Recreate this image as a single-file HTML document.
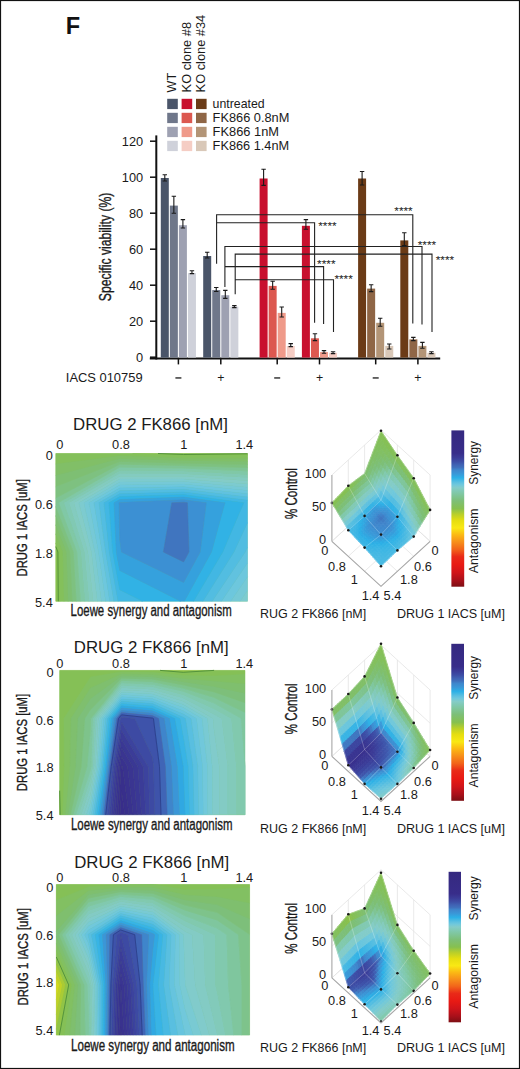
<!DOCTYPE html><html><head><meta charset="utf-8"><style>html,body{margin:0;padding:0;background:#fff;}svg{display:block;}text{font-family:"Liberation Sans",sans-serif;}.c{stroke:#1a1a1a;stroke-width:0.35px;}</style></head><body>
<svg width="520" height="1069" viewBox="0 0 520 1069">
<rect x="0" y="0" width="520" height="1069" fill="#fff"/>
<text x="65.8" y="33.6" font-size="23.5" font-weight="bold" fill="#111">F</text>
<rect x="167.2" y="98.8" width="10.6" height="10.3" fill="#4a5569"/>
<rect x="167.2" y="112.8" width="10.6" height="10.3" fill="#6f778a"/>
<rect x="167.2" y="126.8" width="10.6" height="10.3" fill="#9ea1b2"/>
<rect x="167.2" y="140.8" width="10.6" height="10.3" fill="#cfd1da"/>
<rect x="181.6" y="98.8" width="10.6" height="10.3" fill="#c8102e"/>
<rect x="181.6" y="112.8" width="10.6" height="10.3" fill="#dc5850"/>
<rect x="181.6" y="126.8" width="10.6" height="10.3" fill="#ef9a8a"/>
<rect x="181.6" y="140.8" width="10.6" height="10.3" fill="#f5cdc4"/>
<rect x="196" y="98.8" width="10.6" height="10.3" fill="#6b3b17"/>
<rect x="196" y="112.8" width="10.6" height="10.3" fill="#8f6646"/>
<rect x="196" y="126.8" width="10.6" height="10.3" fill="#b39577"/>
<rect x="196" y="140.8" width="10.6" height="10.3" fill="#d9c8b8"/>
<text transform="translate(176.4,92.4) rotate(-90)" font-size="12.6" fill="#1a1a1a" textLength="19.6" lengthAdjust="spacingAndGlyphs">WT</text>
<text transform="translate(191,92.4) rotate(-90)" font-size="12.6" fill="#1a1a1a" textLength="70.4" lengthAdjust="spacingAndGlyphs">KO clone #8</text>
<text transform="translate(205.3,92.4) rotate(-90)" font-size="12.6" fill="#1a1a1a" textLength="77.6" lengthAdjust="spacingAndGlyphs">KO clone #34</text>
<text x="212.6" y="107.7" font-size="12.4" fill="#1a1a1a" textLength="52" lengthAdjust="spacingAndGlyphs">untreated</text>
<text x="212.6" y="121.7" font-size="12.4" fill="#1a1a1a" textLength="76.8" lengthAdjust="spacingAndGlyphs">FK866 0.8nM</text>
<text x="212.6" y="135.7" font-size="12.4" fill="#1a1a1a" textLength="66.4" lengthAdjust="spacingAndGlyphs">FK866 1nM</text>
<text x="212.6" y="149.7" font-size="12.4" fill="#1a1a1a" textLength="76.6" lengthAdjust="spacingAndGlyphs">FK866 1.4nM</text>
<rect x="155.3" y="135.4" width="2" height="224.1" fill="#111"/>
<rect x="149.8" y="357.5" width="290.4" height="2" fill="#111"/>
<rect x="150" y="140.45" width="6" height="1.5" fill="#111"/>
<text x="143.2" y="145.7" font-size="12.8" text-anchor="end" fill="#1a1a1a">120</text>
<rect x="150" y="176.45" width="6" height="1.5" fill="#111"/>
<text x="143.2" y="181.7" font-size="12.8" text-anchor="end" fill="#1a1a1a">100</text>
<rect x="150" y="212.45" width="6" height="1.5" fill="#111"/>
<text x="143.2" y="217.7" font-size="12.8" text-anchor="end" fill="#1a1a1a">80</text>
<rect x="150" y="248.45" width="6" height="1.5" fill="#111"/>
<text x="143.2" y="253.7" font-size="12.8" text-anchor="end" fill="#1a1a1a">60</text>
<rect x="150" y="284.45" width="6" height="1.5" fill="#111"/>
<text x="143.2" y="289.7" font-size="12.8" text-anchor="end" fill="#1a1a1a">40</text>
<rect x="150" y="320.45" width="6" height="1.5" fill="#111"/>
<text x="143.2" y="325.7" font-size="12.8" text-anchor="end" fill="#1a1a1a">20</text>
<rect x="150" y="356.45" width="6" height="1.5" fill="#111"/>
<text x="143.2" y="361.7" font-size="12.8" text-anchor="end" fill="#1a1a1a">0</text>
<text transform="translate(110.9,301.2) rotate(-90)" font-size="17" class="c" fill="#1a1a1a" textLength="108.6" lengthAdjust="spacingAndGlyphs">Specific viability (%)</text>
<rect x="160.8" y="178" width="8" height="179.6" fill="#4a5569"/>
<rect x="169.85" y="205.6" width="8" height="152" fill="#6f778a"/>
<rect x="178.9" y="225.2" width="8" height="132.4" fill="#9ea1b2"/>
<rect x="187.95" y="273.1" width="8" height="84.5" fill="#cfd1da"/>
<path d="M164.8 174.8V181M162.6 174.8H167M162.6 181H167" stroke="#1a1a1a" stroke-width="1.1" fill="none"/>
<path d="M173.85 196.3V213.3M171.65 196.3H176.05M171.65 213.3H176.05" stroke="#1a1a1a" stroke-width="1.1" fill="none"/>
<path d="M182.9 219.6V228M180.7 219.6H185.1M180.7 228H185.1" stroke="#1a1a1a" stroke-width="1.1" fill="none"/>
<path d="M191.95 270.8V273.6M189.75 270.8H194.15M189.75 273.6H194.15" stroke="#1a1a1a" stroke-width="1.1" fill="none"/>
<rect x="203.2" y="256" width="8" height="101.6" fill="#4a5569"/>
<rect x="212.25" y="290.1" width="8" height="67.5" fill="#6f778a"/>
<rect x="221.3" y="295.2" width="8" height="62.4" fill="#9ea1b2"/>
<rect x="230.35" y="306.7" width="8" height="50.9" fill="#cfd1da"/>
<path d="M207.2 252.3V258M205 252.3H209.4M205 258H209.4" stroke="#1a1a1a" stroke-width="1.1" fill="none"/>
<path d="M216.25 287.5V291.5M214.05 287.5H218.45M214.05 291.5H218.45" stroke="#1a1a1a" stroke-width="1.1" fill="none"/>
<path d="M225.3 290.4V298.4M223.1 290.4H227.5M223.1 298.4H227.5" stroke="#1a1a1a" stroke-width="1.1" fill="none"/>
<path d="M234.35 305.6V307.6M232.15 305.6H236.55M232.15 307.6H236.55" stroke="#1a1a1a" stroke-width="1.1" fill="none"/>
<rect x="259.6" y="178.5" width="8" height="179.1" fill="#c8102e"/>
<rect x="268.65" y="285.9" width="8" height="71.7" fill="#dc5850"/>
<rect x="277.7" y="312.9" width="8" height="44.7" fill="#ef9a8a"/>
<rect x="286.75" y="346" width="8" height="11.6" fill="#f5cdc4"/>
<path d="M263.6 169.2V185.4M261.4 169.2H265.8M261.4 185.4H265.8" stroke="#1a1a1a" stroke-width="1.1" fill="none"/>
<path d="M272.65 281.2V289.3M270.45 281.2H274.85M270.45 289.3H274.85" stroke="#1a1a1a" stroke-width="1.1" fill="none"/>
<path d="M281.7 307V317M279.5 307H283.9M279.5 317H283.9" stroke="#1a1a1a" stroke-width="1.1" fill="none"/>
<path d="M290.75 343.6V346.6M288.55 343.6H292.95M288.55 346.6H292.95" stroke="#1a1a1a" stroke-width="1.1" fill="none"/>
<rect x="301.9" y="225.8" width="8" height="131.8" fill="#c8102e"/>
<rect x="310.95" y="338.3" width="8" height="19.3" fill="#dc5850"/>
<rect x="320" y="352.1" width="8" height="5.5" fill="#ef9a8a"/>
<rect x="329.05" y="352.8" width="8" height="4.8" fill="#f5cdc4"/>
<path d="M305.9 219.6V229.3M303.7 219.6H308.1M303.7 229.3H308.1" stroke="#1a1a1a" stroke-width="1.1" fill="none"/>
<path d="M314.95 333.7V340.6M312.75 333.7H317.15M312.75 340.6H317.15" stroke="#1a1a1a" stroke-width="1.1" fill="none"/>
<path d="M324 350.6V353.2M321.8 350.6H326.2M321.8 353.2H326.2" stroke="#1a1a1a" stroke-width="1.1" fill="none"/>
<path d="M333.05 351.8V353.6M330.85 351.8H335.25M330.85 353.6H335.25" stroke="#1a1a1a" stroke-width="1.1" fill="none"/>
<rect x="358.1" y="178.5" width="8" height="179.1" fill="#6b3b17"/>
<rect x="367.15" y="288.6" width="8" height="69" fill="#8f6646"/>
<rect x="376.2" y="322.8" width="8" height="34.8" fill="#b39577"/>
<rect x="385.25" y="345.9" width="8" height="11.7" fill="#d9c8b8"/>
<path d="M362.1 171.5V185M359.9 171.5H364.3M359.9 185H364.3" stroke="#1a1a1a" stroke-width="1.1" fill="none"/>
<path d="M371.15 284.7V291.6M368.95 284.7H373.35M368.95 291.6H373.35" stroke="#1a1a1a" stroke-width="1.1" fill="none"/>
<path d="M380.2 318.2V326.3M378 318.2H382.4M378 326.3H382.4" stroke="#1a1a1a" stroke-width="1.1" fill="none"/>
<path d="M389.25 344V349M387.05 344H391.45M387.05 349H391.45" stroke="#1a1a1a" stroke-width="1.1" fill="none"/>
<rect x="400.3" y="240.4" width="8" height="117.2" fill="#6b3b17"/>
<rect x="409.35" y="339.4" width="8" height="18.2" fill="#8f6646"/>
<rect x="418.4" y="345.9" width="8" height="11.7" fill="#b39577"/>
<rect x="427.45" y="352.8" width="8" height="4.8" fill="#d9c8b8"/>
<path d="M404.3 232.7V245.5M402.1 232.7H406.5M402.1 245.5H406.5" stroke="#1a1a1a" stroke-width="1.1" fill="none"/>
<path d="M413.35 337.4V340.6M411.15 337.4H415.55M411.15 340.6H415.55" stroke="#1a1a1a" stroke-width="1.1" fill="none"/>
<path d="M422.4 342.4V348.2M420.2 342.4H424.6M420.2 348.2H424.6" stroke="#1a1a1a" stroke-width="1.1" fill="none"/>
<path d="M431.45 351.8V353.6M429.25 351.8H433.65M429.25 353.6H433.65" stroke="#1a1a1a" stroke-width="1.1" fill="none"/>
<rect x="177.65" y="359" width="1.5" height="5.4" fill="#111"/>
<rect x="175.4" y="377.3" width="6" height="1.3" fill="#1a1a1a"/>
<rect x="220.05" y="359" width="1.5" height="5.4" fill="#111"/>
<text x="220.8" y="382.2" font-size="12.4" text-anchor="middle" fill="#1a1a1a">+</text>
<rect x="276.45" y="359" width="1.5" height="5.4" fill="#111"/>
<rect x="274.2" y="377.3" width="6" height="1.3" fill="#1a1a1a"/>
<rect x="318.75" y="359" width="1.5" height="5.4" fill="#111"/>
<text x="319.5" y="382.2" font-size="12.4" text-anchor="middle" fill="#1a1a1a">+</text>
<rect x="374.95" y="359" width="1.5" height="5.4" fill="#111"/>
<rect x="372.7" y="377.3" width="6" height="1.3" fill="#1a1a1a"/>
<rect x="417.15" y="359" width="1.5" height="5.4" fill="#111"/>
<text x="417.9" y="382.2" font-size="12.4" text-anchor="middle" fill="#1a1a1a">+</text>
<text x="65.8" y="382.2" font-size="12.6" fill="#1a1a1a" textLength="76.8" lengthAdjust="spacingAndGlyphs">IACS 010759</text>
<path d="M216.6 263.8V214.8H412.8V323.5M216.6 222.8H314.6V322.8" stroke="#222" stroke-width="1.1" fill="none"/>
<path d="M224.9 287V246.5H422V324.4M224.9 266.6H323.6V324" stroke="#222" stroke-width="1.1" fill="none"/>
<path d="M235.2 294.3V254.1H432V332M235.2 279.7H333.5V332" stroke="#222" stroke-width="1.1" fill="none"/>
<text x="318.2" y="230" font-size="11.5" fill="#1a1a1a" textLength="18.4" lengthAdjust="spacingAndGlyphs">****</text>
<text x="317.1" y="268.1" font-size="11.5" fill="#1a1a1a" textLength="18.4" lengthAdjust="spacingAndGlyphs">****</text>
<text x="334.4" y="282.8" font-size="11.5" fill="#1a1a1a" textLength="18.4" lengthAdjust="spacingAndGlyphs">****</text>
<text x="394.3" y="214.8" font-size="11.5" fill="#1a1a1a" textLength="18.4" lengthAdjust="spacingAndGlyphs">****</text>
<text x="417.7" y="248.9" font-size="11.5" fill="#1a1a1a" textLength="18.4" lengthAdjust="spacingAndGlyphs">****</text>
<text x="435.7" y="264" font-size="11.5" fill="#1a1a1a" textLength="18.4" lengthAdjust="spacingAndGlyphs">****</text>
<rect x="55.8" y="453.5" width="191.7" height="147.8" fill="#86c050"/>
<path d="M183.6 453.5L247.5 453.5L247.5 455.0L183.6 455.6L132.5 453.5ZM59.4 552.0L59.9 601.3L55.8 601.3L55.8 552.0L55.8 542.9Z" fill="#88c14e" stroke="#88c14e" stroke-width="0.5"/>
<path d="M119.7 453.5L132.5 453.5L183.6 455.6L247.5 455.0L247.5 458.3L183.6 458.2L119.7 455.8L55.8 464.0L55.8 453.5ZM62.9 552.0L64.1 601.3L59.9 601.3L59.4 552.0L55.8 542.9L55.8 533.8Z" fill="#84c05b" stroke="#84c05b" stroke-width="0.5"/>
<path d="M119.7 455.8L183.6 458.2L247.5 458.3L247.5 461.5L183.6 460.8L119.7 458.7L55.8 475.4L55.8 464.0ZM66.5 552.0L68.2 601.3L64.1 601.3L62.9 552.0L55.8 533.8L55.8 524.7Z" fill="#81bf67" stroke="#81bf67" stroke-width="0.5"/>
<path d="M119.7 458.7L183.6 460.8L247.5 461.5L247.5 464.7L183.6 463.4L119.7 461.7L55.8 486.8L55.8 475.4ZM70.0 552.0L72.4 601.3L68.2 601.3L66.5 552.0L55.8 524.7L55.8 515.5Z" fill="#7ebf73" stroke="#7ebf73" stroke-width="0.5"/>
<path d="M119.7 461.7L183.6 463.4L247.5 464.7L247.5 467.9L183.6 465.9L119.7 464.6L55.8 498.2L55.8 486.8ZM73.6 552.0L76.5 601.3L72.4 601.3L70.0 552.0L55.8 515.5L55.8 506.4Z" fill="#7ec180" stroke="#7ec180" stroke-width="0.5"/>
<path d="M119.7 464.6L183.6 465.9L247.5 467.9L247.5 471.2L183.6 468.5L119.7 467.5L58.8 502.8L77.1 552.0L80.7 601.3L76.5 601.3L73.6 552.0L55.8 506.4L55.8 502.8L55.8 498.2Z" fill="#7fc493" stroke="#7fc493" stroke-width="0.5"/>
<path d="M119.7 467.5L183.6 468.5L247.5 471.2L247.5 474.4L183.6 471.1L119.7 470.4L63.8 502.8L80.7 552.0L84.8 601.3L80.7 601.3L77.1 552.0L58.8 502.8Z" fill="#80c8a6" stroke="#80c8a6" stroke-width="0.5"/>
<path d="M119.7 470.4L183.6 471.1L247.5 474.4L247.5 477.6L183.6 473.7L119.7 473.3L68.9 502.8L84.3 552.0L89.0 601.3L84.8 601.3L80.7 552.0L63.8 502.8Z" fill="#81c9b3" stroke="#81c9b3" stroke-width="0.5"/>
<path d="M119.7 473.3L183.6 473.7L247.5 477.6L247.5 480.8L183.6 476.3L119.7 476.2L73.9 502.8L87.8 552.0L93.1 601.3L89.0 601.3L84.3 552.0L68.9 502.8Z" fill="#83cbbf" stroke="#83cbbf" stroke-width="0.5"/>
<path d="M119.7 476.2L183.6 476.3L247.5 480.8L247.5 484.1L183.6 478.9L119.7 479.1L78.9 502.8L91.4 552.0L97.3 601.3L93.1 601.3L87.8 552.0L73.9 502.8Z" fill="#84ccc7" stroke="#84ccc7" stroke-width="0.5"/>
<path d="M119.7 479.1L183.6 478.9L247.5 484.1L247.5 487.3L183.6 481.5L119.7 482.0L83.9 502.8L94.9 552.0L101.4 601.3L97.3 601.3L91.4 552.0L78.9 502.8ZM247.5 590.4L247.5 601.3L240.1 601.3Z" fill="#7dcbcf" stroke="#7dcbcf" stroke-width="0.5"/>
<path d="M119.7 482.0L183.6 481.5L247.5 487.3L247.5 490.5L183.6 484.1L119.7 484.9L89.0 502.8L98.5 552.0L105.6 601.3L101.4 601.3L94.9 552.0L83.9 502.8ZM247.5 576.7L247.5 590.4L240.1 601.3L230.8 601.3Z" fill="#76c9d6" stroke="#76c9d6" stroke-width="0.5"/>
<path d="M119.7 484.9L183.6 484.1L247.5 490.5L247.5 493.7L183.6 486.7L119.7 487.9L94.0 502.8L102.1 552.0L109.7 601.3L105.6 601.3L98.5 552.0L89.0 502.8ZM247.5 563.0L247.5 576.7L230.8 601.3L221.5 601.3Z" fill="#6dc7dd" stroke="#6dc7dd" stroke-width="0.5"/>
<path d="M119.7 487.9L183.6 486.7L247.5 493.7L247.5 497.0L183.6 489.3L119.7 490.8L99.0 502.8L105.6 552.0L113.9 601.3L109.7 601.3L102.1 552.0L94.0 502.8ZM247.5 547.1L247.5 552.0L247.5 563.0L221.5 601.3L212.2 601.3L245.2 552.0Z" fill="#61c2df" stroke="#61c2df" stroke-width="0.5"/>
<path d="M119.7 490.8L183.6 489.3L247.5 497.0L247.5 500.2L183.6 491.9L119.7 493.7L104.0 502.8L109.2 552.0L118.0 601.3L113.9 601.3L105.6 552.0L99.0 502.8ZM247.5 522.5L247.5 547.1L245.2 552.0L212.2 601.3L202.9 601.3L234.0 552.0Z" fill="#52bde1" stroke="#52bde1" stroke-width="0.5"/>
<path d="M119.7 493.7L183.6 491.9L247.5 500.2L247.5 502.8L247.5 522.5L234.0 552.0L202.9 601.3L193.6 601.3L222.8 552.0L243.7 502.8L183.6 494.5L119.7 496.6L109.0 502.8L112.7 552.0L119.7 589.8L142.5 601.3L119.7 601.3L118.0 601.3L109.2 552.0L104.0 502.8Z" fill="#42b7e3" stroke="#42b7e3" stroke-width="0.5"/>
<path d="M119.7 496.6L183.6 494.5L243.7 502.8L222.8 552.0L193.6 601.3L184.3 601.3L211.5 552.0L224.9 502.8L183.6 497.1L119.7 499.5L114.1 502.8L116.3 552.0L119.7 570.5L180.6 601.3L142.5 601.3L119.7 589.8L112.7 552.0L109.0 502.8Z" fill="#31b2e5" stroke="#31b2e5" stroke-width="0.5"/>
<path d="M119.7 499.5L183.6 497.1L224.9 502.8L211.5 552.0L184.3 601.3L183.6 601.3L180.6 601.3L119.7 570.5L116.3 552.0L114.1 502.8ZM119.1 502.8L119.7 539.7L121.4 552.0L183.6 582.4L200.2 552.0L206.2 502.8L183.6 499.7L119.7 502.4Z" fill="#35a1dd" stroke="#35a1dd" stroke-width="0.5"/>
<path d="M119.7 502.4L183.6 499.7L206.2 502.8L200.2 552.0L183.6 582.4L121.4 552.0L119.7 539.7L119.1 502.8ZM171.8 502.8L163.4 552.0L183.6 561.9L189.0 552.0L187.4 502.8L183.6 502.2Z" fill="#3c90d3" stroke="#3c90d3" stroke-width="0.5"/>
<path d="M183.6 502.2L187.4 502.8L189.0 552.0L183.6 561.9L163.4 552.0L171.8 502.8Z" fill="#4075bf" stroke="#4075bf" stroke-width="0.5"/>
<path d="M158.0 453.5L183.6 454.5L247.5 453.8M58.3 601.3L57.9 552.0L55.8 546.6" stroke="#4f8f3a" stroke-width="0.9" fill="none"/>
<text x="73" y="430" font-size="15.6" fill="#1a1a1a" textLength="155" lengthAdjust="spacingAndGlyphs">DRUG 2 FK866 [nM]</text>
<text x="59.7" y="448.6" font-size="12.8" text-anchor="middle" fill="#1a1a1a">0</text>
<text x="121" y="448.6" font-size="12.8" text-anchor="middle" fill="#1a1a1a">0.8</text>
<text x="183.7" y="448.6" font-size="12.8" text-anchor="middle" fill="#1a1a1a">1</text>
<text x="244.3" y="448.6" font-size="12.8" text-anchor="middle" fill="#1a1a1a">1.4</text>
<text x="52.8" y="459.7" font-size="12.8" text-anchor="end" fill="#1a1a1a">0</text>
<text x="52.8" y="509.3" font-size="12.8" text-anchor="end" fill="#1a1a1a">0.6</text>
<text x="52.8" y="558.3" font-size="12.8" text-anchor="end" fill="#1a1a1a">1.8</text>
<text x="52.8" y="606.8" font-size="12.8" text-anchor="end" fill="#1a1a1a">5.4</text>
<text transform="translate(27.3,527.8) rotate(-90)" font-size="15" class="c" text-anchor="middle" fill="#1a1a1a" textLength="97.3" lengthAdjust="spacingAndGlyphs">DRUG 1 IACS [uM]</text>
<text x="70.6" y="615.7" font-size="16" class="c" fill="#1a1a1a" textLength="161.1" lengthAdjust="spacingAndGlyphs">Loewe synergy and antagonism</text>
<rect x="59.7" y="670.4" width="185.3" height="144.4" fill="#86c050"/>
<path d="M183.2 670.4L214.1 670.4L214.1 670.4L214.1 670.4L183.2 672.3L160.1 670.4ZM60.2 814.8L59.7 814.8L59.7 790.7Z" fill="#92c447" stroke="#92c447" stroke-width="0.5"/>
<path d="M90.6 670.4L121.5 670.4L152.4 670.4L160.1 670.4L183.2 672.3L214.1 670.4L214.1 670.4L245.0 670.4L245.0 674.3L214.1 675.9L183.2 675.5L152.4 672.3L121.5 671.8L90.6 677.0L63.9 718.5L64.3 766.7L62.8 814.8L60.2 814.8L59.7 790.7L59.7 766.7L59.7 718.5L59.7 670.4Z" fill="#85c056" stroke="#85c056" stroke-width="0.5"/>
<path d="M90.6 677.0L121.5 671.8L152.4 672.3L183.2 675.5L214.1 675.9L245.0 674.3L245.0 683.9L214.1 681.3L183.2 678.7L152.4 674.7L121.5 674.0L90.6 687.9L70.9 718.5L70.0 766.7L65.5 814.8L62.8 814.8L64.3 766.7L63.9 718.5Z" fill="#82c062" stroke="#82c062" stroke-width="0.5"/>
<path d="M90.6 687.9L121.5 674.0L152.4 674.7L183.2 678.7L214.1 681.3L245.0 683.9L245.0 693.5L214.1 686.8L183.2 682.0L152.4 677.1L121.5 676.3L90.6 698.8L77.9 718.5L75.7 766.7L68.1 814.8L65.5 814.8L70.0 766.7L70.9 718.5Z" fill="#7fbf6e" stroke="#7fbf6e" stroke-width="0.5"/>
<path d="M90.6 698.8L121.5 676.3L152.4 677.1L183.2 682.0L214.1 686.8L245.0 693.5L245.0 703.1L214.1 692.3L183.2 685.2L152.4 679.5L121.5 678.6L90.6 709.8L85.0 718.5L81.4 766.7L70.7 814.8L68.1 814.8L75.7 766.7L77.9 718.5Z" fill="#7dbf7a" stroke="#7dbf7a" stroke-width="0.5"/>
<path d="M90.6 709.8L121.5 678.6L152.4 679.5L183.2 685.2L214.1 692.3L245.0 703.1L245.0 712.8L214.1 697.7L183.2 688.4L152.4 682.0L121.5 680.8L91.0 718.5L90.6 730.6L87.2 766.7L73.3 814.8L70.7 814.8L81.4 766.7L85.0 718.5Z" fill="#7ec38b" stroke="#7ec38b" stroke-width="0.5"/>
<path d="M121.5 680.8L152.4 682.0L183.2 688.4L214.1 697.7L245.0 712.8L245.0 718.5L245.0 766.7L245.0 814.8L245.0 814.8L245.0 766.7L241.1 718.5L214.1 703.2L183.2 691.6L152.4 684.4L121.5 683.1L92.8 718.5L91.2 766.7L90.6 769.9L75.9 814.8L73.3 814.8L87.2 766.7L90.6 730.6L91.0 718.5Z" fill="#7fc69e" stroke="#7fc69e" stroke-width="0.5"/>
<path d="M121.5 683.1L152.4 684.4L183.2 691.6L214.1 703.2L241.1 718.5L245.0 766.7L245.0 814.8L236.4 814.8L236.4 766.7L231.5 718.5L214.1 708.7L183.2 694.8L152.4 686.8L121.5 685.4L94.6 718.5L92.6 766.7L90.6 777.9L78.5 814.8L75.9 814.8L90.6 769.9L91.2 766.7L92.8 718.5Z" fill="#81c9ae" stroke="#81c9ae" stroke-width="0.5"/>
<path d="M121.5 685.4L152.4 686.8L183.2 694.8L214.1 708.7L231.5 718.5L236.4 766.7L236.4 814.8L227.8 814.8L227.8 766.7L221.8 718.5L214.1 714.2L183.2 698.0L152.4 689.2L121.5 687.7L96.5 718.5L94.0 766.7L90.6 785.9L81.2 814.8L78.5 814.8L90.6 777.9L92.6 766.7L94.6 718.5Z" fill="#82caba" stroke="#82caba" stroke-width="0.5"/>
<path d="M121.5 687.7L152.4 689.2L183.2 698.0L214.1 714.2L221.8 718.5L227.8 766.7L227.8 814.8L219.3 814.8L219.3 766.7L214.1 730.6L213.0 718.5L183.2 701.2L152.4 691.6L121.5 689.9L98.3 718.5L95.4 766.7L90.6 793.9L83.8 814.8L81.2 814.8L90.6 785.9L94.0 766.7L96.5 718.5Z" fill="#83cbc4" stroke="#83cbc4" stroke-width="0.5"/>
<path d="M121.5 689.9L152.4 691.6L183.2 701.2L213.0 718.5L214.1 730.6L219.3 766.7L219.3 814.8L214.1 814.8L212.3 814.8L212.2 766.7L207.5 718.5L183.2 704.4L152.4 694.0L121.5 692.2L100.1 718.5L96.9 766.7L90.6 802.0L86.4 814.8L83.8 814.8L90.6 793.9L95.4 766.7L98.3 718.5Z" fill="#81cbcb" stroke="#81cbcb" stroke-width="0.5"/>
<path d="M121.5 692.2L152.4 694.0L183.2 704.4L207.5 718.5L212.2 766.7L212.3 814.8L207.8 814.8L207.4 766.7L202.0 718.5L183.2 707.6L152.4 696.4L121.5 694.5L102.0 718.5L98.3 766.7L90.6 810.0L89.0 814.8L86.4 814.8L90.6 802.0L96.9 766.7L100.1 718.5Z" fill="#79cad3" stroke="#79cad3" stroke-width="0.5"/>
<path d="M121.5 694.5L152.4 696.4L183.2 707.6L202.0 718.5L207.4 766.7L207.8 814.8L203.2 814.8L202.5 766.7L196.5 718.5L183.2 710.8L152.4 698.8L121.5 696.7L103.8 718.5L99.7 766.7L91.3 814.8L90.6 814.8L89.0 814.8L90.6 810.0L98.3 766.7L102.0 718.5Z" fill="#71c8db" stroke="#71c8db" stroke-width="0.5"/>
<path d="M121.5 696.7L152.4 698.8L183.2 710.8L196.5 718.5L202.5 766.7L203.2 814.8L198.7 814.8L197.7 766.7L191.0 718.5L183.2 714.0L152.4 701.2L121.5 699.0L105.7 718.5L101.2 766.7L93.1 814.8L91.3 814.8L99.7 766.7L103.8 718.5Z" fill="#66c4de" stroke="#66c4de" stroke-width="0.5"/>
<path d="M121.5 699.0L152.4 701.2L183.2 714.0L191.0 718.5L197.7 766.7L198.7 814.8L194.1 814.8L192.9 766.7L185.4 718.5L183.2 717.2L152.4 703.6L121.5 701.3L107.5 718.5L102.6 766.7L94.9 814.8L93.1 814.8L101.2 766.7L105.7 718.5Z" fill="#59bfe0" stroke="#59bfe0" stroke-width="0.5"/>
<path d="M121.5 701.3L152.4 703.6L183.2 717.2L185.4 718.5L192.9 766.7L194.1 814.8L189.6 814.8L188.1 766.7L183.2 736.6L180.0 718.5L152.4 706.0L121.5 703.5L109.3 718.5L104.0 766.7L96.7 814.8L94.9 814.8L102.6 766.7L107.5 718.5Z" fill="#48b9e2" stroke="#48b9e2" stroke-width="0.5"/>
<path d="M121.5 703.5L152.4 706.0L180.0 718.5L183.2 736.6L188.1 766.7L189.6 814.8L185.1 814.8L183.2 766.7L183.2 766.7L174.7 718.5L152.4 708.4L121.5 705.8L111.2 718.5L105.5 766.7L98.5 814.8L96.7 814.8L104.0 766.7L109.3 718.5Z" fill="#38b4e5" stroke="#38b4e5" stroke-width="0.5"/>
<path d="M121.5 705.8L152.4 708.4L174.7 718.5L183.2 766.7L183.2 766.7L185.1 814.8L183.2 814.8L179.5 814.8L177.3 766.7L169.4 718.5L152.4 710.8L121.5 708.1L113.0 718.5L106.9 766.7L100.3 814.8L98.5 814.8L105.5 766.7L111.2 718.5Z" fill="#30a8e2" stroke="#30a8e2" stroke-width="0.5"/>
<path d="M121.5 708.1L152.4 710.8L169.4 718.5L177.3 766.7L179.5 814.8L173.4 814.8L171.4 766.7L164.1 718.5L152.4 713.2L121.5 710.4L114.8 718.5L108.3 766.7L102.1 814.8L100.3 814.8L106.9 766.7L113.0 718.5Z" fill="#3b96d7" stroke="#3b96d7" stroke-width="0.5"/>
<path d="M121.5 710.4L152.4 713.2L164.1 718.5L171.4 766.7L173.4 814.8L167.2 814.8L165.4 766.7L158.7 718.5L152.4 715.6L121.5 712.6L116.7 718.5L109.7 766.7L103.9 814.8L102.1 814.8L108.3 766.7L114.8 718.5Z" fill="#3f85cb" stroke="#3f85cb" stroke-width="0.5"/>
<path d="M121.5 712.6L152.3 715.6L158.7 718.5L165.4 766.7L167.2 814.8L161.0 814.8L159.5 766.7L153.4 718.5L152.4 718.1L121.5 714.9L118.5 718.5L111.2 766.7L105.7 814.8L103.9 814.8L109.7 766.7L116.7 718.5Z" fill="#4065b6" stroke="#4065b6" stroke-width="0.5"/>
<path d="M121.5 714.9L152.4 718.1L153.4 718.5L159.5 766.7L161.0 814.8L154.8 814.8L153.5 766.7L152.4 757.0L134.7 718.5L121.5 717.2L120.4 718.5L112.6 766.7L107.5 814.8L105.7 814.8L111.2 766.7L118.5 718.5Z" fill="#3e53aa" stroke="#3e53aa" stroke-width="0.5"/>
<path d="M121.5 717.2L134.7 718.5L152.4 757.0L153.5 766.7L154.8 814.8L152.4 814.8L149.8 814.8L148.2 766.7L121.5 722.0L114.0 766.7L109.3 814.8L107.5 814.8L112.6 766.7L120.4 718.5Z" fill="#3d4aa3" stroke="#3d4aa3" stroke-width="0.5"/>
<path d="M121.5 722.0L148.2 766.7L149.8 814.8L145.7 814.8L143.1 766.7L121.5 730.6L115.5 766.7L111.1 814.8L109.3 814.8L114.0 766.7Z" fill="#3c439e" stroke="#3c439e" stroke-width="0.5"/>
<path d="M121.5 730.6L143.1 766.7L145.7 814.8L141.5 814.8L137.9 766.7L121.5 739.2L116.9 766.7L112.8 814.8L111.1 814.8L115.5 766.7Z" fill="#3b3c98" stroke="#3b3c98" stroke-width="0.5"/>
<path d="M121.5 739.2L137.9 766.7L141.5 814.8L137.3 814.8L132.8 766.7L121.5 747.8L118.3 766.7L114.6 814.8L112.8 814.8L116.9 766.7Z" fill="#3a3894" stroke="#3a3894" stroke-width="0.5"/>
<path d="M121.5 747.8L132.8 766.7L137.3 814.8L133.2 814.8L127.6 766.7L121.5 756.4L119.8 766.7L116.4 814.8L114.6 814.8L118.3 766.7Z" fill="#3a3591" stroke="#3a3591" stroke-width="0.5"/>
<path d="M121.5 756.4L127.6 766.7L133.2 814.8L129.0 814.8L122.5 766.7L121.5 764.9L121.2 766.7L118.2 814.8L116.4 814.8L119.8 766.7Z" fill="#39328e" stroke="#39328e" stroke-width="0.5"/>
<path d="M121.5 764.9L122.5 766.7L129.0 814.8L124.8 814.8L121.5 790.7L120.0 814.8L118.2 814.8L121.2 766.7Z" fill="#382f8b" stroke="#382f8b" stroke-width="0.5"/>
<path d="M121.5 790.7L124.8 814.8L121.5 814.8L120.0 814.8Z" fill="#382d8a" stroke="#382d8a" stroke-width="0.5"/>
<path d="M160.1 670.4L183.2 672.3L214.1 670.4L214.1 670.4M60.2 814.8L59.7 790.7" stroke="#4f8f3a" stroke-width="0.9" fill="none"/>
<path d="M105.7 814.8L111.2 766.7L118.5 718.5L121.5 714.9L152.4 718.1L153.4 718.5L159.5 766.7L161.0 814.8" stroke="#2b3f8f" stroke-width="0.9" fill="none"/>
<text x="73.75" y="653" font-size="15.6" fill="#1a1a1a" textLength="155" lengthAdjust="spacingAndGlyphs">DRUG 2 FK866 [nM]</text>
<text x="59.7" y="667.7" font-size="12.8" text-anchor="middle" fill="#1a1a1a">0</text>
<text x="121" y="667.7" font-size="12.8" text-anchor="middle" fill="#1a1a1a">0.8</text>
<text x="183.7" y="667.7" font-size="12.8" text-anchor="middle" fill="#1a1a1a">1</text>
<text x="244.3" y="667.7" font-size="12.8" text-anchor="middle" fill="#1a1a1a">1.4</text>
<text x="53.5" y="676.9" font-size="12.8" text-anchor="end" fill="#1a1a1a">0</text>
<text x="53.5" y="724.9" font-size="12.8" text-anchor="end" fill="#1a1a1a">0.6</text>
<text x="53.5" y="772" font-size="12.8" text-anchor="end" fill="#1a1a1a">1.8</text>
<text x="53.5" y="820" font-size="12.8" text-anchor="end" fill="#1a1a1a">5.4</text>
<text transform="translate(27.3,742.5) rotate(-90)" font-size="15" class="c" text-anchor="middle" fill="#1a1a1a" textLength="97.3" lengthAdjust="spacingAndGlyphs">DRUG 1 IACS [uM]</text>
<text x="71" y="830.1" font-size="16" class="c" fill="#1a1a1a" textLength="161.5" lengthAdjust="spacingAndGlyphs">Loewe synergy and antagonism</text>
<rect x="56.3" y="884.5" width="193.3" height="150.6" fill="#86c050"/>
<path d="M59.4 984.9L56.3 999.7L56.3 984.9L56.3 977.9Z" fill="#d4d81b" stroke="#d4d81b" stroke-width="0.5"/>
<path d="M62.5 984.9L56.3 1014.4L56.3 999.7L59.4 984.9L56.3 977.9L56.3 971.0Z" fill="#c0d126" stroke="#c0d126" stroke-width="0.5"/>
<path d="M65.6 984.9L56.3 1029.2L56.3 1014.4L62.5 984.9L56.3 971.0L56.3 964.0Z" fill="#aacb35" stroke="#aacb35" stroke-width="0.5"/>
<path d="M56.3 884.5L56.3 884.5L56.3 884.5ZM185.2 884.5L185.2 884.5L185.2 884.5L185.2 884.5ZM68.7 984.9L59.4 1035.1L56.3 1035.1L56.3 1029.2L65.6 984.9L56.3 964.0L56.3 957.0Z" fill="#92c447" stroke="#92c447" stroke-width="0.5"/>
<path d="M88.5 884.5L120.7 884.5L152.9 884.5L185.2 884.5L185.2 884.5L185.2 884.5L217.4 884.5L249.6 884.5L249.6 887.6L217.4 889.2L185.2 889.7L152.9 884.5L120.7 885.0L88.5 886.9L56.3 900.2L56.3 884.5L56.3 884.5ZM71.8 984.9L64.6 1035.1L59.4 1035.1L68.7 984.9L56.3 957.0L56.3 950.0Z" fill="#85c056" stroke="#85c056" stroke-width="0.5"/>
<path d="M88.5 886.9L120.7 885.0L152.9 884.5L185.2 889.7L217.4 889.2L249.6 887.6L249.6 903.3L217.4 897.0L185.2 895.0L152.9 887.6L120.7 887.3L88.5 890.8L56.3 915.9L56.3 900.2ZM74.9 984.9L69.8 1035.1L64.6 1035.1L71.8 984.9L56.3 950.0L56.3 943.1Z" fill="#82c062" stroke="#82c062" stroke-width="0.5"/>
<path d="M88.5 890.8L120.7 887.3L152.9 887.6L185.2 895.0L217.4 897.0L249.6 903.3L249.6 919.0L217.4 904.9L185.2 900.2L152.9 890.6L120.7 889.7L88.5 894.7L56.3 931.6L56.3 915.9ZM78.0 984.9L75.0 1035.1L69.8 1035.1L74.9 984.9L56.3 943.1L56.3 936.1Z" fill="#7fbf6e" stroke="#7fbf6e" stroke-width="0.5"/>
<path d="M88.5 894.7L120.7 889.7L152.9 890.6L185.2 900.2L217.4 904.9L249.6 919.0L249.6 934.7L249.6 934.7L249.6 934.7L217.4 912.7L185.2 905.4L152.9 893.7L120.7 892.1L88.5 898.6L58.9 934.7L81.1 984.9L80.2 1035.1L75.0 1035.1L78.0 984.9L56.3 936.1L56.3 934.7L56.3 931.6ZM249.6 1035.1L249.6 1035.1L249.6 1035.1Z" fill="#7dbf7a" stroke="#7dbf7a" stroke-width="0.5"/>
<path d="M88.5 898.6L120.7 892.1L152.9 893.7L185.2 905.4L217.4 912.7L249.6 934.7L249.6 934.7L249.6 984.9L249.6 1035.1L249.6 1035.1L241.5 1035.1L241.5 984.9L238.1 934.7L217.4 920.6L185.2 910.6L152.9 896.7L120.7 894.4L88.5 902.5L62.1 934.7L84.2 984.9L85.4 1035.1L80.2 1035.1L81.1 984.9L58.9 934.7Z" fill="#7ec38b" stroke="#7ec38b" stroke-width="0.5"/>
<path d="M88.5 902.5L120.7 894.4L152.9 896.7L185.2 910.6L217.4 920.6L238.1 934.7L241.5 984.9L241.5 1035.1L233.5 1035.1L228.1 984.9L226.6 934.7L217.4 928.4L185.2 915.9L152.9 899.8L120.7 896.8L88.5 906.5L65.3 934.7L87.3 984.9L88.5 1010.0L89.1 1035.1L88.5 1035.1L85.4 1035.1L84.2 984.9L62.1 934.7Z" fill="#7fc69e" stroke="#7fc69e" stroke-width="0.5"/>
<path d="M88.5 906.5L120.7 896.8L152.9 899.8L185.2 915.9L217.4 928.4L226.6 934.7L228.1 984.9L233.5 1035.1L225.4 1035.1L217.4 993.3L215.4 984.9L215.1 934.7L185.2 921.1L152.9 902.9L120.7 899.2L88.5 910.4L68.5 934.7L88.5 980.5L89.5 984.9L90.6 1035.1L89.1 1035.1L88.5 1010.0L87.3 984.9L65.3 934.7Z" fill="#81c9ae" stroke="#81c9ae" stroke-width="0.5"/>
<path d="M88.5 910.4L120.7 899.2L152.9 902.9L185.2 921.1L215.1 934.7L215.4 984.9L217.4 993.3L225.4 1035.1L217.4 1035.1L217.4 1035.1L205.3 984.9L203.6 934.7L185.2 926.3L152.9 905.9L120.7 901.5L88.5 914.3L71.8 934.7L88.5 973.1L91.1 984.9L92.1 1035.1L90.6 1035.1L89.5 984.9L88.5 980.5L68.5 934.7Z" fill="#82caba" stroke="#82caba" stroke-width="0.5"/>
<path d="M88.5 914.3L120.7 901.5L152.9 905.9L185.2 926.3L203.6 934.7L205.3 984.9L217.4 1035.1L209.3 1035.1L195.2 984.9L192.1 934.7L185.2 931.6L152.9 909.0L120.7 903.9L88.5 918.2L75.0 934.7L88.5 965.7L92.8 984.9L93.6 1035.1L92.1 1035.1L91.1 984.9L88.5 973.1L71.8 934.7Z" fill="#83cbc4" stroke="#83cbc4" stroke-width="0.5"/>
<path d="M88.5 918.2L120.7 903.9L152.9 909.0L185.2 931.6L192.1 934.7L195.2 984.9L209.3 1035.1L201.3 1035.1L185.2 984.9L185.2 984.9L183.5 934.7L152.9 912.0L120.7 906.3L88.5 922.1L78.2 934.7L88.5 958.3L94.4 984.9L95.1 1035.1L93.6 1035.1L92.8 984.9L88.5 965.7L75.0 934.7Z" fill="#81cbcb" stroke="#81cbcb" stroke-width="0.5"/>
<path d="M88.5 922.1L120.7 906.3L152.9 912.0L183.5 934.7L185.2 984.9L185.2 984.9L201.3 1035.1L193.2 1035.1L185.2 1010.0L179.8 984.9L179.4 934.7L152.9 915.1L120.7 908.7L88.5 926.1L81.4 934.7L88.5 950.9L96.1 984.9L96.6 1035.1L95.1 1035.1L94.4 984.9L88.5 958.3L78.2 934.7Z" fill="#79cad3" stroke="#79cad3" stroke-width="0.5"/>
<path d="M88.5 926.1L120.7 908.7L152.9 915.1L179.4 934.7L179.8 984.9L185.2 1010.0L193.2 1035.1L185.2 1035.1L185.2 1035.1L174.4 984.9L175.3 934.7L152.9 918.2L120.7 911.0L88.5 930.0L84.7 934.7L88.5 943.6L97.7 984.9L98.1 1035.1L96.6 1035.1L96.1 984.9L88.5 950.9L81.4 934.7Z" fill="#71c8db" stroke="#71c8db" stroke-width="0.5"/>
<path d="M88.5 930.0L120.7 911.0L152.9 918.2L175.3 934.7L174.4 984.9L185.2 1035.1L177.8 1035.1L169.1 984.9L171.1 934.7L152.9 921.2L120.7 913.4L88.5 933.9L87.9 934.7L88.5 936.2L99.4 984.9L99.6 1035.1L98.1 1035.1L97.7 984.9L88.5 943.6L84.7 934.7Z" fill="#66c4de" stroke="#66c4de" stroke-width="0.5"/>
<path d="M88.5 933.9L120.7 913.4L152.9 921.2L171.1 934.7L169.1 984.9L177.8 1035.1L170.5 1035.1L163.7 984.9L167.0 934.7L152.9 924.3L120.7 915.8L91.4 934.7L101.0 984.9L101.0 1035.1L99.6 1035.1L99.4 984.9L88.5 936.2L87.9 934.7Z" fill="#59bfe0" stroke="#59bfe0" stroke-width="0.5"/>
<path d="M120.7 915.8L152.9 924.3L167.0 934.7L163.7 984.9L170.5 1035.1L163.2 1035.1L158.3 984.9L162.9 934.7L152.9 927.4L120.7 918.1L95.1 934.7L102.7 984.9L102.5 1035.1L101.0 1035.1L101.0 984.9L91.4 934.7Z" fill="#48b9e2" stroke="#48b9e2" stroke-width="0.5"/>
<path d="M120.7 918.1L152.9 927.4L162.9 934.7L158.3 984.9L163.2 1035.1L155.9 1035.1L152.9 984.9L152.9 984.9L152.9 984.9L158.7 934.7L152.9 930.4L120.7 920.5L98.8 934.7L104.3 984.9L104.0 1035.1L102.5 1035.1L102.7 984.9L95.1 934.7Z" fill="#38b4e5" stroke="#38b4e5" stroke-width="0.5"/>
<path d="M120.7 920.5L152.9 930.4L158.7 934.7L152.9 984.9L152.9 984.9L152.9 984.9L155.9 1035.1L152.9 1035.1L151.2 1035.1L149.7 984.9L152.9 949.0L154.6 934.7L152.9 933.5L120.7 922.9L102.4 934.7L105.9 984.9L105.5 1035.1L104.0 1035.1L104.3 984.9L98.8 934.7Z" fill="#30a8e2" stroke="#30a8e2" stroke-width="0.5"/>
<path d="M120.7 922.9L152.9 933.5L154.6 934.7L152.9 949.0L149.7 984.9L151.2 1035.1L148.2 1035.1L146.5 984.9L148.7 934.7L120.7 925.2L106.1 934.7L107.6 984.9L107.0 1035.1L105.5 1035.1L105.9 984.9L102.4 934.7Z" fill="#3b96d7" stroke="#3b96d7" stroke-width="0.5"/>
<path d="M120.7 925.2L148.7 934.7L146.5 984.9L148.2 1035.1L145.2 1035.1L143.3 984.9L141.7 934.7L120.7 927.6L109.8 934.7L109.2 984.9L108.5 1035.1L107.0 1035.1L107.6 984.9L106.1 934.7Z" fill="#3f85cb" stroke="#3f85cb" stroke-width="0.5"/>
<path d="M120.7 927.6L141.7 934.7L143.3 984.9L145.2 1035.1L142.2 1035.1L140.1 984.9L134.7 934.7L120.7 930.0L113.4 934.7L110.9 984.9L110.0 1035.1L108.5 1035.1L109.2 984.9L109.8 934.7Z" fill="#4065b6" stroke="#4065b6" stroke-width="0.5"/>
<path d="M120.7 930.0L134.7 934.7L140.1 984.9L142.2 1035.1L139.2 1035.1L136.8 984.9L127.7 934.7L120.7 932.3L117.1 934.7L112.5 984.9L111.5 1035.1L110.0 1035.1L110.9 984.9L113.4 934.7Z" fill="#3e53aa" stroke="#3e53aa" stroke-width="0.5"/>
<path d="M120.7 932.3L127.7 934.7L136.8 984.9L139.2 1035.1L136.2 1035.1L133.6 984.9L120.7 934.7L114.2 984.9L113.0 1035.1L111.5 1035.1L112.5 984.9L117.1 934.7Z" fill="#3d4aa3" stroke="#3d4aa3" stroke-width="0.5"/>
<path d="M120.7 934.7L133.6 984.9L136.2 1035.1L133.3 1035.1L130.4 984.9L120.7 947.2L115.8 984.9L114.5 1035.1L113.0 1035.1L114.2 984.9Z" fill="#3c439e" stroke="#3c439e" stroke-width="0.5"/>
<path d="M120.7 947.2L130.4 984.9L133.3 1035.1L130.3 1035.1L127.2 984.9L120.7 959.8L117.4 984.9L116.0 1035.1L114.5 1035.1L115.8 984.9Z" fill="#3b3c98" stroke="#3b3c98" stroke-width="0.5"/>
<path d="M120.7 959.8L127.2 984.9L130.3 1035.1L127.3 1035.1L124.0 984.9L120.7 972.3L119.1 984.9L117.5 1035.1L116.0 1035.1L117.4 984.9Z" fill="#3a3894" stroke="#3a3894" stroke-width="0.5"/>
<path d="M120.7 972.3L124.0 984.9L127.3 1035.1L124.3 1035.1L120.7 984.9L118.9 1035.1L117.5 1035.1L119.1 984.9Z" fill="#3a3591" stroke="#3a3591" stroke-width="0.5"/>
<path d="M120.7 984.9L124.3 1035.1L121.3 1035.1L120.7 1026.7L120.4 1035.1L118.9 1035.1Z" fill="#39328e" stroke="#39328e" stroke-width="0.5"/>
<path d="M120.7 1026.7L121.3 1035.1L120.7 1035.1L120.4 1035.1Z" fill="#382f8b" stroke="#382f8b" stroke-width="0.5"/>
<path d="M59.4 1035.1L68.7 984.9L56.3 957.0" stroke="#4f8f3a" stroke-width="0.9" fill="none"/>
<path d="M110.0 1035.1L110.9 984.9L113.4 934.7L120.7 930.0L134.7 934.7L140.1 984.9L142.2 1035.1" stroke="#2b3f8f" stroke-width="0.9" fill="none"/>
<text x="74.2" y="867.7" font-size="15.6" fill="#1a1a1a" textLength="155" lengthAdjust="spacingAndGlyphs">DRUG 2 FK866 [nM]</text>
<text x="59.7" y="881.6" font-size="12.8" text-anchor="middle" fill="#1a1a1a">0</text>
<text x="121" y="881.6" font-size="12.8" text-anchor="middle" fill="#1a1a1a">0.8</text>
<text x="183.7" y="881.6" font-size="12.8" text-anchor="middle" fill="#1a1a1a">1</text>
<text x="244.3" y="881.6" font-size="12.8" text-anchor="middle" fill="#1a1a1a">1.4</text>
<text x="53.3" y="891.8" font-size="12.8" text-anchor="end" fill="#1a1a1a">0</text>
<text x="53.3" y="939.8" font-size="12.8" text-anchor="end" fill="#1a1a1a">0.6</text>
<text x="53.3" y="986.9" font-size="12.8" text-anchor="end" fill="#1a1a1a">1.8</text>
<text x="53.3" y="1034.5" font-size="12.8" text-anchor="end" fill="#1a1a1a">5.4</text>
<text transform="translate(27.6,956.8) rotate(-90)" font-size="15" class="c" text-anchor="middle" fill="#1a1a1a" textLength="97.3" lengthAdjust="spacingAndGlyphs">DRUG 1 IACS [uM]</text>
<text x="71" y="1051.2" font-size="16" class="c" fill="#1a1a1a" textLength="163.6" lengthAdjust="spacingAndGlyphs">Loewe synergy and antagonism</text>
<defs><linearGradient id="cbg" x1="0" y1="0" x2="0" y2="1"><stop offset="0.000" stop-color="#35297f"/><stop offset="0.145" stop-color="#382d8a"/><stop offset="0.175" stop-color="#3b3c98"/><stop offset="0.200" stop-color="#3d4ea6"/><stop offset="0.220" stop-color="#4062b4"/><stop offset="0.237" stop-color="#4070bc"/><stop offset="0.252" stop-color="#3f86cc"/><stop offset="0.278" stop-color="#3a98d8"/><stop offset="0.303" stop-color="#2cb0e6"/><stop offset="0.332" stop-color="#5cc0e0"/><stop offset="0.348" stop-color="#70c8dc"/><stop offset="0.367" stop-color="#84ccc8"/><stop offset="0.400" stop-color="#80c8a8"/><stop offset="0.450" stop-color="#7dbf78"/><stop offset="0.500" stop-color="#86c050"/><stop offset="0.537" stop-color="#b9cf2a"/><stop offset="0.578" stop-color="#e6de10"/><stop offset="0.624" stop-color="#f9e814"/><stop offset="0.670" stop-color="#fbb714"/><stop offset="0.711" stop-color="#f7921a"/><stop offset="0.762" stop-color="#f2641a"/><stop offset="0.808" stop-color="#e92a18"/><stop offset="0.858" stop-color="#e81a14"/><stop offset="0.910" stop-color="#d0141a"/><stop offset="0.960" stop-color="#a8101a"/><stop offset="1.000" stop-color="#7d0f14"/></linearGradient></defs>
<path d="M381.0 496.3L381.0 430.0M364.6 511.3L364.6 445.0M348.3 526.3L348.3 460.0M331.9 541.3L331.9 475.0M381.0 496.3L381.0 430.0M397.4 511.3L397.4 445.0M413.7 526.3L413.7 460.0M430.1 541.3L430.1 475.0M381.0 496.3L331.9 541.3M381.0 496.3L430.1 541.3M381.0 463.1L331.9 508.1M381.0 463.1L430.1 508.1M381.0 430.0L331.9 475.0M381.0 430.0L430.1 475.0M381.0 496.3L331.9 541.3M381.0 496.3L430.1 541.3M397.4 511.3L348.3 556.3M364.6 511.3L413.7 556.3M413.7 526.3L364.6 571.3M348.3 526.3L397.4 571.3M430.1 541.3L381.0 586.3M331.9 541.3L381.0 586.3" stroke="#e3e3e3" stroke-width="0.8" fill="none"/>
<path d="M381.0 430.8L383.0 433.9L381.0 439.2L379.0 436.1Z" fill="#85c056" stroke="#85c056" stroke-width="0.9"/>
<path d="M379.0 436.1L381.0 439.2L379.0 444.6L376.9 441.5Z" fill="#84c059" stroke="#84c059" stroke-width="0.9"/>
<path d="M383.0 433.9L385.1 436.9L383.0 442.3L381.0 439.2Z" fill="#85c056" stroke="#85c056" stroke-width="0.9"/>
<path d="M376.9 441.5L379.0 444.6L376.9 450.0L374.9 446.8Z" fill="#83c05c" stroke="#83c05c" stroke-width="0.9"/>
<path d="M381.0 439.2L383.0 442.3L381.0 447.7L379.0 444.6Z" fill="#84c05b" stroke="#84c05b" stroke-width="0.9"/>
<path d="M385.1 436.9L387.1 440.0L385.1 445.4L383.0 442.3Z" fill="#85c055" stroke="#85c055" stroke-width="0.9"/>
<path d="M374.9 446.8L376.9 450.0L374.9 455.3L372.8 452.1Z" fill="#82c060" stroke="#82c060" stroke-width="0.9"/>
<path d="M379.0 444.6L381.0 447.7L379.0 453.1L376.9 450.0Z" fill="#82c060" stroke="#82c060" stroke-width="0.9"/>
<path d="M383.0 442.3L385.1 445.4L383.0 450.9L381.0 447.7Z" fill="#83c05c" stroke="#83c05c" stroke-width="0.9"/>
<path d="M387.1 440.0L389.2 443.1L387.1 448.5L385.1 445.4Z" fill="#85c055" stroke="#85c055" stroke-width="0.9"/>
<path d="M372.8 452.1L374.9 455.3L372.8 460.7L370.8 457.5Z" fill="#82c063" stroke="#82c063" stroke-width="0.9"/>
<path d="M376.9 450.0L379.0 453.1L376.9 458.5L374.9 455.3Z" fill="#81bf65" stroke="#81bf65" stroke-width="0.9"/>
<path d="M381.0 447.7L383.0 450.9L381.0 456.3L379.0 453.1Z" fill="#82c063" stroke="#82c063" stroke-width="0.9"/>
<path d="M385.1 445.4L387.1 448.5L385.1 454.0L383.0 450.9Z" fill="#83c05e" stroke="#83c05e" stroke-width="0.9"/>
<path d="M389.2 443.1L391.2 446.1L389.2 451.6L387.1 448.5Z" fill="#85c056" stroke="#85c056" stroke-width="0.9"/>
<path d="M370.8 457.5L372.8 460.7L370.8 466.1L368.7 462.8Z" fill="#81bf67" stroke="#81bf67" stroke-width="0.9"/>
<path d="M374.9 455.3L376.9 458.5L374.9 464.0L372.8 460.7Z" fill="#80bf6a" stroke="#80bf6a" stroke-width="0.9"/>
<path d="M379.0 453.1L381.0 456.3L379.0 461.8L376.9 458.5Z" fill="#80bf6a" stroke="#80bf6a" stroke-width="0.9"/>
<path d="M383.0 450.9L385.1 454.0L383.0 459.5L381.0 456.3Z" fill="#81bf66" stroke="#81bf66" stroke-width="0.9"/>
<path d="M387.1 448.5L389.2 451.6L387.1 457.1L385.1 454.0Z" fill="#82c061" stroke="#82c061" stroke-width="0.9"/>
<path d="M391.2 446.1L393.3 449.2L391.2 454.7L389.2 451.6Z" fill="#84c057" stroke="#84c057" stroke-width="0.9"/>
<path d="M368.7 462.8L370.8 466.1L368.7 471.5L366.7 468.2Z" fill="#80bf6a" stroke="#80bf6a" stroke-width="0.9"/>
<path d="M372.8 460.7L374.9 464.0L372.8 469.4L370.8 466.1Z" fill="#7fbf70" stroke="#7fbf70" stroke-width="0.9"/>
<path d="M376.9 458.5L379.0 461.8L376.9 467.2L374.9 464.0Z" fill="#7ebf72" stroke="#7ebf72" stroke-width="0.9"/>
<path d="M381.0 456.3L383.0 459.5L381.0 464.9L379.0 461.8Z" fill="#7fbf6f" stroke="#7fbf6f" stroke-width="0.9"/>
<path d="M385.1 454.0L387.1 457.1L385.1 462.6L383.0 459.5Z" fill="#80bf6c" stroke="#80bf6c" stroke-width="0.9"/>
<path d="M389.2 451.6L391.2 454.7L389.2 460.3L387.1 457.1Z" fill="#81bf65" stroke="#81bf65" stroke-width="0.9"/>
<path d="M393.3 449.2L395.3 452.2L393.3 457.8L391.2 454.7Z" fill="#84c059" stroke="#84c059" stroke-width="0.9"/>
<path d="M366.7 468.2L368.7 471.5L366.7 476.8L364.6 473.5Z" fill="#7fbf6e" stroke="#7fbf6e" stroke-width="0.9"/>
<path d="M370.8 466.1L372.8 469.4L370.8 474.8L368.7 471.5Z" fill="#7dbf76" stroke="#7dbf76" stroke-width="0.9"/>
<path d="M374.9 464.0L376.9 467.2L374.9 472.6L372.8 469.4Z" fill="#7dbf7a" stroke="#7dbf7a" stroke-width="0.9"/>
<path d="M379.0 461.8L381.0 464.9L379.0 470.4L376.9 467.2Z" fill="#7dbf79" stroke="#7dbf79" stroke-width="0.9"/>
<path d="M383.0 459.5L385.1 462.6L383.0 468.1L381.0 464.9Z" fill="#7dbf77" stroke="#7dbf77" stroke-width="0.9"/>
<path d="M387.1 457.1L389.2 460.3L387.1 465.8L385.1 462.6Z" fill="#7ebf73" stroke="#7ebf73" stroke-width="0.9"/>
<path d="M391.2 454.7L393.3 457.8L391.2 463.4L389.2 460.3Z" fill="#80bf6a" stroke="#80bf6a" stroke-width="0.9"/>
<path d="M395.3 452.2L397.4 455.3L395.3 460.9L393.3 457.8Z" fill="#84c05a" stroke="#84c05a" stroke-width="0.9"/>
<path d="M368.7 471.5L370.8 474.8L368.7 480.2L366.7 476.8Z" fill="#7dc07d" stroke="#7dc07d" stroke-width="0.9"/>
<path d="M372.8 469.4L374.9 472.6L372.8 478.1L370.8 474.8Z" fill="#7ec285" stroke="#7ec285" stroke-width="0.9"/>
<path d="M376.9 467.2L379.0 470.4L376.9 475.9L374.9 472.6Z" fill="#7ec287" stroke="#7ec287" stroke-width="0.9"/>
<path d="M381.0 464.9L383.0 468.1L381.0 473.7L379.0 470.4Z" fill="#7ec287" stroke="#7ec287" stroke-width="0.9"/>
<path d="M385.1 462.6L387.1 465.8L385.1 471.3L383.0 468.1Z" fill="#7ec184" stroke="#7ec184" stroke-width="0.9"/>
<path d="M389.2 460.3L391.2 463.4L389.2 469.0L387.1 465.8Z" fill="#7dc07b" stroke="#7dc07b" stroke-width="0.9"/>
<path d="M393.3 457.8L395.3 460.9L393.3 466.5L391.2 463.4Z" fill="#7fbf6e" stroke="#7fbf6e" stroke-width="0.9"/>
<path d="M364.6 473.5L366.7 476.8L364.6 478.4L362.6 475.0Z" fill="#7fbf6e" stroke="#7fbf6e" stroke-width="0.9"/>
<path d="M397.4 455.3L399.4 458.2L397.4 463.7L395.3 460.9Z" fill="#84c05b" stroke="#84c05b" stroke-width="0.9"/>
<path d="M370.8 474.8L372.8 478.1L370.8 483.5L368.7 480.2Z" fill="#7fc493" stroke="#7fc493" stroke-width="0.9"/>
<path d="M374.9 472.6L376.9 475.9L374.9 481.4L372.8 478.1Z" fill="#7fc599" stroke="#7fc599" stroke-width="0.9"/>
<path d="M379.0 470.4L381.0 473.7L379.0 479.2L376.9 475.9Z" fill="#7fc69c" stroke="#7fc69c" stroke-width="0.9"/>
<path d="M383.0 468.1L385.1 471.3L383.0 476.9L381.0 473.7Z" fill="#7fc69c" stroke="#7fc69c" stroke-width="0.9"/>
<path d="M387.1 465.8L389.2 469.0L387.1 474.6L385.1 471.3Z" fill="#7fc495" stroke="#7fc495" stroke-width="0.9"/>
<path d="M391.2 463.4L393.3 466.5L391.2 472.1L389.2 469.0Z" fill="#7ec185" stroke="#7ec185" stroke-width="0.9"/>
<path d="M362.6 475.0L364.6 478.4L362.6 480.0L360.5 476.6Z" fill="#80bf6b" stroke="#80bf6b" stroke-width="0.9"/>
<path d="M366.7 476.8L368.7 480.2L366.7 481.8L364.6 478.4Z" fill="#7dc080" stroke="#7dc080" stroke-width="0.9"/>
<path d="M395.3 460.9L397.4 463.7L395.3 469.2L393.3 466.5Z" fill="#7fbf71" stroke="#7fbf71" stroke-width="0.9"/>
<path d="M399.4 458.2L401.5 461.0L399.4 466.4L397.4 463.7Z" fill="#83c05c" stroke="#83c05c" stroke-width="0.9"/>
<path d="M372.8 478.1L374.9 481.4L372.8 486.9L370.8 483.5Z" fill="#80c8a9" stroke="#80c8a9" stroke-width="0.9"/>
<path d="M376.9 475.9L379.0 479.2L376.9 484.7L374.9 481.4Z" fill="#81c9ae" stroke="#81c9ae" stroke-width="0.9"/>
<path d="M381.0 473.7L383.0 476.9L381.0 482.4L379.0 479.2Z" fill="#81c9b1" stroke="#81c9b1" stroke-width="0.9"/>
<path d="M385.1 471.3L387.1 474.6L385.1 480.1L383.0 476.9Z" fill="#81c9ae" stroke="#81c9ae" stroke-width="0.9"/>
<path d="M389.2 469.0L391.2 472.1L389.2 477.8L387.1 474.6Z" fill="#80c8a5" stroke="#80c8a5" stroke-width="0.9"/>
<path d="M360.5 476.6L362.6 480.0L360.5 481.6L358.5 478.1Z" fill="#81bf68" stroke="#81bf68" stroke-width="0.9"/>
<path d="M364.6 478.4L366.7 481.8L364.6 483.5L362.6 480.0Z" fill="#7dc07d" stroke="#7dc07d" stroke-width="0.9"/>
<path d="M368.7 480.2L370.8 483.5L368.7 485.2L366.7 481.8Z" fill="#7fc599" stroke="#7fc599" stroke-width="0.9"/>
<path d="M393.3 466.5L395.3 469.2L393.3 474.7L391.2 472.1Z" fill="#7ec38e" stroke="#7ec38e" stroke-width="0.9"/>
<path d="M397.4 463.7L399.4 466.4L397.4 471.9L395.3 469.2Z" fill="#7ebf73" stroke="#7ebf73" stroke-width="0.9"/>
<path d="M401.5 461.0L403.5 463.9L401.5 469.2L399.4 466.4Z" fill="#83c05c" stroke="#83c05c" stroke-width="0.9"/>
<path d="M374.9 481.4L376.9 484.7L374.9 490.2L372.8 486.9Z" fill="#82cabc" stroke="#82cabc" stroke-width="0.9"/>
<path d="M379.0 479.2L381.0 482.4L379.0 488.0L376.9 484.7Z" fill="#83cbc1" stroke="#83cbc1" stroke-width="0.9"/>
<path d="M383.0 476.9L385.1 480.1L383.0 485.7L381.0 482.4Z" fill="#83cbc1" stroke="#83cbc1" stroke-width="0.9"/>
<path d="M387.1 474.6L389.2 477.8L387.1 483.4L385.1 480.1Z" fill="#82cabc" stroke="#82cabc" stroke-width="0.9"/>
<path d="M358.5 478.1L360.5 481.6L358.5 483.2L356.4 479.6Z" fill="#81bf65" stroke="#81bf65" stroke-width="0.9"/>
<path d="M362.6 480.0L364.6 483.5L362.6 485.1L360.5 481.6Z" fill="#7dbf7a" stroke="#7dbf7a" stroke-width="0.9"/>
<path d="M366.7 481.8L368.7 485.2L366.7 486.9L364.6 483.5Z" fill="#7fc596" stroke="#7fc596" stroke-width="0.9"/>
<path d="M370.8 483.5L372.8 486.9L370.8 488.6L368.7 485.2Z" fill="#81c9ae" stroke="#81c9ae" stroke-width="0.9"/>
<path d="M391.2 472.1L393.3 474.7L391.2 480.2L389.2 477.8Z" fill="#81c9ae" stroke="#81c9ae" stroke-width="0.9"/>
<path d="M395.3 469.2L397.4 471.9L395.3 477.3L393.3 474.7Z" fill="#7fc492" stroke="#7fc492" stroke-width="0.9"/>
<path d="M399.4 466.4L401.5 469.2L399.4 474.5L397.4 471.9Z" fill="#7ebf75" stroke="#7ebf75" stroke-width="0.9"/>
<path d="M403.5 463.9L405.6 466.8L403.5 472.0L401.5 469.2Z" fill="#83c05d" stroke="#83c05d" stroke-width="0.9"/>
<path d="M376.9 484.7L379.0 488.0L376.9 493.5L374.9 490.2Z" fill="#80cbcc" stroke="#80cbcc" stroke-width="0.9"/>
<path d="M381.0 482.4L383.0 485.7L381.0 491.3L379.0 488.0Z" fill="#7fcbcd" stroke="#7fcbcd" stroke-width="0.9"/>
<path d="M385.1 480.1L387.1 483.4L385.1 489.0L383.0 485.7Z" fill="#80cbcc" stroke="#80cbcc" stroke-width="0.9"/>
<path d="M356.4 479.6L358.5 483.2L356.4 484.8L354.4 481.2Z" fill="#82c061" stroke="#82c061" stroke-width="0.9"/>
<path d="M360.5 481.6L362.6 485.1L360.5 486.8L358.5 483.2Z" fill="#7dbf78" stroke="#7dbf78" stroke-width="0.9"/>
<path d="M364.6 483.5L366.7 486.9L364.6 488.6L362.6 485.1Z" fill="#7fc494" stroke="#7fc494" stroke-width="0.9"/>
<path d="M368.7 485.2L370.8 488.6L368.7 490.4L366.7 486.9Z" fill="#81c9ae" stroke="#81c9ae" stroke-width="0.9"/>
<path d="M372.8 486.9L374.9 490.2L372.8 492.0L370.8 488.6Z" fill="#83cbc2" stroke="#83cbc2" stroke-width="0.9"/>
<path d="M389.2 477.8L391.2 480.2L389.2 485.7L387.1 483.4Z" fill="#83cbc3" stroke="#83cbc3" stroke-width="0.9"/>
<path d="M393.3 474.7L395.3 477.3L393.3 482.7L391.2 480.2Z" fill="#81c9b2" stroke="#81c9b2" stroke-width="0.9"/>
<path d="M397.4 471.9L399.4 474.5L397.4 479.8L395.3 477.3Z" fill="#7fc597" stroke="#7fc597" stroke-width="0.9"/>
<path d="M401.5 469.2L403.5 472.0L401.5 477.2L399.4 474.5Z" fill="#7dbf77" stroke="#7dbf77" stroke-width="0.9"/>
<path d="M405.6 466.8L407.6 469.6L405.6 474.7L403.5 472.0Z" fill="#83c05d" stroke="#83c05d" stroke-width="0.9"/>
<path d="M379.0 488.0L381.0 491.3L379.0 496.9L376.9 493.5Z" fill="#72c8da" stroke="#72c8da" stroke-width="0.9"/>
<path d="M383.0 485.7L385.1 489.0L383.0 494.6L381.0 491.3Z" fill="#72c8da" stroke="#72c8da" stroke-width="0.9"/>
<path d="M354.4 481.2L356.4 484.8L354.4 486.4L352.4 482.7Z" fill="#83c05e" stroke="#83c05e" stroke-width="0.9"/>
<path d="M358.5 483.2L360.5 486.8L358.5 488.4L356.4 484.8Z" fill="#7ebf75" stroke="#7ebf75" stroke-width="0.9"/>
<path d="M362.6 485.1L364.6 488.6L362.6 490.3L360.5 486.8Z" fill="#7fc492" stroke="#7fc492" stroke-width="0.9"/>
<path d="M366.7 486.9L368.7 490.4L366.7 492.1L364.6 488.6Z" fill="#81c9ae" stroke="#81c9ae" stroke-width="0.9"/>
<path d="M370.8 488.6L372.8 492.0L370.8 493.8L368.7 490.4Z" fill="#83cbc2" stroke="#83cbc2" stroke-width="0.9"/>
<path d="M374.9 490.2L376.9 493.5L374.9 495.4L372.8 492.0Z" fill="#7acad2" stroke="#7acad2" stroke-width="0.9"/>
<path d="M387.1 483.4L389.2 485.7L387.1 491.2L385.1 489.0Z" fill="#79cad3" stroke="#79cad3" stroke-width="0.9"/>
<path d="M391.2 480.2L393.3 482.7L391.2 488.1L389.2 485.7Z" fill="#84ccc6" stroke="#84ccc6" stroke-width="0.9"/>
<path d="M395.3 477.3L397.4 479.8L395.3 485.1L393.3 482.7Z" fill="#82cab6" stroke="#82cab6" stroke-width="0.9"/>
<path d="M399.4 474.5L401.5 477.2L399.4 482.4L397.4 479.8Z" fill="#7fc69c" stroke="#7fc69c" stroke-width="0.9"/>
<path d="M403.5 472.0L405.6 474.7L403.5 479.8L401.5 477.2Z" fill="#7dbf77" stroke="#7dbf77" stroke-width="0.9"/>
<path d="M407.6 469.6L409.6 472.5L407.6 477.5L405.6 474.7Z" fill="#83c05d" stroke="#83c05d" stroke-width="0.9"/>
<path d="M381.0 491.3L383.0 494.6L381.0 500.2L379.0 496.9Z" fill="#5cc0e0" stroke="#5cc0e0" stroke-width="0.9"/>
<path d="M352.4 482.7L354.4 486.4L352.4 488.0L350.3 484.3Z" fill="#84c05a" stroke="#84c05a" stroke-width="0.9"/>
<path d="M356.4 484.8L358.5 488.4L356.4 490.0L354.4 486.4Z" fill="#7fbf71" stroke="#7fbf71" stroke-width="0.9"/>
<path d="M360.5 486.8L362.6 490.3L360.5 492.0L358.5 488.4Z" fill="#7ec38e" stroke="#7ec38e" stroke-width="0.9"/>
<path d="M364.6 488.6L366.7 492.1L364.6 493.9L362.6 490.3Z" fill="#81c9ad" stroke="#81c9ad" stroke-width="0.9"/>
<path d="M368.7 490.4L370.8 493.8L368.7 495.6L366.7 492.1Z" fill="#83cbc3" stroke="#83cbc3" stroke-width="0.9"/>
<path d="M372.8 492.0L374.9 495.4L372.8 497.2L370.8 493.8Z" fill="#79cad3" stroke="#79cad3" stroke-width="0.9"/>
<path d="M376.9 493.5L379.0 496.9L376.9 498.8L374.9 495.4Z" fill="#68c5de" stroke="#68c5de" stroke-width="0.9"/>
<path d="M385.1 489.0L387.1 491.2L385.1 496.8L383.0 494.6Z" fill="#67c4de" stroke="#67c4de" stroke-width="0.9"/>
<path d="M389.2 485.7L391.2 488.1L389.2 493.5L387.1 491.2Z" fill="#76c9d6" stroke="#76c9d6" stroke-width="0.9"/>
<path d="M393.3 482.7L395.3 485.1L393.3 490.4L391.2 488.1Z" fill="#83ccc9" stroke="#83ccc9" stroke-width="0.9"/>
<path d="M397.4 479.8L399.4 482.4L397.4 487.6L395.3 485.1Z" fill="#82caba" stroke="#82caba" stroke-width="0.9"/>
<path d="M401.5 477.2L403.5 479.8L401.5 484.9L399.4 482.4Z" fill="#7fc69d" stroke="#7fc69d" stroke-width="0.9"/>
<path d="M405.6 474.7L407.6 477.5L405.6 482.5L403.5 479.8Z" fill="#7dbf76" stroke="#7dbf76" stroke-width="0.9"/>
<path d="M409.6 472.5L411.7 475.3L409.6 480.2L407.6 477.5Z" fill="#83c05c" stroke="#83c05c" stroke-width="0.9"/>
<path d="M350.3 484.3L352.4 488.0L350.3 489.6L348.3 485.8Z" fill="#85c057" stroke="#85c057" stroke-width="0.9"/>
<path d="M354.4 486.4L356.4 490.0L354.4 491.7L352.4 488.0Z" fill="#7fbf6d" stroke="#7fbf6d" stroke-width="0.9"/>
<path d="M358.5 488.4L360.5 492.0L358.5 493.7L356.4 490.0Z" fill="#7ec288" stroke="#7ec288" stroke-width="0.9"/>
<path d="M362.6 490.3L364.6 493.9L362.6 495.6L360.5 492.0Z" fill="#80c8ab" stroke="#80c8ab" stroke-width="0.9"/>
<path d="M366.7 492.1L368.7 495.6L366.7 497.4L364.6 493.9Z" fill="#83cbc3" stroke="#83cbc3" stroke-width="0.9"/>
<path d="M370.8 493.8L372.8 497.2L370.8 499.1L368.7 495.6Z" fill="#78cad4" stroke="#78cad4" stroke-width="0.9"/>
<path d="M374.9 495.4L376.9 498.8L374.9 500.7L372.8 497.2Z" fill="#64c3de" stroke="#64c3de" stroke-width="0.9"/>
<path d="M379.0 496.9L381.0 500.2L379.0 502.2L376.9 498.8Z" fill="#4abae2" stroke="#4abae2" stroke-width="0.9"/>
<path d="M383.0 494.6L385.1 496.8L383.0 502.3L381.0 500.2Z" fill="#49bae2" stroke="#49bae2" stroke-width="0.9"/>
<path d="M387.1 491.2L389.2 493.5L387.1 498.9L385.1 496.8Z" fill="#62c2df" stroke="#62c2df" stroke-width="0.9"/>
<path d="M391.2 488.1L393.3 490.4L391.2 495.8L389.2 493.5Z" fill="#73c9d9" stroke="#73c9d9" stroke-width="0.9"/>
<path d="M395.3 485.1L397.4 487.6L395.3 492.8L393.3 490.4Z" fill="#80cbcc" stroke="#80cbcc" stroke-width="0.9"/>
<path d="M399.4 482.4L401.5 484.9L399.4 490.1L397.4 487.6Z" fill="#82cabc" stroke="#82cabc" stroke-width="0.9"/>
<path d="M403.5 479.8L405.6 482.5L403.5 487.5L401.5 484.9Z" fill="#7fc69b" stroke="#7fc69b" stroke-width="0.9"/>
<path d="M407.6 477.5L409.6 480.2L407.6 485.2L405.6 482.5Z" fill="#7ebf75" stroke="#7ebf75" stroke-width="0.9"/>
<path d="M411.7 475.3L413.7 478.2L411.7 483.0L409.6 480.2Z" fill="#83c05c" stroke="#83c05c" stroke-width="0.9"/>
<path d="M352.4 488.0L354.4 491.7L352.4 493.3L350.3 489.6Z" fill="#80bf6a" stroke="#80bf6a" stroke-width="0.9"/>
<path d="M356.4 490.0L358.5 493.7L356.4 495.4L354.4 491.7Z" fill="#7ec183" stroke="#7ec183" stroke-width="0.9"/>
<path d="M360.5 492.0L362.6 495.6L360.5 497.4L358.5 493.7Z" fill="#80c8a7" stroke="#80c8a7" stroke-width="0.9"/>
<path d="M364.6 493.9L366.7 497.4L364.6 499.2L362.6 495.6Z" fill="#83cbc2" stroke="#83cbc2" stroke-width="0.9"/>
<path d="M368.7 495.6L370.8 499.1L368.7 500.9L366.7 497.4Z" fill="#76c9d6" stroke="#76c9d6" stroke-width="0.9"/>
<path d="M372.8 497.2L374.9 500.7L372.8 502.6L370.8 499.1Z" fill="#61c2df" stroke="#61c2df" stroke-width="0.9"/>
<path d="M376.9 498.8L379.0 502.2L376.9 504.1L374.9 500.7Z" fill="#43b8e3" stroke="#43b8e3" stroke-width="0.9"/>
<path d="M348.3 485.8L350.3 489.6L348.3 491.7L346.2 487.9Z" fill="#85c055" stroke="#85c055" stroke-width="0.9"/>
<path d="M385.1 496.8L387.1 498.9L385.1 504.3L383.0 502.3Z" fill="#42b7e3" stroke="#42b7e3" stroke-width="0.9"/>
<path d="M389.2 493.5L391.2 495.8L389.2 501.1L387.1 498.9Z" fill="#5cc0e0" stroke="#5cc0e0" stroke-width="0.9"/>
<path d="M393.3 490.4L395.3 492.8L393.3 498.0L391.2 495.8Z" fill="#6fc8dc" stroke="#6fc8dc" stroke-width="0.9"/>
<path d="M397.4 487.6L399.4 490.1L397.4 495.2L395.3 492.8Z" fill="#7fcbcd" stroke="#7fcbcd" stroke-width="0.9"/>
<path d="M401.5 484.9L403.5 487.5L401.5 492.5L399.4 490.1Z" fill="#82cab9" stroke="#82cab9" stroke-width="0.9"/>
<path d="M405.6 482.5L407.6 485.2L405.6 490.1L403.5 487.5Z" fill="#7fc598" stroke="#7fc598" stroke-width="0.9"/>
<path d="M409.6 480.2L411.7 483.0L409.6 487.8L407.6 485.2Z" fill="#7ebf74" stroke="#7ebf74" stroke-width="0.9"/>
<path d="M381.0 500.2L383.0 502.3L381.0 504.3L379.0 502.2Z" fill="#35b3e5" stroke="#35b3e5" stroke-width="0.9"/>
<path d="M413.7 478.2L415.8 482.2L413.7 486.8L411.7 483.0Z" fill="#83c05c" stroke="#83c05c" stroke-width="0.9"/>
<path d="M354.4 491.7L356.4 495.4L354.4 497.1L352.4 493.3Z" fill="#7dc07e" stroke="#7dc07e" stroke-width="0.9"/>
<path d="M358.5 493.7L360.5 497.4L358.5 499.1L356.4 495.4Z" fill="#80c7a1" stroke="#80c7a1" stroke-width="0.9"/>
<path d="M362.6 495.6L364.6 499.2L362.6 501.0L360.5 497.4Z" fill="#83cbc0" stroke="#83cbc0" stroke-width="0.9"/>
<path d="M366.7 497.4L368.7 500.9L366.7 502.8L364.6 499.2Z" fill="#77c9d5" stroke="#77c9d5" stroke-width="0.9"/>
<path d="M370.8 499.1L372.8 502.6L370.8 504.5L368.7 500.9Z" fill="#5dc1e0" stroke="#5dc1e0" stroke-width="0.9"/>
<path d="M374.9 500.7L376.9 504.1L374.9 506.1L372.8 502.6Z" fill="#3db6e4" stroke="#3db6e4" stroke-width="0.9"/>
<path d="M346.2 487.9L348.3 491.7L346.2 493.8L344.2 490.1Z" fill="#85c055" stroke="#85c055" stroke-width="0.9"/>
<path d="M350.3 489.6L352.4 493.3L350.3 495.4L348.3 491.7Z" fill="#81bf68" stroke="#81bf68" stroke-width="0.9"/>
<path d="M387.1 498.9L389.2 501.1L387.1 506.4L385.1 504.3Z" fill="#3bb5e4" stroke="#3bb5e4" stroke-width="0.9"/>
<path d="M391.2 495.8L393.3 498.0L391.2 503.2L389.2 501.1Z" fill="#55bee1" stroke="#55bee1" stroke-width="0.9"/>
<path d="M395.3 492.8L397.4 495.2L395.3 500.3L393.3 498.0Z" fill="#6ec7dc" stroke="#6ec7dc" stroke-width="0.9"/>
<path d="M399.4 490.1L401.5 492.5L399.4 497.5L397.4 495.2Z" fill="#80cbcc" stroke="#80cbcc" stroke-width="0.9"/>
<path d="M403.5 487.5L405.6 490.1L403.5 495.0L401.5 492.5Z" fill="#82cab7" stroke="#82cab7" stroke-width="0.9"/>
<path d="M407.6 485.2L409.6 487.8L407.6 492.6L405.6 490.1Z" fill="#7fc596" stroke="#7fc596" stroke-width="0.9"/>
<path d="M379.0 502.2L381.0 504.3L379.0 506.3L376.9 504.1Z" fill="#2cb0e6" stroke="#2cb0e6" stroke-width="0.9"/>
<path d="M383.0 502.3L385.1 504.3L383.0 506.4L381.0 504.3Z" fill="#2cb0e6" stroke="#2cb0e6" stroke-width="0.9"/>
<path d="M411.7 483.0L413.7 486.8L411.7 491.4L409.6 487.8Z" fill="#7ebf73" stroke="#7ebf73" stroke-width="0.9"/>
<path d="M415.8 482.2L417.8 486.1L415.8 490.6L413.7 486.8Z" fill="#84c05b" stroke="#84c05b" stroke-width="0.9"/>
<path d="M356.4 495.4L358.5 499.1L356.4 500.9L354.4 497.1Z" fill="#7fc69c" stroke="#7fc69c" stroke-width="0.9"/>
<path d="M360.5 497.4L362.6 501.0L360.5 502.8L358.5 499.1Z" fill="#83cbbd" stroke="#83cbbd" stroke-width="0.9"/>
<path d="M364.6 499.2L366.7 502.8L364.6 504.7L362.6 501.0Z" fill="#78cad4" stroke="#78cad4" stroke-width="0.9"/>
<path d="M368.7 500.9L370.8 504.5L368.7 506.4L366.7 502.8Z" fill="#5dc0e0" stroke="#5dc0e0" stroke-width="0.9"/>
<path d="M372.8 502.6L374.9 506.1L372.8 508.0L370.8 504.5Z" fill="#36b3e5" stroke="#36b3e5" stroke-width="0.9"/>
<path d="M344.2 490.1L346.2 493.8L344.2 495.8L342.1 492.2Z" fill="#85c054" stroke="#85c054" stroke-width="0.9"/>
<path d="M348.3 491.7L350.3 495.4L348.3 497.4L346.2 493.8Z" fill="#81bf67" stroke="#81bf67" stroke-width="0.9"/>
<path d="M352.4 493.3L354.4 497.1L352.4 499.1L350.3 495.4Z" fill="#7dc07b" stroke="#7dc07b" stroke-width="0.9"/>
<path d="M389.2 501.1L391.2 503.2L389.2 508.5L387.1 506.4Z" fill="#33b2e5" stroke="#33b2e5" stroke-width="0.9"/>
<path d="M393.3 498.0L395.3 500.3L393.3 505.4L391.2 503.2Z" fill="#53bde1" stroke="#53bde1" stroke-width="0.9"/>
<path d="M397.4 495.2L399.4 497.5L397.4 502.6L395.3 500.3Z" fill="#70c8dc" stroke="#70c8dc" stroke-width="0.9"/>
<path d="M401.5 492.5L403.5 495.0L401.5 499.9L399.4 497.5Z" fill="#82ccca" stroke="#82ccca" stroke-width="0.9"/>
<path d="M405.6 490.1L407.6 492.6L405.6 497.5L403.5 495.0Z" fill="#82cab5" stroke="#82cab5" stroke-width="0.9"/>
<path d="M376.9 504.1L379.0 506.3L376.9 508.3L374.9 506.1Z" fill="#31a7e1" stroke="#31a7e1" stroke-width="0.9"/>
<path d="M381.0 504.3L383.0 506.4L381.0 508.4L379.0 506.3Z" fill="#31a7e1" stroke="#31a7e1" stroke-width="0.9"/>
<path d="M385.1 504.3L387.1 506.4L385.1 508.5L383.0 506.4Z" fill="#31a7e1" stroke="#31a7e1" stroke-width="0.9"/>
<path d="M409.6 487.8L411.7 491.4L409.6 496.0L407.6 492.6Z" fill="#7fc492" stroke="#7fc492" stroke-width="0.9"/>
<path d="M413.7 486.8L415.8 490.6L413.7 495.0L411.7 491.4Z" fill="#7fbf71" stroke="#7fbf71" stroke-width="0.9"/>
<path d="M417.8 486.1L419.9 490.1L417.8 494.3L415.8 490.6Z" fill="#84c05a" stroke="#84c05a" stroke-width="0.9"/>
<path d="M358.5 499.1L360.5 502.8L358.5 504.6L356.4 500.9Z" fill="#82caba" stroke="#82caba" stroke-width="0.9"/>
<path d="M362.6 501.0L364.6 504.7L362.6 506.5L360.5 502.8Z" fill="#7acad2" stroke="#7acad2" stroke-width="0.9"/>
<path d="M366.7 502.8L368.7 506.4L366.7 508.3L364.6 504.7Z" fill="#5fc1df" stroke="#5fc1df" stroke-width="0.9"/>
<path d="M370.8 504.5L372.8 508.0L370.8 510.0L368.7 506.4Z" fill="#34b3e5" stroke="#34b3e5" stroke-width="0.9"/>
<path d="M342.1 492.2L344.2 495.8L342.1 497.9L340.1 494.4Z" fill="#85c054" stroke="#85c054" stroke-width="0.9"/>
<path d="M346.2 493.8L348.3 497.4L346.2 499.5L344.2 495.8Z" fill="#81bf67" stroke="#81bf67" stroke-width="0.9"/>
<path d="M350.3 495.4L352.4 499.1L350.3 501.1L348.3 497.4Z" fill="#7dbf7a" stroke="#7dbf7a" stroke-width="0.9"/>
<path d="M354.4 497.1L356.4 500.9L354.4 502.8L352.4 499.1Z" fill="#7fc598" stroke="#7fc598" stroke-width="0.9"/>
<path d="M391.2 503.2L393.3 505.4L391.2 510.5L389.2 508.5Z" fill="#31b2e5" stroke="#31b2e5" stroke-width="0.9"/>
<path d="M395.3 500.3L397.4 502.6L395.3 507.6L393.3 505.4Z" fill="#55bee1" stroke="#55bee1" stroke-width="0.9"/>
<path d="M399.4 497.5L401.5 499.9L399.4 504.8L397.4 502.6Z" fill="#71c8db" stroke="#71c8db" stroke-width="0.9"/>
<path d="M403.5 495.0L405.6 497.5L403.5 502.3L401.5 499.9Z" fill="#83ccc9" stroke="#83ccc9" stroke-width="0.9"/>
<path d="M374.9 506.1L376.9 508.3L374.9 510.2L372.8 508.0Z" fill="#369edc" stroke="#369edc" stroke-width="0.9"/>
<path d="M379.0 506.3L381.0 508.4L379.0 510.4L376.9 508.3Z" fill="#379edb" stroke="#379edb" stroke-width="0.9"/>
<path d="M383.0 506.4L385.1 508.5L383.0 510.5L381.0 508.4Z" fill="#379edb" stroke="#379edb" stroke-width="0.9"/>
<path d="M387.1 506.4L389.2 508.5L387.1 510.6L385.1 508.5Z" fill="#369edc" stroke="#369edc" stroke-width="0.9"/>
<path d="M407.6 492.6L409.6 496.0L407.6 500.7L405.6 497.5Z" fill="#81c9b1" stroke="#81c9b1" stroke-width="0.9"/>
<path d="M411.7 491.4L413.7 495.0L411.7 499.5L409.6 496.0Z" fill="#7ec38c" stroke="#7ec38c" stroke-width="0.9"/>
<path d="M415.8 490.6L417.8 494.3L415.8 498.6L413.7 495.0Z" fill="#7fbf6e" stroke="#7fbf6e" stroke-width="0.9"/>
<path d="M419.9 490.1L421.9 494.0L419.9 498.1L417.8 494.3Z" fill="#84c059" stroke="#84c059" stroke-width="0.9"/>
<path d="M360.5 502.8L362.6 506.5L360.5 508.4L358.5 504.6Z" fill="#7ccad0" stroke="#7ccad0" stroke-width="0.9"/>
<path d="M364.6 504.7L366.7 508.3L364.6 510.2L362.6 506.5Z" fill="#62c2df" stroke="#62c2df" stroke-width="0.9"/>
<path d="M368.7 506.4L370.8 510.0L368.7 512.0L366.7 508.3Z" fill="#37b4e5" stroke="#37b4e5" stroke-width="0.9"/>
<path d="M340.1 494.4L342.1 497.9L340.1 500.0L338.0 496.5Z" fill="#85c054" stroke="#85c054" stroke-width="0.9"/>
<path d="M344.2 495.8L346.2 499.5L344.2 501.5L342.1 497.9Z" fill="#81bf66" stroke="#81bf66" stroke-width="0.9"/>
<path d="M348.3 497.4L350.3 501.1L348.3 503.1L346.2 499.5Z" fill="#7dbf7a" stroke="#7dbf7a" stroke-width="0.9"/>
<path d="M352.4 499.1L354.4 502.8L352.4 504.8L350.3 501.1Z" fill="#7fc596" stroke="#7fc596" stroke-width="0.9"/>
<path d="M356.4 500.9L358.5 504.6L356.4 506.5L354.4 502.8Z" fill="#82cab7" stroke="#82cab7" stroke-width="0.9"/>
<path d="M393.3 505.4L395.3 507.6L393.3 512.6L391.2 510.5Z" fill="#33b2e5" stroke="#33b2e5" stroke-width="0.9"/>
<path d="M397.4 502.6L399.4 504.8L397.4 509.7L395.3 507.6Z" fill="#58bfe1" stroke="#58bfe1" stroke-width="0.9"/>
<path d="M401.5 499.9L403.5 502.3L401.5 507.1L399.4 504.8Z" fill="#73c9d9" stroke="#73c9d9" stroke-width="0.9"/>
<path d="M372.8 508.0L374.9 510.2L372.8 512.2L370.8 510.0Z" fill="#389bda" stroke="#389bda" stroke-width="0.9"/>
<path d="M376.9 508.3L379.0 510.4L376.9 512.5L374.9 510.2Z" fill="#3b96d6" stroke="#3b96d6" stroke-width="0.9"/>
<path d="M381.0 508.4L383.0 510.5L381.0 512.6L379.0 510.4Z" fill="#3b95d6" stroke="#3b95d6" stroke-width="0.9"/>
<path d="M385.1 508.5L387.1 510.6L385.1 512.6L383.0 510.5Z" fill="#3b96d6" stroke="#3b96d6" stroke-width="0.9"/>
<path d="M389.2 508.5L391.2 510.5L389.2 512.6L387.1 510.6Z" fill="#389bda" stroke="#389bda" stroke-width="0.9"/>
<path d="M405.6 497.5L407.6 500.7L405.6 505.3L403.5 502.3Z" fill="#84ccc6" stroke="#84ccc6" stroke-width="0.9"/>
<path d="M409.6 496.0L411.7 499.5L409.6 503.9L407.6 500.7Z" fill="#81c9ac" stroke="#81c9ac" stroke-width="0.9"/>
<path d="M413.7 495.0L415.8 498.6L413.7 502.9L411.7 499.5Z" fill="#7ec286" stroke="#7ec286" stroke-width="0.9"/>
<path d="M417.8 494.3L419.9 498.1L417.8 502.2L415.8 498.6Z" fill="#80bf6c" stroke="#80bf6c" stroke-width="0.9"/>
<path d="M421.9 494.0L424.0 498.0L421.9 501.9L419.9 498.1Z" fill="#84c059" stroke="#84c059" stroke-width="0.9"/>
<path d="M362.6 506.5L364.6 510.2L362.6 512.1L360.5 508.4Z" fill="#64c3de" stroke="#64c3de" stroke-width="0.9"/>
<path d="M366.7 508.3L368.7 512.0L366.7 513.9L364.6 510.2Z" fill="#39b4e4" stroke="#39b4e4" stroke-width="0.9"/>
<path d="M338.0 496.5L340.1 500.0L338.0 502.1L336.0 498.6Z" fill="#85c054" stroke="#85c054" stroke-width="0.9"/>
<path d="M342.1 497.9L344.2 501.5L342.1 503.6L340.1 500.0Z" fill="#81bf66" stroke="#81bf66" stroke-width="0.9"/>
<path d="M346.2 499.5L348.3 503.1L346.2 505.1L344.2 501.5Z" fill="#7dbf79" stroke="#7dbf79" stroke-width="0.9"/>
<path d="M350.3 501.1L352.4 504.8L350.3 506.8L348.3 503.1Z" fill="#7fc494" stroke="#7fc494" stroke-width="0.9"/>
<path d="M354.4 502.8L356.4 506.5L354.4 508.5L352.4 504.8Z" fill="#82cab6" stroke="#82cab6" stroke-width="0.9"/>
<path d="M358.5 504.6L360.5 508.4L358.5 510.3L356.4 506.5Z" fill="#7ecbce" stroke="#7ecbce" stroke-width="0.9"/>
<path d="M395.3 507.6L397.4 509.7L395.3 514.6L393.3 512.6Z" fill="#35b3e5" stroke="#35b3e5" stroke-width="0.9"/>
<path d="M399.4 504.8L401.5 507.1L399.4 511.9L397.4 509.7Z" fill="#5bc0e0" stroke="#5bc0e0" stroke-width="0.9"/>
<path d="M370.8 510.0L372.8 512.2L370.8 514.2L368.7 512.0Z" fill="#379edb" stroke="#379edb" stroke-width="0.9"/>
<path d="M374.9 510.2L376.9 512.5L374.9 514.5L372.8 512.2Z" fill="#3b93d5" stroke="#3b93d5" stroke-width="0.9"/>
<path d="M379.0 510.4L381.0 512.6L379.0 514.7L376.9 512.5Z" fill="#3d8fd2" stroke="#3d8fd2" stroke-width="0.9"/>
<path d="M383.0 510.5L385.1 512.6L383.0 514.8L381.0 512.6Z" fill="#3d8fd2" stroke="#3d8fd2" stroke-width="0.9"/>
<path d="M387.1 510.6L389.2 512.6L387.1 514.8L385.1 512.6Z" fill="#3b93d5" stroke="#3b93d5" stroke-width="0.9"/>
<path d="M391.2 510.5L393.3 512.6L391.2 514.7L389.2 512.6Z" fill="#379edb" stroke="#379edb" stroke-width="0.9"/>
<path d="M403.5 502.3L405.6 505.3L403.5 509.9L401.5 507.1Z" fill="#75c9d7" stroke="#75c9d7" stroke-width="0.9"/>
<path d="M407.6 500.7L409.6 503.9L407.6 508.3L405.6 505.3Z" fill="#83cbc2" stroke="#83cbc2" stroke-width="0.9"/>
<path d="M411.7 499.5L413.7 502.9L411.7 507.1L409.6 503.9Z" fill="#80c8a6" stroke="#80c8a6" stroke-width="0.9"/>
<path d="M415.8 498.6L417.8 502.2L415.8 506.3L413.7 502.9Z" fill="#7ec180" stroke="#7ec180" stroke-width="0.9"/>
<path d="M419.9 498.1L421.9 501.9L419.9 505.8L417.8 502.2Z" fill="#80bf6a" stroke="#80bf6a" stroke-width="0.9"/>
<path d="M424.0 498.0L426.0 502.0L424.0 505.7L421.9 501.9Z" fill="#84c059" stroke="#84c059" stroke-width="0.9"/>
<path d="M364.6 510.2L366.7 513.9L364.6 515.9L362.6 512.1Z" fill="#3cb5e4" stroke="#3cb5e4" stroke-width="0.9"/>
<path d="M336.0 498.6L338.0 502.1L336.0 504.2L333.9 500.8Z" fill="#85c053" stroke="#85c053" stroke-width="0.9"/>
<path d="M340.1 500.0L342.1 503.6L340.1 505.6L338.0 502.1Z" fill="#81bf65" stroke="#81bf65" stroke-width="0.9"/>
<path d="M344.2 501.5L346.2 505.1L344.2 507.1L342.1 503.6Z" fill="#7dbf77" stroke="#7dbf77" stroke-width="0.9"/>
<path d="M348.3 503.1L350.3 506.8L348.3 508.7L346.2 505.1Z" fill="#7fc493" stroke="#7fc493" stroke-width="0.9"/>
<path d="M352.4 504.8L354.4 508.5L352.4 510.4L350.3 506.8Z" fill="#82cab4" stroke="#82cab4" stroke-width="0.9"/>
<path d="M356.4 506.5L358.5 510.3L356.4 512.1L354.4 508.5Z" fill="#7fcbcd" stroke="#7fcbcd" stroke-width="0.9"/>
<path d="M360.5 508.4L362.6 512.1L360.5 514.0L358.5 510.3Z" fill="#67c4de" stroke="#67c4de" stroke-width="0.9"/>
<path d="M397.4 509.7L399.4 511.9L397.4 516.7L395.3 514.6Z" fill="#38b4e5" stroke="#38b4e5" stroke-width="0.9"/>
<path d="M368.7 512.0L370.8 514.2L368.7 516.2L366.7 513.9Z" fill="#35a0dd" stroke="#35a0dd" stroke-width="0.9"/>
<path d="M372.8 512.2L374.9 514.5L372.8 516.5L370.8 514.2Z" fill="#3b95d6" stroke="#3b95d6" stroke-width="0.9"/>
<path d="M376.9 512.5L379.0 514.7L376.9 516.7L374.9 514.5Z" fill="#3d8bd0" stroke="#3d8bd0" stroke-width="0.9"/>
<path d="M381.0 512.6L383.0 514.8L381.0 516.9L379.0 514.7Z" fill="#3f84cb" stroke="#3f84cb" stroke-width="0.9"/>
<path d="M385.1 512.6L387.1 514.8L385.1 516.9L383.0 514.8Z" fill="#3d8bd0" stroke="#3d8bd0" stroke-width="0.9"/>
<path d="M389.2 512.6L391.2 514.7L389.2 516.9L387.1 514.8Z" fill="#3b95d6" stroke="#3b95d6" stroke-width="0.9"/>
<path d="M393.3 512.6L395.3 514.6L393.3 516.8L391.2 514.7Z" fill="#35a0dd" stroke="#35a0dd" stroke-width="0.9"/>
<path d="M401.5 507.1L403.5 509.9L401.5 514.6L399.4 511.9Z" fill="#5fc1df" stroke="#5fc1df" stroke-width="0.9"/>
<path d="M405.6 505.3L407.6 508.3L405.6 512.8L403.5 509.9Z" fill="#79cad3" stroke="#79cad3" stroke-width="0.9"/>
<path d="M409.6 503.9L411.7 507.1L409.6 511.4L407.6 508.3Z" fill="#83cbbe" stroke="#83cbbe" stroke-width="0.9"/>
<path d="M413.7 502.9L415.8 506.3L413.7 510.4L411.7 507.1Z" fill="#7fc69e" stroke="#7fc69e" stroke-width="0.9"/>
<path d="M417.8 502.2L419.9 505.8L417.8 509.7L415.8 506.3Z" fill="#7dc07c" stroke="#7dc07c" stroke-width="0.9"/>
<path d="M421.9 501.9L424.0 505.7L421.9 509.4L419.9 505.8Z" fill="#80bf69" stroke="#80bf69" stroke-width="0.9"/>
<path d="M426.0 502.0L428.1 505.9L426.0 509.5L424.0 505.7Z" fill="#84c05a" stroke="#84c05a" stroke-width="0.9"/>
<path d="M333.9 500.8L336.0 504.2L333.9 506.3L331.9 502.9Z" fill="#85c053" stroke="#85c053" stroke-width="0.9"/>
<path d="M338.0 502.1L340.1 505.6L338.0 507.7L336.0 504.2Z" fill="#82c064" stroke="#82c064" stroke-width="0.9"/>
<path d="M342.1 503.6L344.2 507.1L342.1 509.2L340.1 505.6Z" fill="#7dbf76" stroke="#7dbf76" stroke-width="0.9"/>
<path d="M346.2 505.1L348.3 508.7L346.2 510.7L344.2 507.1Z" fill="#7fc490" stroke="#7fc490" stroke-width="0.9"/>
<path d="M350.3 506.8L352.4 510.4L350.3 512.3L348.3 508.7Z" fill="#81c9b2" stroke="#81c9b2" stroke-width="0.9"/>
<path d="M354.4 508.5L356.4 512.1L354.4 514.0L352.4 510.4Z" fill="#81cbcb" stroke="#81cbcb" stroke-width="0.9"/>
<path d="M358.5 510.3L360.5 514.0L358.5 515.8L356.4 512.1Z" fill="#6ac5dd" stroke="#6ac5dd" stroke-width="0.9"/>
<path d="M362.6 512.1L364.6 515.9L362.6 517.7L360.5 514.0Z" fill="#3fb6e4" stroke="#3fb6e4" stroke-width="0.9"/>
<path d="M366.7 513.9L368.7 516.2L366.7 518.2L364.6 515.9Z" fill="#34a3de" stroke="#34a3de" stroke-width="0.9"/>
<path d="M370.8 514.2L372.8 516.5L370.8 518.5L368.7 516.2Z" fill="#3a97d7" stroke="#3a97d7" stroke-width="0.9"/>
<path d="M374.9 514.5L376.9 516.7L374.9 518.8L372.8 516.5Z" fill="#3d8ed2" stroke="#3d8ed2" stroke-width="0.9"/>
<path d="M379.0 514.7L381.0 516.9L379.0 519.0L376.9 516.7Z" fill="#3f7dc6" stroke="#3f7dc6" stroke-width="0.9"/>
<path d="M383.0 514.8L385.1 516.9L383.0 519.0L381.0 516.9Z" fill="#3f7dc6" stroke="#3f7dc6" stroke-width="0.9"/>
<path d="M387.1 514.8L389.2 516.9L387.1 519.1L385.1 516.9Z" fill="#3d8ed2" stroke="#3d8ed2" stroke-width="0.9"/>
<path d="M391.2 514.7L393.3 516.8L391.2 519.0L389.2 516.9Z" fill="#3a97d7" stroke="#3a97d7" stroke-width="0.9"/>
<path d="M395.3 514.6L397.4 516.7L395.3 518.9L393.3 516.8Z" fill="#34a3de" stroke="#34a3de" stroke-width="0.9"/>
<path d="M399.4 511.9L401.5 514.6L399.4 519.2L397.4 516.7Z" fill="#3db6e4" stroke="#3db6e4" stroke-width="0.9"/>
<path d="M403.5 509.9L405.6 512.8L403.5 517.2L401.5 514.6Z" fill="#66c4de" stroke="#66c4de" stroke-width="0.9"/>
<path d="M407.6 508.3L409.6 511.4L407.6 515.6L405.6 512.8Z" fill="#7dcbcf" stroke="#7dcbcf" stroke-width="0.9"/>
<path d="M411.7 507.1L413.7 510.4L411.7 514.4L409.6 511.4Z" fill="#82cab8" stroke="#82cab8" stroke-width="0.9"/>
<path d="M415.8 506.3L417.8 509.7L415.8 513.6L413.7 510.4Z" fill="#7fc596" stroke="#7fc596" stroke-width="0.9"/>
<path d="M419.9 505.8L421.9 509.4L419.9 513.1L417.8 509.7Z" fill="#7dbf78" stroke="#7dbf78" stroke-width="0.9"/>
<path d="M424.0 505.7L426.0 509.5L424.0 513.0L421.9 509.4Z" fill="#81bf67" stroke="#81bf67" stroke-width="0.9"/>
<path d="M428.1 505.9L430.1 509.9L428.1 513.2L426.0 509.5Z" fill="#84c05a" stroke="#84c05a" stroke-width="0.9"/>
<path d="M336.0 504.2L338.0 507.7L336.0 509.7L333.9 506.3Z" fill="#82c063" stroke="#82c063" stroke-width="0.9"/>
<path d="M340.1 505.6L342.1 509.2L340.1 511.2L338.0 507.7Z" fill="#7ebf74" stroke="#7ebf74" stroke-width="0.9"/>
<path d="M344.2 507.1L346.2 510.7L344.2 512.7L342.1 509.2Z" fill="#7ec38d" stroke="#7ec38d" stroke-width="0.9"/>
<path d="M348.3 508.7L350.3 512.3L348.3 514.2L346.2 510.7Z" fill="#81c9b0" stroke="#81c9b0" stroke-width="0.9"/>
<path d="M352.4 510.4L354.4 514.0L352.4 515.9L350.3 512.3Z" fill="#82ccca" stroke="#82ccca" stroke-width="0.9"/>
<path d="M356.4 512.1L358.5 515.8L356.4 517.7L354.4 514.0Z" fill="#6dc7dd" stroke="#6dc7dd" stroke-width="0.9"/>
<path d="M360.5 514.0L362.6 517.7L360.5 519.5L358.5 515.8Z" fill="#44b8e3" stroke="#44b8e3" stroke-width="0.9"/>
<path d="M368.7 516.2L370.8 518.5L368.7 520.6L366.7 518.2Z" fill="#399ad9" stroke="#399ad9" stroke-width="0.9"/>
<path d="M372.8 516.5L374.9 518.8L372.8 520.8L370.8 518.5Z" fill="#3c91d3" stroke="#3c91d3" stroke-width="0.9"/>
<path d="M376.9 516.7L379.0 519.0L376.9 521.0L374.9 518.8Z" fill="#3f84ca" stroke="#3f84ca" stroke-width="0.9"/>
<path d="M381.0 516.9L383.0 519.0L381.0 521.2L379.0 519.0Z" fill="#4076c1" stroke="#4076c1" stroke-width="0.9"/>
<path d="M385.1 516.9L387.1 519.1L385.1 521.2L383.0 519.0Z" fill="#3f84ca" stroke="#3f84ca" stroke-width="0.9"/>
<path d="M389.2 516.9L391.2 519.0L389.2 521.2L387.1 519.1Z" fill="#3c91d3" stroke="#3c91d3" stroke-width="0.9"/>
<path d="M393.3 516.8L395.3 518.9L393.3 521.2L391.2 519.0Z" fill="#399ad9" stroke="#399ad9" stroke-width="0.9"/>
<path d="M364.6 515.9L366.7 518.2L364.6 520.0L362.6 517.7Z" fill="#31a7e1" stroke="#31a7e1" stroke-width="0.9"/>
<path d="M401.5 514.6L403.5 517.2L401.5 521.7L399.4 519.2Z" fill="#46b9e3" stroke="#46b9e3" stroke-width="0.9"/>
<path d="M405.6 512.8L407.6 515.6L405.6 519.9L403.5 517.2Z" fill="#6cc6dd" stroke="#6cc6dd" stroke-width="0.9"/>
<path d="M409.6 511.4L411.7 514.4L409.6 518.5L407.6 515.6Z" fill="#81cbcb" stroke="#81cbcb" stroke-width="0.9"/>
<path d="M413.7 510.4L415.8 513.6L413.7 517.5L411.7 514.4Z" fill="#81c9b2" stroke="#81c9b2" stroke-width="0.9"/>
<path d="M417.8 509.7L419.9 513.1L417.8 516.8L415.8 513.6Z" fill="#7ec38d" stroke="#7ec38d" stroke-width="0.9"/>
<path d="M421.9 509.4L424.0 513.0L421.9 516.5L419.9 513.1Z" fill="#7ebf75" stroke="#7ebf75" stroke-width="0.9"/>
<path d="M426.0 509.5L428.1 513.2L426.0 516.6L424.0 513.0Z" fill="#81bf66" stroke="#81bf66" stroke-width="0.9"/>
<path d="M397.4 516.7L399.4 519.2L397.4 521.4L395.3 518.9Z" fill="#30a9e2" stroke="#30a9e2" stroke-width="0.9"/>
<path d="M338.0 507.7L340.1 511.2L338.0 513.2L336.0 509.7Z" fill="#7ebf73" stroke="#7ebf73" stroke-width="0.9"/>
<path d="M342.1 509.2L344.2 512.7L342.1 514.6L340.1 511.2Z" fill="#7ec28a" stroke="#7ec28a" stroke-width="0.9"/>
<path d="M346.2 510.7L348.3 514.2L346.2 516.2L344.2 512.7Z" fill="#81c9ae" stroke="#81c9ae" stroke-width="0.9"/>
<path d="M350.3 512.3L352.4 515.9L350.3 517.8L348.3 514.2Z" fill="#84ccc8" stroke="#84ccc8" stroke-width="0.9"/>
<path d="M354.4 514.0L356.4 517.7L354.4 519.5L352.4 515.9Z" fill="#6fc8dc" stroke="#6fc8dc" stroke-width="0.9"/>
<path d="M358.5 515.8L360.5 519.5L358.5 521.3L356.4 517.7Z" fill="#49bae2" stroke="#49bae2" stroke-width="0.9"/>
<path d="M370.8 518.5L372.8 520.8L370.8 522.9L368.7 520.6Z" fill="#3b93d4" stroke="#3b93d4" stroke-width="0.9"/>
<path d="M374.9 518.8L376.9 521.0L374.9 523.1L372.8 520.8Z" fill="#3e88cd" stroke="#3e88cd" stroke-width="0.9"/>
<path d="M379.0 519.0L381.0 521.2L379.0 523.3L376.9 521.0Z" fill="#3f7dc5" stroke="#3f7dc5" stroke-width="0.9"/>
<path d="M383.0 519.0L385.1 521.2L383.0 523.4L381.0 521.2Z" fill="#3f7dc5" stroke="#3f7dc5" stroke-width="0.9"/>
<path d="M387.1 519.1L389.2 521.2L387.1 523.5L385.1 521.2Z" fill="#3e88cd" stroke="#3e88cd" stroke-width="0.9"/>
<path d="M391.2 519.0L393.3 521.2L391.2 523.4L389.2 521.2Z" fill="#3b93d4" stroke="#3b93d4" stroke-width="0.9"/>
<path d="M362.6 517.7L364.6 520.0L362.6 521.8L360.5 519.5Z" fill="#2eade4" stroke="#2eade4" stroke-width="0.9"/>
<path d="M366.7 518.2L368.7 520.6L366.7 522.3L364.6 520.0Z" fill="#369edc" stroke="#369edc" stroke-width="0.9"/>
<path d="M403.5 517.2L405.6 519.9L403.5 524.2L401.5 521.7Z" fill="#4ebbe2" stroke="#4ebbe2" stroke-width="0.9"/>
<path d="M407.6 515.6L409.6 518.5L407.6 522.6L405.6 519.9Z" fill="#71c8db" stroke="#71c8db" stroke-width="0.9"/>
<path d="M411.7 514.4L413.7 517.5L411.7 521.4L409.6 518.5Z" fill="#84ccc7" stroke="#84ccc7" stroke-width="0.9"/>
<path d="M415.8 513.6L417.8 516.8L415.8 520.5L413.7 517.5Z" fill="#80c8ab" stroke="#80c8ab" stroke-width="0.9"/>
<path d="M419.9 513.1L421.9 516.5L419.9 520.0L417.8 516.8Z" fill="#7ec185" stroke="#7ec185" stroke-width="0.9"/>
<path d="M424.0 513.0L426.0 516.6L424.0 519.9L421.9 516.5Z" fill="#7ebf71" stroke="#7ebf71" stroke-width="0.9"/>
<path d="M395.3 518.9L397.4 521.4L395.3 523.5L393.3 521.2Z" fill="#35a0dd" stroke="#35a0dd" stroke-width="0.9"/>
<path d="M399.4 519.2L401.5 521.7L399.4 523.8L397.4 521.4Z" fill="#30b1e5" stroke="#30b1e5" stroke-width="0.9"/>
<path d="M340.1 511.2L342.1 514.6L340.1 516.6L338.0 513.2Z" fill="#7ec286" stroke="#7ec286" stroke-width="0.9"/>
<path d="M344.2 512.7L346.2 516.2L344.2 518.1L342.1 514.6Z" fill="#80c8ac" stroke="#80c8ac" stroke-width="0.9"/>
<path d="M348.3 514.2L350.3 517.8L348.3 519.7L346.2 516.2Z" fill="#84ccc7" stroke="#84ccc7" stroke-width="0.9"/>
<path d="M352.4 515.9L354.4 519.5L352.4 521.3L350.3 517.8Z" fill="#71c8db" stroke="#71c8db" stroke-width="0.9"/>
<path d="M356.4 517.7L358.5 521.3L356.4 523.1L354.4 519.5Z" fill="#4ebbe2" stroke="#4ebbe2" stroke-width="0.9"/>
<path d="M372.8 520.8L374.9 523.1L372.8 525.2L370.8 522.9Z" fill="#3e8bcf" stroke="#3e8bcf" stroke-width="0.9"/>
<path d="M376.9 521.0L379.0 523.3L376.9 525.5L374.9 523.1Z" fill="#3f83ca" stroke="#3f83ca" stroke-width="0.9"/>
<path d="M381.0 521.2L383.0 523.4L381.0 525.6L379.0 523.3Z" fill="#3f82c9" stroke="#3f82c9" stroke-width="0.9"/>
<path d="M385.1 521.2L387.1 523.5L385.1 525.7L383.0 523.4Z" fill="#3f83ca" stroke="#3f83ca" stroke-width="0.9"/>
<path d="M389.2 521.2L391.2 523.4L389.2 525.7L387.1 523.5Z" fill="#3e8bcf" stroke="#3e8bcf" stroke-width="0.9"/>
<path d="M360.5 519.5L362.6 521.8L360.5 523.6L358.5 521.3Z" fill="#31b2e5" stroke="#31b2e5" stroke-width="0.9"/>
<path d="M364.6 520.0L366.7 522.3L364.6 524.1L362.6 521.8Z" fill="#33a4df" stroke="#33a4df" stroke-width="0.9"/>
<path d="M368.7 520.6L370.8 522.9L368.7 524.6L366.7 522.3Z" fill="#3b96d7" stroke="#3b96d7" stroke-width="0.9"/>
<path d="M405.6 519.9L407.6 522.6L405.6 526.7L403.5 524.2Z" fill="#57bee1" stroke="#57bee1" stroke-width="0.9"/>
<path d="M409.6 518.5L411.7 521.4L409.6 525.2L407.6 522.6Z" fill="#75c9d7" stroke="#75c9d7" stroke-width="0.9"/>
<path d="M413.7 517.5L415.8 520.5L413.7 524.2L411.7 521.4Z" fill="#83cbc3" stroke="#83cbc3" stroke-width="0.9"/>
<path d="M417.8 516.8L419.9 520.0L417.8 523.5L415.8 520.5Z" fill="#80c7a4" stroke="#80c7a4" stroke-width="0.9"/>
<path d="M421.9 516.5L424.0 519.9L421.9 523.2L419.9 520.0Z" fill="#7dc07e" stroke="#7dc07e" stroke-width="0.9"/>
<path d="M393.3 521.2L395.3 523.5L393.3 525.7L391.2 523.4Z" fill="#3a97d7" stroke="#3a97d7" stroke-width="0.9"/>
<path d="M397.4 521.4L399.4 523.8L397.4 525.9L395.3 523.5Z" fill="#30a9e2" stroke="#30a9e2" stroke-width="0.9"/>
<path d="M401.5 521.7L403.5 524.2L401.5 526.2L399.4 523.8Z" fill="#39b4e4" stroke="#39b4e4" stroke-width="0.9"/>
<path d="M342.1 514.6L344.2 518.1L342.1 520.0L340.1 516.6Z" fill="#80c8a9" stroke="#80c8a9" stroke-width="0.9"/>
<path d="M346.2 516.2L348.3 519.7L346.2 521.6L344.2 518.1Z" fill="#84ccc5" stroke="#84ccc5" stroke-width="0.9"/>
<path d="M350.3 517.8L352.4 521.3L350.3 523.2L348.3 519.7Z" fill="#72c8da" stroke="#72c8da" stroke-width="0.9"/>
<path d="M354.4 519.5L356.4 523.1L354.4 524.9L352.4 521.3Z" fill="#52bde1" stroke="#52bde1" stroke-width="0.9"/>
<path d="M374.9 523.1L376.9 525.5L374.9 527.6L372.8 525.2Z" fill="#3f87cd" stroke="#3f87cd" stroke-width="0.9"/>
<path d="M379.0 523.3L381.0 525.6L379.0 527.8L376.9 525.5Z" fill="#3f87cd" stroke="#3f87cd" stroke-width="0.9"/>
<path d="M383.0 523.4L385.1 525.7L383.0 527.9L381.0 525.6Z" fill="#3f87cd" stroke="#3f87cd" stroke-width="0.9"/>
<path d="M387.1 523.5L389.2 525.7L387.1 527.9L385.1 525.7Z" fill="#3f87cd" stroke="#3f87cd" stroke-width="0.9"/>
<path d="M358.5 521.3L360.5 523.6L358.5 525.3L356.4 523.1Z" fill="#36b3e5" stroke="#36b3e5" stroke-width="0.9"/>
<path d="M362.6 521.8L364.6 524.1L362.6 525.8L360.5 523.6Z" fill="#2fabe3" stroke="#2fabe3" stroke-width="0.9"/>
<path d="M366.7 522.3L368.7 524.6L366.7 526.4L364.6 524.1Z" fill="#389cda" stroke="#389cda" stroke-width="0.9"/>
<path d="M370.8 522.9L372.8 525.2L370.8 527.0L368.7 524.6Z" fill="#3c90d2" stroke="#3c90d2" stroke-width="0.9"/>
<path d="M407.6 522.6L409.6 525.2L407.6 529.1L405.6 526.7Z" fill="#5fc1df" stroke="#5fc1df" stroke-width="0.9"/>
<path d="M411.7 521.4L413.7 524.2L411.7 527.9L409.6 525.2Z" fill="#79cad3" stroke="#79cad3" stroke-width="0.9"/>
<path d="M415.8 520.5L417.8 523.5L415.8 527.1L413.7 524.2Z" fill="#83cbbe" stroke="#83cbbe" stroke-width="0.9"/>
<path d="M419.9 520.0L421.9 523.2L419.9 526.6L417.8 523.5Z" fill="#7fc59a" stroke="#7fc59a" stroke-width="0.9"/>
<path d="M391.2 523.4L393.3 525.7L391.2 527.9L389.2 525.7Z" fill="#3c90d3" stroke="#3c90d3" stroke-width="0.9"/>
<path d="M395.3 523.5L397.4 525.9L395.3 528.0L393.3 525.7Z" fill="#35a0dd" stroke="#35a0dd" stroke-width="0.9"/>
<path d="M399.4 523.8L401.5 526.2L399.4 528.3L397.4 525.9Z" fill="#30b1e5" stroke="#30b1e5" stroke-width="0.9"/>
<path d="M403.5 524.2L405.6 526.7L403.5 528.6L401.5 526.2Z" fill="#41b7e3" stroke="#41b7e3" stroke-width="0.9"/>
<path d="M344.2 518.1L346.2 521.6L344.2 523.4L342.1 520.0Z" fill="#83cbc4" stroke="#83cbc4" stroke-width="0.9"/>
<path d="M348.3 519.7L350.3 523.2L348.3 525.0L346.2 521.6Z" fill="#74c9d8" stroke="#74c9d8" stroke-width="0.9"/>
<path d="M352.4 521.3L354.4 524.9L352.4 526.7L350.3 523.2Z" fill="#55bee1" stroke="#55bee1" stroke-width="0.9"/>
<path d="M376.9 525.5L379.0 527.8L376.9 529.9L374.9 527.6Z" fill="#3e89ce" stroke="#3e89ce" stroke-width="0.9"/>
<path d="M381.0 525.6L383.0 527.9L381.0 530.1L379.0 527.8Z" fill="#3e89ce" stroke="#3e89ce" stroke-width="0.9"/>
<path d="M385.1 525.7L387.1 527.9L385.1 530.1L383.0 527.9Z" fill="#3e89ce" stroke="#3e89ce" stroke-width="0.9"/>
<path d="M356.4 523.1L358.5 525.3L356.4 527.1L354.4 524.9Z" fill="#3bb5e4" stroke="#3bb5e4" stroke-width="0.9"/>
<path d="M360.5 523.6L362.6 525.8L360.5 527.6L358.5 525.3Z" fill="#2eb1e6" stroke="#2eb1e6" stroke-width="0.9"/>
<path d="M364.6 524.1L366.7 526.4L364.6 528.1L362.6 525.8Z" fill="#34a2de" stroke="#34a2de" stroke-width="0.9"/>
<path d="M368.7 524.6L370.8 527.0L368.7 528.7L366.7 526.4Z" fill="#3b94d5" stroke="#3b94d5" stroke-width="0.9"/>
<path d="M372.8 525.2L374.9 527.6L372.8 529.3L370.8 527.0Z" fill="#3d8cd0" stroke="#3d8cd0" stroke-width="0.9"/>
<path d="M409.6 525.2L411.7 527.9L409.6 531.6L407.6 529.1Z" fill="#66c4de" stroke="#66c4de" stroke-width="0.9"/>
<path d="M413.7 524.2L415.8 527.1L413.7 530.6L411.7 527.9Z" fill="#7ecbce" stroke="#7ecbce" stroke-width="0.9"/>
<path d="M417.8 523.5L419.9 526.6L417.8 529.9L415.8 527.1Z" fill="#82cab7" stroke="#82cab7" stroke-width="0.9"/>
<path d="M389.2 525.7L391.2 527.9L389.2 530.1L387.1 527.9Z" fill="#3d8dd1" stroke="#3d8dd1" stroke-width="0.9"/>
<path d="M393.3 525.7L395.3 528.0L393.3 530.1L391.2 527.9Z" fill="#3a97d7" stroke="#3a97d7" stroke-width="0.9"/>
<path d="M397.4 525.9L399.4 528.3L397.4 530.3L395.3 528.0Z" fill="#30a9e2" stroke="#30a9e2" stroke-width="0.9"/>
<path d="M401.5 526.2L403.5 528.6L401.5 530.6L399.4 528.3Z" fill="#39b4e4" stroke="#39b4e4" stroke-width="0.9"/>
<path d="M405.6 526.7L407.6 529.1L405.6 531.1L403.5 528.6Z" fill="#4bbae2" stroke="#4bbae2" stroke-width="0.9"/>
<path d="M346.2 521.6L348.3 525.0L346.2 526.9L344.2 523.4Z" fill="#76c9d6" stroke="#76c9d6" stroke-width="0.9"/>
<path d="M350.3 523.2L352.4 526.7L350.3 528.5L348.3 525.0Z" fill="#59bfe0" stroke="#59bfe0" stroke-width="0.9"/>
<path d="M379.0 527.8L381.0 530.1L379.0 532.3L376.9 529.9Z" fill="#3e8bd0" stroke="#3e8bd0" stroke-width="0.9"/>
<path d="M383.0 527.9L385.1 530.1L383.0 532.4L381.0 530.1Z" fill="#3e8bd0" stroke="#3e8bd0" stroke-width="0.9"/>
<path d="M354.4 524.9L356.4 527.1L354.4 528.9L352.4 526.7Z" fill="#3fb6e4" stroke="#3fb6e4" stroke-width="0.9"/>
<path d="M358.5 525.3L360.5 527.6L358.5 529.4L356.4 527.1Z" fill="#34b3e5" stroke="#34b3e5" stroke-width="0.9"/>
<path d="M362.6 525.8L364.6 528.1L362.6 529.9L360.5 527.6Z" fill="#30a8e2" stroke="#30a8e2" stroke-width="0.9"/>
<path d="M366.7 526.4L368.7 528.7L366.7 530.4L364.6 528.1Z" fill="#3999d9" stroke="#3999d9" stroke-width="0.9"/>
<path d="M370.8 527.0L372.8 529.3L370.8 531.0L368.7 528.7Z" fill="#3c92d4" stroke="#3c92d4" stroke-width="0.9"/>
<path d="M374.9 527.6L376.9 529.9L374.9 531.6L372.8 529.3Z" fill="#3d8ed1" stroke="#3d8ed1" stroke-width="0.9"/>
<path d="M411.7 527.9L413.7 530.6L411.7 534.1L409.6 531.6Z" fill="#6dc7dd" stroke="#6dc7dd" stroke-width="0.9"/>
<path d="M415.8 527.1L417.8 529.9L415.8 533.3L413.7 530.6Z" fill="#82ccca" stroke="#82ccca" stroke-width="0.9"/>
<path d="M387.1 527.9L389.2 530.1L387.1 532.2L385.1 530.1Z" fill="#3c8fd2" stroke="#3c8fd2" stroke-width="0.9"/>
<path d="M391.2 527.9L393.3 530.1L391.2 532.2L389.2 530.1Z" fill="#3b94d6" stroke="#3b94d6" stroke-width="0.9"/>
<path d="M395.3 528.0L397.4 530.3L395.3 532.3L393.3 530.1Z" fill="#35a0dd" stroke="#35a0dd" stroke-width="0.9"/>
<path d="M399.4 528.3L401.5 530.6L399.4 532.6L397.4 530.3Z" fill="#30b1e5" stroke="#30b1e5" stroke-width="0.9"/>
<path d="M403.5 528.6L405.6 531.1L403.5 533.0L401.5 530.6Z" fill="#42b7e3" stroke="#42b7e3" stroke-width="0.9"/>
<path d="M407.6 529.1L409.6 531.6L407.6 533.5L405.6 531.1Z" fill="#55bee1" stroke="#55bee1" stroke-width="0.9"/>
<path d="M348.3 525.0L350.3 528.5L348.3 530.3L346.2 526.9Z" fill="#5cc0e0" stroke="#5cc0e0" stroke-width="0.9"/>
<path d="M381.0 530.1L383.0 532.4L381.0 534.6L379.0 532.3Z" fill="#3d8dd1" stroke="#3d8dd1" stroke-width="0.9"/>
<path d="M352.4 526.7L354.4 528.9L352.4 530.7L350.3 528.5Z" fill="#42b7e3" stroke="#42b7e3" stroke-width="0.9"/>
<path d="M356.4 527.1L358.5 529.4L356.4 531.1L354.4 528.9Z" fill="#39b4e4" stroke="#39b4e4" stroke-width="0.9"/>
<path d="M360.5 527.6L362.6 529.9L360.5 531.6L358.5 529.4Z" fill="#2dafe5" stroke="#2dafe5" stroke-width="0.9"/>
<path d="M364.6 528.1L366.7 530.4L364.6 532.1L362.6 529.9Z" fill="#35a0dd" stroke="#35a0dd" stroke-width="0.9"/>
<path d="M368.7 528.7L370.8 531.0L368.7 532.7L366.7 530.4Z" fill="#3a97d7" stroke="#3a97d7" stroke-width="0.9"/>
<path d="M372.8 529.3L374.9 531.6L372.8 533.3L370.8 531.0Z" fill="#3b93d5" stroke="#3b93d5" stroke-width="0.9"/>
<path d="M376.9 529.9L379.0 532.3L376.9 533.9L374.9 531.6Z" fill="#3c90d2" stroke="#3c90d2" stroke-width="0.9"/>
<path d="M413.7 530.6L415.8 533.3L413.7 536.6L411.7 534.1Z" fill="#72c8da" stroke="#72c8da" stroke-width="0.9"/>
<path d="M385.1 530.1L387.1 532.2L385.1 534.4L383.0 532.4Z" fill="#3c90d3" stroke="#3c90d3" stroke-width="0.9"/>
<path d="M389.2 530.1L391.2 532.2L389.2 534.3L387.1 532.2Z" fill="#3b96d7" stroke="#3b96d7" stroke-width="0.9"/>
<path d="M393.3 530.1L395.3 532.3L393.3 534.4L391.2 532.2Z" fill="#389cda" stroke="#389cda" stroke-width="0.9"/>
<path d="M397.4 530.3L399.4 532.6L397.4 534.6L395.3 532.3Z" fill="#30a9e2" stroke="#30a9e2" stroke-width="0.9"/>
<path d="M401.5 530.6L403.5 533.0L401.5 534.9L399.4 532.6Z" fill="#3ab5e4" stroke="#3ab5e4" stroke-width="0.9"/>
<path d="M405.6 531.1L407.6 533.5L405.6 535.3L403.5 533.0Z" fill="#4dbbe2" stroke="#4dbbe2" stroke-width="0.9"/>
<path d="M409.6 531.6L411.7 534.1L409.6 535.9L407.6 533.5Z" fill="#5ec1e0" stroke="#5ec1e0" stroke-width="0.9"/>
<path d="M350.3 528.5L352.4 530.7L350.3 532.5L348.3 530.3Z" fill="#46b9e3" stroke="#46b9e3" stroke-width="0.9"/>
<path d="M354.4 528.9L356.4 531.1L354.4 532.9L352.4 530.7Z" fill="#3eb6e4" stroke="#3eb6e4" stroke-width="0.9"/>
<path d="M358.5 529.4L360.5 531.6L358.5 533.3L356.4 531.1Z" fill="#33b2e5" stroke="#33b2e5" stroke-width="0.9"/>
<path d="M362.6 529.9L364.6 532.1L362.6 533.8L360.5 531.6Z" fill="#31a7e1" stroke="#31a7e1" stroke-width="0.9"/>
<path d="M366.7 530.4L368.7 532.7L366.7 534.3L364.6 532.1Z" fill="#379ddb" stroke="#379ddb" stroke-width="0.9"/>
<path d="M370.8 531.0L372.8 533.3L370.8 534.9L368.7 532.7Z" fill="#3a98d8" stroke="#3a98d8" stroke-width="0.9"/>
<path d="M374.9 531.6L376.9 533.9L374.9 535.6L372.8 533.3Z" fill="#3b95d6" stroke="#3b95d6" stroke-width="0.9"/>
<path d="M379.0 532.3L381.0 534.6L379.0 536.2L376.9 533.9Z" fill="#3c91d3" stroke="#3c91d3" stroke-width="0.9"/>
<path d="M383.0 532.4L385.1 534.4L383.0 536.6L381.0 534.6Z" fill="#3c92d4" stroke="#3c92d4" stroke-width="0.9"/>
<path d="M387.1 532.2L389.2 534.3L387.1 536.4L385.1 534.4Z" fill="#3a97d7" stroke="#3a97d7" stroke-width="0.9"/>
<path d="M391.2 532.2L393.3 534.4L391.2 536.4L389.2 534.3Z" fill="#369edc" stroke="#369edc" stroke-width="0.9"/>
<path d="M395.3 532.3L397.4 534.6L395.3 536.6L393.3 534.4Z" fill="#32a5e0" stroke="#32a5e0" stroke-width="0.9"/>
<path d="M399.4 532.6L401.5 534.9L399.4 536.8L397.4 534.6Z" fill="#31b2e5" stroke="#31b2e5" stroke-width="0.9"/>
<path d="M403.5 533.0L405.6 535.3L403.5 537.2L401.5 534.9Z" fill="#45b8e3" stroke="#45b8e3" stroke-width="0.9"/>
<path d="M407.6 533.5L409.6 535.9L407.6 537.7L405.6 535.3Z" fill="#58bfe1" stroke="#58bfe1" stroke-width="0.9"/>
<path d="M411.7 534.1L413.7 536.6L411.7 538.3L409.6 535.9Z" fill="#66c4de" stroke="#66c4de" stroke-width="0.9"/>
<path d="M352.4 530.7L354.4 532.9L352.4 534.6L350.3 532.5Z" fill="#42b7e3" stroke="#42b7e3" stroke-width="0.9"/>
<path d="M356.4 531.1L358.5 533.3L356.4 535.1L354.4 532.9Z" fill="#39b4e4" stroke="#39b4e4" stroke-width="0.9"/>
<path d="M360.5 531.6L362.6 533.8L360.5 535.5L358.5 533.3Z" fill="#2dafe5" stroke="#2dafe5" stroke-width="0.9"/>
<path d="M364.6 532.1L366.7 534.3L364.6 536.0L362.6 533.8Z" fill="#33a4df" stroke="#33a4df" stroke-width="0.9"/>
<path d="M368.7 532.7L370.8 534.9L368.7 536.6L366.7 534.3Z" fill="#369fdc" stroke="#369fdc" stroke-width="0.9"/>
<path d="M372.8 533.3L374.9 535.6L372.8 537.2L370.8 534.9Z" fill="#399ad9" stroke="#399ad9" stroke-width="0.9"/>
<path d="M376.9 533.9L379.0 536.2L376.9 537.9L374.9 535.6Z" fill="#3b96d7" stroke="#3b96d7" stroke-width="0.9"/>
<path d="M385.1 534.4L387.1 536.4L385.1 538.6L383.0 536.6Z" fill="#3999d9" stroke="#3999d9" stroke-width="0.9"/>
<path d="M389.2 534.3L391.2 536.4L389.2 538.5L387.1 536.4Z" fill="#35a0dd" stroke="#35a0dd" stroke-width="0.9"/>
<path d="M393.3 534.4L395.3 536.6L393.3 538.5L391.2 536.4Z" fill="#31a7e1" stroke="#31a7e1" stroke-width="0.9"/>
<path d="M397.4 534.6L399.4 536.8L397.4 538.7L395.3 536.6Z" fill="#2cb0e6" stroke="#2cb0e6" stroke-width="0.9"/>
<path d="M401.5 534.9L403.5 537.2L401.5 539.0L399.4 536.8Z" fill="#3db6e4" stroke="#3db6e4" stroke-width="0.9"/>
<path d="M405.6 535.3L407.6 537.7L405.6 539.5L403.5 537.2Z" fill="#50bce1" stroke="#50bce1" stroke-width="0.9"/>
<path d="M409.6 535.9L411.7 538.3L409.6 540.1L407.6 537.7Z" fill="#61c2df" stroke="#61c2df" stroke-width="0.9"/>
<path d="M381.0 534.6L383.0 536.6L381.0 538.2L379.0 536.2Z" fill="#3b95d6" stroke="#3b95d6" stroke-width="0.9"/>
<path d="M354.4 532.9L356.4 535.1L354.4 536.8L352.4 534.6Z" fill="#3fb6e4" stroke="#3fb6e4" stroke-width="0.9"/>
<path d="M358.5 533.3L360.5 535.5L358.5 537.2L356.4 535.1Z" fill="#34b3e5" stroke="#34b3e5" stroke-width="0.9"/>
<path d="M362.6 533.8L364.6 536.0L362.6 537.7L360.5 535.5Z" fill="#2eace4" stroke="#2eace4" stroke-width="0.9"/>
<path d="M366.7 534.3L368.7 536.6L366.7 538.3L364.6 536.0Z" fill="#32a6e0" stroke="#32a6e0" stroke-width="0.9"/>
<path d="M370.8 534.9L372.8 537.2L370.8 538.9L368.7 536.6Z" fill="#35a1dd" stroke="#35a1dd" stroke-width="0.9"/>
<path d="M374.9 535.6L376.9 537.9L374.9 539.5L372.8 537.2Z" fill="#379cdb" stroke="#379cdb" stroke-width="0.9"/>
<path d="M387.1 536.4L389.2 538.5L387.1 540.5L385.1 538.6Z" fill="#34a2de" stroke="#34a2de" stroke-width="0.9"/>
<path d="M391.2 536.4L393.3 538.5L391.2 540.5L389.2 538.5Z" fill="#30aae2" stroke="#30aae2" stroke-width="0.9"/>
<path d="M395.3 536.6L397.4 538.7L395.3 540.6L393.3 538.5Z" fill="#2fb1e6" stroke="#2fb1e6" stroke-width="0.9"/>
<path d="M399.4 536.8L401.5 539.0L399.4 540.9L397.4 538.7Z" fill="#39b4e4" stroke="#39b4e4" stroke-width="0.9"/>
<path d="M403.5 537.2L405.6 539.5L403.5 541.3L401.5 539.0Z" fill="#49bae2" stroke="#49bae2" stroke-width="0.9"/>
<path d="M407.6 537.7L409.6 540.1L407.6 541.8L405.6 539.5Z" fill="#5bc0e0" stroke="#5bc0e0" stroke-width="0.9"/>
<path d="M379.0 536.2L381.0 538.2L379.0 539.9L376.9 537.9Z" fill="#399ad9" stroke="#399ad9" stroke-width="0.9"/>
<path d="M383.0 536.6L385.1 538.6L383.0 540.3L381.0 538.2Z" fill="#379ddb" stroke="#379ddb" stroke-width="0.9"/>
<path d="M356.4 535.1L358.5 537.2L356.4 539.0L354.4 536.8Z" fill="#3bb5e4" stroke="#3bb5e4" stroke-width="0.9"/>
<path d="M360.5 535.5L362.6 537.7L360.5 539.4L358.5 537.2Z" fill="#32b2e5" stroke="#32b2e5" stroke-width="0.9"/>
<path d="M364.6 536.0L366.7 538.3L364.6 539.9L362.6 537.7Z" fill="#2daee5" stroke="#2daee5" stroke-width="0.9"/>
<path d="M368.7 536.6L370.8 538.9L368.7 540.5L366.7 538.3Z" fill="#30a8e2" stroke="#30a8e2" stroke-width="0.9"/>
<path d="M372.8 537.2L374.9 539.5L372.8 541.1L370.8 538.9Z" fill="#33a4df" stroke="#33a4df" stroke-width="0.9"/>
<path d="M389.2 538.5L391.2 540.5L389.2 542.5L387.1 540.5Z" fill="#2eace4" stroke="#2eace4" stroke-width="0.9"/>
<path d="M393.3 538.5L395.3 540.6L393.3 542.6L391.2 540.5Z" fill="#31b2e5" stroke="#31b2e5" stroke-width="0.9"/>
<path d="M397.4 538.7L399.4 540.9L397.4 542.7L395.3 540.6Z" fill="#39b4e4" stroke="#39b4e4" stroke-width="0.9"/>
<path d="M401.5 539.0L403.5 541.3L401.5 543.1L399.4 540.9Z" fill="#44b8e3" stroke="#44b8e3" stroke-width="0.9"/>
<path d="M405.6 539.5L407.6 541.8L405.6 543.5L403.5 541.3Z" fill="#54bde1" stroke="#54bde1" stroke-width="0.9"/>
<path d="M376.9 537.9L379.0 539.9L376.9 541.6L374.9 539.5Z" fill="#35a1dd" stroke="#35a1dd" stroke-width="0.9"/>
<path d="M381.0 538.2L383.0 540.3L381.0 542.0L379.0 539.9Z" fill="#34a3de" stroke="#34a3de" stroke-width="0.9"/>
<path d="M385.1 538.6L387.1 540.5L385.1 542.3L383.0 540.3Z" fill="#32a6e0" stroke="#32a6e0" stroke-width="0.9"/>
<path d="M358.5 537.2L360.5 539.4L358.5 541.1L356.4 539.0Z" fill="#39b4e4" stroke="#39b4e4" stroke-width="0.9"/>
<path d="M362.6 537.7L364.6 539.9L362.6 541.6L360.5 539.4Z" fill="#33b2e5" stroke="#33b2e5" stroke-width="0.9"/>
<path d="M366.7 538.3L368.7 540.5L366.7 542.1L364.6 539.9Z" fill="#2cafe6" stroke="#2cafe6" stroke-width="0.9"/>
<path d="M370.8 538.9L372.8 541.1L370.8 542.7L368.7 540.5Z" fill="#2faae3" stroke="#2faae3" stroke-width="0.9"/>
<path d="M391.2 540.5L393.3 542.6L391.2 544.5L389.2 542.5Z" fill="#32b2e5" stroke="#32b2e5" stroke-width="0.9"/>
<path d="M395.3 540.6L397.4 542.7L395.3 544.6L393.3 542.6Z" fill="#39b4e4" stroke="#39b4e4" stroke-width="0.9"/>
<path d="M399.4 540.9L401.5 543.1L399.4 544.8L397.4 542.7Z" fill="#43b8e3" stroke="#43b8e3" stroke-width="0.9"/>
<path d="M403.5 541.3L405.6 543.5L403.5 545.2L401.5 543.1Z" fill="#50bce2" stroke="#50bce2" stroke-width="0.9"/>
<path d="M374.9 539.5L376.9 541.6L374.9 543.3L372.8 541.1Z" fill="#31a8e1" stroke="#31a8e1" stroke-width="0.9"/>
<path d="M379.0 539.9L381.0 542.0L379.0 543.7L376.9 541.6Z" fill="#30a9e2" stroke="#30a9e2" stroke-width="0.9"/>
<path d="M383.0 540.3L385.1 542.3L383.0 544.0L381.0 542.0Z" fill="#2fabe3" stroke="#2fabe3" stroke-width="0.9"/>
<path d="M387.1 540.5L389.2 542.5L387.1 544.3L385.1 542.3Z" fill="#2cafe6" stroke="#2cafe6" stroke-width="0.9"/>
<path d="M360.5 539.4L362.6 541.6L360.5 543.3L358.5 541.1Z" fill="#39b4e4" stroke="#39b4e4" stroke-width="0.9"/>
<path d="M364.6 539.9L366.7 542.1L364.6 543.8L362.6 541.6Z" fill="#33b2e5" stroke="#33b2e5" stroke-width="0.9"/>
<path d="M368.7 540.5L370.8 542.7L368.7 544.4L366.7 542.1Z" fill="#2eb1e6" stroke="#2eb1e6" stroke-width="0.9"/>
<path d="M393.3 542.6L395.3 544.6L393.3 546.4L391.2 544.5Z" fill="#39b4e4" stroke="#39b4e4" stroke-width="0.9"/>
<path d="M397.4 542.7L399.4 544.8L397.4 546.6L395.3 544.6Z" fill="#42b7e3" stroke="#42b7e3" stroke-width="0.9"/>
<path d="M401.5 543.1L403.5 545.2L401.5 546.9L399.4 544.8Z" fill="#4dbbe2" stroke="#4dbbe2" stroke-width="0.9"/>
<path d="M372.8 541.1L374.9 543.3L372.8 544.9L370.8 542.7Z" fill="#2daee5" stroke="#2daee5" stroke-width="0.9"/>
<path d="M376.9 541.6L379.0 543.7L376.9 545.4L374.9 543.3Z" fill="#2dafe5" stroke="#2dafe5" stroke-width="0.9"/>
<path d="M381.0 542.0L383.0 544.0L381.0 545.8L379.0 543.7Z" fill="#2cb0e6" stroke="#2cb0e6" stroke-width="0.9"/>
<path d="M385.1 542.3L387.1 544.3L385.1 546.1L383.0 544.0Z" fill="#31b2e5" stroke="#31b2e5" stroke-width="0.9"/>
<path d="M389.2 542.5L391.2 544.5L389.2 546.3L387.1 544.3Z" fill="#34b3e5" stroke="#34b3e5" stroke-width="0.9"/>
<path d="M362.6 541.6L364.6 543.8L362.6 545.4L360.5 543.3Z" fill="#39b4e4" stroke="#39b4e4" stroke-width="0.9"/>
<path d="M366.7 542.1L368.7 544.4L366.7 546.0L364.6 543.8Z" fill="#34b3e5" stroke="#34b3e5" stroke-width="0.9"/>
<path d="M395.3 544.6L397.4 546.6L395.3 548.4L393.3 546.4Z" fill="#41b7e3" stroke="#41b7e3" stroke-width="0.9"/>
<path d="M399.4 544.8L401.5 546.9L399.4 548.7L397.4 546.6Z" fill="#4abae2" stroke="#4abae2" stroke-width="0.9"/>
<path d="M370.8 542.7L372.8 544.9L370.8 546.6L368.7 544.4Z" fill="#31b2e5" stroke="#31b2e5" stroke-width="0.9"/>
<path d="M374.9 543.3L376.9 545.4L374.9 547.1L372.8 544.9Z" fill="#31b2e5" stroke="#31b2e5" stroke-width="0.9"/>
<path d="M379.0 543.7L381.0 545.8L379.0 547.5L376.9 545.4Z" fill="#32b2e5" stroke="#32b2e5" stroke-width="0.9"/>
<path d="M383.0 544.0L385.1 546.1L383.0 547.9L381.0 545.8Z" fill="#34b3e5" stroke="#34b3e5" stroke-width="0.9"/>
<path d="M387.1 544.3L389.2 546.3L387.1 548.2L385.1 546.1Z" fill="#37b4e5" stroke="#37b4e5" stroke-width="0.9"/>
<path d="M391.2 544.5L393.3 546.4L391.2 548.3L389.2 546.3Z" fill="#3ab5e4" stroke="#3ab5e4" stroke-width="0.9"/>
<path d="M364.6 543.8L366.7 546.0L364.6 547.6L362.6 545.4Z" fill="#3ab5e4" stroke="#3ab5e4" stroke-width="0.9"/>
<path d="M397.4 546.6L399.4 548.7L397.4 550.4L395.3 548.4Z" fill="#48b9e3" stroke="#48b9e3" stroke-width="0.9"/>
<path d="M368.7 544.4L370.8 546.6L368.7 548.3L366.7 546.0Z" fill="#37b4e5" stroke="#37b4e5" stroke-width="0.9"/>
<path d="M372.8 544.9L374.9 547.1L372.8 548.8L370.8 546.6Z" fill="#36b3e5" stroke="#36b3e5" stroke-width="0.9"/>
<path d="M376.9 545.4L379.0 547.5L376.9 549.3L374.9 547.1Z" fill="#37b4e5" stroke="#37b4e5" stroke-width="0.9"/>
<path d="M381.0 545.8L383.0 547.9L381.0 549.7L379.0 547.5Z" fill="#38b4e4" stroke="#38b4e4" stroke-width="0.9"/>
<path d="M385.1 546.1L387.1 548.2L385.1 550.0L383.0 547.9Z" fill="#3ab5e4" stroke="#3ab5e4" stroke-width="0.9"/>
<path d="M389.2 546.3L391.2 548.3L389.2 550.2L387.1 548.2Z" fill="#3cb5e4" stroke="#3cb5e4" stroke-width="0.9"/>
<path d="M393.3 546.4L395.3 548.4L393.3 550.4L391.2 548.3Z" fill="#40b7e3" stroke="#40b7e3" stroke-width="0.9"/>
<path d="M366.7 546.0L368.7 548.3L366.7 549.9L364.6 547.6Z" fill="#3cb5e4" stroke="#3cb5e4" stroke-width="0.9"/>
<path d="M370.8 546.6L372.8 548.8L370.8 550.5L368.7 548.3Z" fill="#3bb5e4" stroke="#3bb5e4" stroke-width="0.9"/>
<path d="M374.9 547.1L376.9 549.3L374.9 551.1L372.8 548.8Z" fill="#3bb5e4" stroke="#3bb5e4" stroke-width="0.9"/>
<path d="M379.0 547.5L381.0 549.7L379.0 551.5L376.9 549.3Z" fill="#3cb5e4" stroke="#3cb5e4" stroke-width="0.9"/>
<path d="M383.0 547.9L385.1 550.0L383.0 551.9L381.0 549.7Z" fill="#3db6e4" stroke="#3db6e4" stroke-width="0.9"/>
<path d="M387.1 548.2L389.2 550.2L387.1 552.1L385.1 550.0Z" fill="#3eb6e4" stroke="#3eb6e4" stroke-width="0.9"/>
<path d="M391.2 548.3L393.3 550.4L391.2 552.3L389.2 550.2Z" fill="#42b7e3" stroke="#42b7e3" stroke-width="0.9"/>
<path d="M395.3 548.4L397.4 550.4L395.3 552.4L393.3 550.4Z" fill="#47b9e3" stroke="#47b9e3" stroke-width="0.9"/>
<path d="M368.7 548.3L370.8 550.5L368.7 552.2L366.7 549.9Z" fill="#3fb6e4" stroke="#3fb6e4" stroke-width="0.9"/>
<path d="M372.8 548.8L374.9 551.1L372.8 552.8L370.8 550.5Z" fill="#3fb6e4" stroke="#3fb6e4" stroke-width="0.9"/>
<path d="M376.9 549.3L379.0 551.5L376.9 553.3L374.9 551.1Z" fill="#3fb6e4" stroke="#3fb6e4" stroke-width="0.9"/>
<path d="M381.0 549.7L383.0 551.9L381.0 553.7L379.0 551.5Z" fill="#40b7e4" stroke="#40b7e4" stroke-width="0.9"/>
<path d="M385.1 550.0L387.1 552.1L385.1 554.0L383.0 551.9Z" fill="#40b7e3" stroke="#40b7e3" stroke-width="0.9"/>
<path d="M389.2 550.2L391.2 552.3L389.2 554.2L387.1 552.1Z" fill="#43b8e3" stroke="#43b8e3" stroke-width="0.9"/>
<path d="M393.3 550.4L395.3 552.4L393.3 554.3L391.2 552.3Z" fill="#47b9e3" stroke="#47b9e3" stroke-width="0.9"/>
<path d="M370.8 550.5L372.8 552.8L370.8 554.6L368.7 552.2Z" fill="#43b8e3" stroke="#43b8e3" stroke-width="0.9"/>
<path d="M374.9 551.1L376.9 553.3L374.9 555.1L372.8 552.8Z" fill="#43b8e3" stroke="#43b8e3" stroke-width="0.9"/>
<path d="M379.0 551.5L381.0 553.7L379.0 555.5L376.9 553.3Z" fill="#43b8e3" stroke="#43b8e3" stroke-width="0.9"/>
<path d="M383.0 551.9L385.1 554.0L383.0 555.9L381.0 553.7Z" fill="#43b8e3" stroke="#43b8e3" stroke-width="0.9"/>
<path d="M387.1 552.1L389.2 554.2L387.1 556.2L385.1 554.0Z" fill="#44b8e3" stroke="#44b8e3" stroke-width="0.9"/>
<path d="M391.2 552.3L393.3 554.3L391.2 556.3L389.2 554.2Z" fill="#48b9e3" stroke="#48b9e3" stroke-width="0.9"/>
<path d="M372.8 552.8L374.9 555.1L372.8 556.9L370.8 554.6Z" fill="#46b9e3" stroke="#46b9e3" stroke-width="0.9"/>
<path d="M376.9 553.3L379.0 555.5L376.9 557.4L374.9 555.1Z" fill="#45b8e3" stroke="#45b8e3" stroke-width="0.9"/>
<path d="M381.0 553.7L383.0 555.9L381.0 557.8L379.0 555.5Z" fill="#45b8e3" stroke="#45b8e3" stroke-width="0.9"/>
<path d="M385.1 554.0L387.1 556.2L385.1 558.1L383.0 555.9Z" fill="#45b8e3" stroke="#45b8e3" stroke-width="0.9"/>
<path d="M389.2 554.2L391.2 556.3L389.2 558.3L387.1 556.2Z" fill="#48b9e3" stroke="#48b9e3" stroke-width="0.9"/>
<path d="M374.9 555.1L376.9 557.4L374.9 559.2L372.8 556.9Z" fill="#48b9e2" stroke="#48b9e2" stroke-width="0.9"/>
<path d="M379.0 555.5L381.0 557.8L379.0 559.7L376.9 557.4Z" fill="#47b9e3" stroke="#47b9e3" stroke-width="0.9"/>
<path d="M383.0 555.9L385.1 558.1L383.0 560.0L381.0 557.8Z" fill="#47b9e3" stroke="#47b9e3" stroke-width="0.9"/>
<path d="M387.1 556.2L389.2 558.3L387.1 560.3L385.1 558.1Z" fill="#48b9e2" stroke="#48b9e2" stroke-width="0.9"/>
<path d="M376.9 557.4L379.0 559.7L376.9 561.6L374.9 559.2Z" fill="#49bae2" stroke="#49bae2" stroke-width="0.9"/>
<path d="M381.0 557.8L383.0 560.0L381.0 561.9L379.0 559.7Z" fill="#48b9e3" stroke="#48b9e3" stroke-width="0.9"/>
<path d="M385.1 558.1L387.1 560.3L385.1 562.2L383.0 560.0Z" fill="#49bae2" stroke="#49bae2" stroke-width="0.9"/>
<path d="M379.0 559.7L381.0 561.9L379.0 563.9L376.9 561.6Z" fill="#49bae2" stroke="#49bae2" stroke-width="0.9"/>
<path d="M383.0 560.0L385.1 562.2L383.0 564.2L381.0 561.9Z" fill="#49bae2" stroke="#49bae2" stroke-width="0.9"/>
<path d="M381.0 561.9L383.0 564.2L381.0 566.2L379.0 563.9Z" fill="#4abae2" stroke="#4abae2" stroke-width="0.9"/>
<path d="M381.0 430.8L364.6 473.5L348.3 485.8L331.9 502.9M397.4 455.3L381.0 500.2L364.6 515.9L348.3 530.3M413.7 478.2L397.4 516.7L381.0 534.6L364.6 547.6M430.1 509.9L413.7 536.6L397.4 550.4L381.0 566.2M381.0 430.8L397.4 455.3L413.7 478.2L430.1 509.9M364.6 473.5L381.0 500.2L397.4 516.7L413.7 536.6M348.3 485.8L364.6 515.9L381.0 534.6L397.4 550.4M331.9 502.9L348.3 530.3L364.6 547.6L381.0 566.2" stroke="#ffffff" stroke-opacity="0.3" stroke-width="0.8" fill="none"/>
<circle cx="381.0" cy="430.8" r="1.3" fill="#1a1a1a"/>
<circle cx="348.3" cy="485.8" r="1.3" fill="#1a1a1a"/>
<circle cx="331.9" cy="502.9" r="1.3" fill="#1a1a1a"/>
<circle cx="397.4" cy="455.3" r="1.3" fill="#1a1a1a"/>
<circle cx="364.6" cy="515.9" r="1.3" fill="#1a1a1a"/>
<circle cx="348.3" cy="530.3" r="1.3" fill="#1a1a1a"/>
<circle cx="413.7" cy="478.2" r="1.3" fill="#1a1a1a"/>
<circle cx="397.4" cy="516.7" r="1.3" fill="#1a1a1a"/>
<circle cx="381.0" cy="534.6" r="1.3" fill="#1a1a1a"/>
<circle cx="364.6" cy="547.6" r="1.3" fill="#1a1a1a"/>
<circle cx="430.1" cy="509.9" r="1.3" fill="#1a1a1a"/>
<circle cx="413.7" cy="536.6" r="1.3" fill="#1a1a1a"/>
<circle cx="397.4" cy="550.4" r="1.3" fill="#1a1a1a"/>
<circle cx="381.0" cy="566.2" r="1.3" fill="#1a1a1a"/>
<path d="M331.9 475.0V541.3" stroke="#a8a8a8" stroke-width="1" fill="none"/>
<path d="M331.9 541.3L381.0 586.3L430.1 541.3" stroke="#a8a8a8" stroke-width="1.1" fill="none"/>
<text x="326.2" y="478.3" font-size="12.8" text-anchor="end" fill="#1a1a1a">100</text>
<text x="326.2" y="511" font-size="12.8" text-anchor="end" fill="#1a1a1a">50</text>
<text x="326.2" y="544.2" font-size="12.8" text-anchor="end" fill="#1a1a1a">0</text>
<text x="324.9" y="555" font-size="12.8" text-anchor="middle" fill="#1a1a1a">0</text>
<text x="337" y="570.6" font-size="12.8" text-anchor="middle" fill="#1a1a1a">0.8</text>
<text x="354.3" y="583.7" font-size="12.8" text-anchor="middle" fill="#1a1a1a">1</text>
<text x="370.6" y="600.3" font-size="12.8" text-anchor="middle" fill="#1a1a1a">1.4</text>
<text x="435" y="555" font-size="12.8" text-anchor="middle" fill="#1a1a1a">0</text>
<text x="423" y="570.6" font-size="12.8" text-anchor="middle" fill="#1a1a1a">0.6</text>
<text x="408.9" y="583.7" font-size="12.8" text-anchor="middle" fill="#1a1a1a">1.8</text>
<text x="392.5" y="600.3" font-size="12.8" text-anchor="middle" fill="#1a1a1a">5.4</text>
<text x="260" y="617.5" font-size="12.4" fill="#1a1a1a" textLength="106.2" lengthAdjust="spacingAndGlyphs">RUG 2 FK866 [nM]</text>
<text x="397" y="617.5" font-size="12.4" fill="#1a1a1a" textLength="108" lengthAdjust="spacingAndGlyphs">DRUG 1 IACS [uM]</text>
<text transform="translate(296.9,493.7) rotate(-90)" font-size="17.4" class="c" text-anchor="middle" fill="#1a1a1a" textLength="50.8" lengthAdjust="spacingAndGlyphs">% Control</text>
<rect x="451.4" y="430.4" width="12.8" height="156.3" fill="url(#cbg)"/>
<text transform="translate(477.6,484.8) rotate(-90)" font-size="12.4" fill="#1a1a1a" textLength="43.8" lengthAdjust="spacingAndGlyphs">Synergy</text>
<text transform="translate(477.6,573.2) rotate(-90)" font-size="12.4" fill="#1a1a1a" textLength="64.8" lengthAdjust="spacingAndGlyphs">Antagonism</text>
<path d="M381.0 711.4L381.0 645.0M364.6 726.4L364.6 660.0M348.3 741.4L348.3 675.0M331.9 756.4L331.9 690.0M381.0 711.4L381.0 645.0M397.4 726.4L397.4 660.0M413.7 741.4L413.7 675.0M430.1 756.4L430.1 690.0M381.0 711.4L331.9 756.4M381.0 711.4L430.1 756.4M381.0 678.2L331.9 723.2M381.0 678.2L430.1 723.2M381.0 645.0L331.9 690.0M381.0 645.0L430.1 690.0M381.0 711.4L331.9 756.4M381.0 711.4L430.1 756.4M397.4 726.4L348.3 771.4M364.6 726.4L413.7 771.4M413.7 741.4L364.6 786.4M348.3 741.4L397.4 786.4M430.1 756.4L381.0 801.4M331.9 756.4L381.0 801.4" stroke="#e3e3e3" stroke-width="0.8" fill="none"/>
<path d="M381.0 643.8L383.0 650.5L381.0 654.6L379.0 647.9Z" fill="#85c056" stroke="#85c056" stroke-width="0.9"/>
<path d="M379.0 647.9L381.0 654.6L379.0 658.8L376.9 651.9Z" fill="#84c059" stroke="#84c059" stroke-width="0.9"/>
<path d="M383.0 650.5L385.1 657.2L383.0 661.4L381.0 654.6Z" fill="#84c059" stroke="#84c059" stroke-width="0.9"/>
<path d="M376.9 651.9L379.0 658.8L376.9 662.9L374.9 656.0Z" fill="#84c05b" stroke="#84c05b" stroke-width="0.9"/>
<path d="M381.0 654.6L383.0 661.4L381.0 665.6L379.0 658.8Z" fill="#83c05e" stroke="#83c05e" stroke-width="0.9"/>
<path d="M385.1 657.2L387.1 663.9L385.1 668.1L383.0 661.4Z" fill="#84c05b" stroke="#84c05b" stroke-width="0.9"/>
<path d="M374.9 656.0L376.9 662.9L374.9 667.0L372.8 660.1Z" fill="#83c05d" stroke="#83c05d" stroke-width="0.9"/>
<path d="M379.0 658.8L381.0 665.6L379.0 669.7L376.9 662.9Z" fill="#81bf64" stroke="#81bf64" stroke-width="0.9"/>
<path d="M383.0 661.4L385.1 668.1L383.0 672.4L381.0 665.6Z" fill="#81bf64" stroke="#81bf64" stroke-width="0.9"/>
<path d="M387.1 663.9L389.2 670.6L387.1 674.9L385.1 668.1Z" fill="#83c05d" stroke="#83c05d" stroke-width="0.9"/>
<path d="M372.8 660.1L374.9 667.0L372.8 671.1L370.8 664.2Z" fill="#82c060" stroke="#82c060" stroke-width="0.9"/>
<path d="M376.9 662.9L379.0 669.7L376.9 673.9L374.9 667.0Z" fill="#80bf6a" stroke="#80bf6a" stroke-width="0.9"/>
<path d="M381.0 665.6L383.0 672.4L381.0 676.6L379.0 669.7Z" fill="#7fbf6d" stroke="#7fbf6d" stroke-width="0.9"/>
<path d="M385.1 668.1L387.1 674.9L385.1 679.2L383.0 672.4Z" fill="#80bf6a" stroke="#80bf6a" stroke-width="0.9"/>
<path d="M389.2 670.6L391.2 677.4L389.2 681.7L387.1 674.9Z" fill="#82c060" stroke="#82c060" stroke-width="0.9"/>
<path d="M370.8 664.2L372.8 671.1L370.8 675.2L368.7 668.2Z" fill="#82c062" stroke="#82c062" stroke-width="0.9"/>
<path d="M374.9 667.0L376.9 673.9L374.9 678.1L372.8 671.1Z" fill="#7fbf70" stroke="#7fbf70" stroke-width="0.9"/>
<path d="M379.0 669.7L381.0 676.6L379.0 680.8L376.9 673.9Z" fill="#7dbf77" stroke="#7dbf77" stroke-width="0.9"/>
<path d="M383.0 672.4L385.1 679.2L383.0 683.4L381.0 676.6Z" fill="#7dbf77" stroke="#7dbf77" stroke-width="0.9"/>
<path d="M387.1 674.9L389.2 681.7L387.1 686.0L385.1 679.2Z" fill="#7fbf70" stroke="#7fbf70" stroke-width="0.9"/>
<path d="M391.2 677.4L393.3 684.1L391.2 688.4L389.2 681.7Z" fill="#82c062" stroke="#82c062" stroke-width="0.9"/>
<path d="M368.7 668.2L370.8 675.2L368.7 679.4L366.7 672.3Z" fill="#81bf64" stroke="#81bf64" stroke-width="0.9"/>
<path d="M372.8 671.1L374.9 678.1L372.8 682.2L370.8 675.2Z" fill="#7ebf76" stroke="#7ebf76" stroke-width="0.9"/>
<path d="M376.9 673.9L379.0 680.8L376.9 685.0L374.9 678.1Z" fill="#7ec182" stroke="#7ec182" stroke-width="0.9"/>
<path d="M381.0 676.6L383.0 683.4L381.0 687.7L379.0 680.8Z" fill="#7ec287" stroke="#7ec287" stroke-width="0.9"/>
<path d="M385.1 679.2L387.1 686.0L385.1 690.3L383.0 683.4Z" fill="#7ec182" stroke="#7ec182" stroke-width="0.9"/>
<path d="M389.2 681.7L391.2 688.4L389.2 692.8L387.1 686.0Z" fill="#7ebf76" stroke="#7ebf76" stroke-width="0.9"/>
<path d="M393.3 684.1L395.3 690.8L393.3 695.2L391.2 688.4Z" fill="#81bf64" stroke="#81bf64" stroke-width="0.9"/>
<path d="M366.7 672.3L368.7 679.4L366.7 683.5L364.6 676.4Z" fill="#81bf67" stroke="#81bf67" stroke-width="0.9"/>
<path d="M370.8 675.2L372.8 682.2L370.8 686.4L368.7 679.4Z" fill="#7dc07c" stroke="#7dc07c" stroke-width="0.9"/>
<path d="M374.9 678.1L376.9 685.0L374.9 689.2L372.8 682.2Z" fill="#7fc490" stroke="#7fc490" stroke-width="0.9"/>
<path d="M379.0 680.8L381.0 687.7L379.0 691.9L376.9 685.0Z" fill="#7fc69b" stroke="#7fc69b" stroke-width="0.9"/>
<path d="M383.0 683.4L385.1 690.3L383.0 694.6L381.0 687.7Z" fill="#7fc69b" stroke="#7fc69b" stroke-width="0.9"/>
<path d="M387.1 686.0L389.2 692.8L387.1 697.1L385.1 690.3Z" fill="#7fc490" stroke="#7fc490" stroke-width="0.9"/>
<path d="M391.2 688.4L393.3 695.2L391.2 699.6L389.2 692.8Z" fill="#7dc07c" stroke="#7dc07c" stroke-width="0.9"/>
<path d="M395.3 690.8L397.4 697.5L395.3 701.9L393.3 695.2Z" fill="#81bf67" stroke="#81bf67" stroke-width="0.9"/>
<path d="M368.7 679.4L370.8 686.4L368.7 690.5L366.7 683.5Z" fill="#7ec183" stroke="#7ec183" stroke-width="0.9"/>
<path d="M372.8 682.2L374.9 689.2L372.8 693.4L370.8 686.4Z" fill="#7fc69f" stroke="#7fc69f" stroke-width="0.9"/>
<path d="M376.9 685.0L379.0 691.9L376.9 696.2L374.9 689.2Z" fill="#81c9ad" stroke="#81c9ad" stroke-width="0.9"/>
<path d="M381.0 687.7L383.0 694.6L381.0 698.9L379.0 691.9Z" fill="#81c9b0" stroke="#81c9b0" stroke-width="0.9"/>
<path d="M385.1 690.3L387.1 697.1L385.1 701.5L383.0 694.6Z" fill="#81c9ad" stroke="#81c9ad" stroke-width="0.9"/>
<path d="M389.2 692.8L391.2 699.6L389.2 704.0L387.1 697.1Z" fill="#7fc69f" stroke="#7fc69f" stroke-width="0.9"/>
<path d="M393.3 695.2L395.3 701.9L393.3 706.4L391.2 699.6Z" fill="#7ec183" stroke="#7ec183" stroke-width="0.9"/>
<path d="M364.6 676.4L366.7 683.5L364.6 685.7L362.6 678.6Z" fill="#81bf68" stroke="#81bf68" stroke-width="0.9"/>
<path d="M397.4 697.5L399.4 700.7L397.4 705.0L395.3 701.9Z" fill="#80bf69" stroke="#80bf69" stroke-width="0.9"/>
<path d="M370.8 686.4L372.8 693.4L370.8 697.6L368.7 690.5Z" fill="#80c8ac" stroke="#80c8ac" stroke-width="0.9"/>
<path d="M374.9 689.2L376.9 696.2L374.9 700.4L372.8 693.4Z" fill="#82caba" stroke="#82caba" stroke-width="0.9"/>
<path d="M379.0 691.9L381.0 698.9L379.0 703.2L376.9 696.2Z" fill="#83cbc1" stroke="#83cbc1" stroke-width="0.9"/>
<path d="M383.0 694.6L385.1 701.5L383.0 705.8L381.0 698.9Z" fill="#83cbc1" stroke="#83cbc1" stroke-width="0.9"/>
<path d="M387.1 697.1L389.2 704.0L387.1 708.4L385.1 701.5Z" fill="#82caba" stroke="#82caba" stroke-width="0.9"/>
<path d="M391.2 699.6L393.3 706.4L391.2 710.8L389.2 704.0Z" fill="#80c8ac" stroke="#80c8ac" stroke-width="0.9"/>
<path d="M362.6 678.6L364.6 685.7L362.6 687.8L360.5 680.8Z" fill="#81bf68" stroke="#81bf68" stroke-width="0.9"/>
<path d="M366.7 683.5L368.7 690.5L366.7 692.7L364.6 685.7Z" fill="#7ec289" stroke="#7ec289" stroke-width="0.9"/>
<path d="M395.3 701.9L397.4 705.0L395.3 709.3L393.3 706.4Z" fill="#7ec289" stroke="#7ec289" stroke-width="0.9"/>
<path d="M399.4 700.7L401.5 703.9L399.4 708.1L397.4 705.0Z" fill="#80bf6a" stroke="#80bf6a" stroke-width="0.9"/>
<path d="M372.8 693.4L374.9 700.4L372.8 704.7L370.8 697.6Z" fill="#84ccc4" stroke="#84ccc4" stroke-width="0.9"/>
<path d="M376.9 696.2L379.0 703.2L376.9 707.5L374.9 700.4Z" fill="#81cbcb" stroke="#81cbcb" stroke-width="0.9"/>
<path d="M381.0 698.9L383.0 705.8L381.0 710.2L379.0 703.2Z" fill="#7fcbcd" stroke="#7fcbcd" stroke-width="0.9"/>
<path d="M385.1 701.5L387.1 708.4L385.1 712.7L383.0 705.8Z" fill="#81cbcb" stroke="#81cbcb" stroke-width="0.9"/>
<path d="M389.2 704.0L391.2 710.8L389.2 715.2L387.1 708.4Z" fill="#84ccc4" stroke="#84ccc4" stroke-width="0.9"/>
<path d="M360.5 680.8L362.6 687.8L360.5 690.0L358.5 683.0Z" fill="#81bf68" stroke="#81bf68" stroke-width="0.9"/>
<path d="M364.6 685.7L366.7 692.7L364.6 694.9L362.6 687.8Z" fill="#7ec38c" stroke="#7ec38c" stroke-width="0.9"/>
<path d="M368.7 690.5L370.8 697.6L368.7 699.8L366.7 692.7Z" fill="#81c9b2" stroke="#81c9b2" stroke-width="0.9"/>
<path d="M393.3 706.4L395.3 709.3L393.3 713.7L391.2 710.8Z" fill="#81c9b1" stroke="#81c9b1" stroke-width="0.9"/>
<path d="M397.4 705.0L399.4 708.1L397.4 712.3L395.3 709.3Z" fill="#7ec38b" stroke="#7ec38b" stroke-width="0.9"/>
<path d="M401.5 703.9L403.5 707.0L401.5 711.1L399.4 708.1Z" fill="#80bf6c" stroke="#80bf6c" stroke-width="0.9"/>
<path d="M374.9 700.4L376.9 707.5L374.9 711.8L372.8 704.7Z" fill="#77c9d5" stroke="#77c9d5" stroke-width="0.9"/>
<path d="M379.0 703.2L381.0 710.2L379.0 714.5L376.9 707.5Z" fill="#72c8da" stroke="#72c8da" stroke-width="0.9"/>
<path d="M383.0 705.8L385.1 712.7L383.0 717.1L381.0 710.2Z" fill="#72c8da" stroke="#72c8da" stroke-width="0.9"/>
<path d="M387.1 708.4L389.2 715.2L387.1 719.7L385.1 712.7Z" fill="#77c9d5" stroke="#77c9d5" stroke-width="0.9"/>
<path d="M358.5 683.0L360.5 690.0L358.5 692.2L356.4 685.2Z" fill="#81bf68" stroke="#81bf68" stroke-width="0.9"/>
<path d="M362.6 687.8L364.6 694.9L362.6 697.1L360.5 690.0Z" fill="#7ec38f" stroke="#7ec38f" stroke-width="0.9"/>
<path d="M366.7 692.7L368.7 699.8L366.7 701.9L364.6 694.9Z" fill="#82cab5" stroke="#82cab5" stroke-width="0.9"/>
<path d="M370.8 697.6L372.8 704.7L370.8 706.8L368.7 699.8Z" fill="#83ccc9" stroke="#83ccc9" stroke-width="0.9"/>
<path d="M391.2 710.8L393.3 713.7L391.2 718.0L389.2 715.2Z" fill="#84ccc8" stroke="#84ccc8" stroke-width="0.9"/>
<path d="M395.3 709.3L397.4 712.3L395.3 716.5L393.3 713.7Z" fill="#81c9b2" stroke="#81c9b2" stroke-width="0.9"/>
<path d="M399.4 708.1L401.5 711.1L399.4 715.3L397.4 712.3Z" fill="#7ec38d" stroke="#7ec38d" stroke-width="0.9"/>
<path d="M403.5 707.0L405.6 710.2L403.5 714.2L401.5 711.1Z" fill="#7fbf6d" stroke="#7fbf6d" stroke-width="0.9"/>
<path d="M376.9 707.5L379.0 714.5L376.9 718.9L374.9 711.8Z" fill="#60c2df" stroke="#60c2df" stroke-width="0.9"/>
<path d="M381.0 710.2L383.0 717.1L381.0 721.5L379.0 714.5Z" fill="#5dc0e0" stroke="#5dc0e0" stroke-width="0.9"/>
<path d="M385.1 712.7L387.1 719.7L385.1 724.1L383.0 717.1Z" fill="#60c2df" stroke="#60c2df" stroke-width="0.9"/>
<path d="M356.4 685.2L358.5 692.2L356.4 694.4L354.4 687.4Z" fill="#81bf68" stroke="#81bf68" stroke-width="0.9"/>
<path d="M360.5 690.0L362.6 697.1L360.5 699.2L358.5 692.2Z" fill="#7fc491" stroke="#7fc491" stroke-width="0.9"/>
<path d="M364.6 694.9L366.7 701.9L364.6 704.1L362.6 697.1Z" fill="#82cab8" stroke="#82cab8" stroke-width="0.9"/>
<path d="M368.7 699.8L370.8 706.8L368.7 709.0L366.7 701.9Z" fill="#7fcbcd" stroke="#7fcbcd" stroke-width="0.9"/>
<path d="M372.8 704.7L374.9 711.8L372.8 713.9L370.8 706.8Z" fill="#6fc8dc" stroke="#6fc8dc" stroke-width="0.9"/>
<path d="M389.2 715.2L391.2 718.0L389.2 722.3L387.1 719.7Z" fill="#71c8db" stroke="#71c8db" stroke-width="0.9"/>
<path d="M393.3 713.7L395.3 716.5L393.3 720.8L391.2 718.0Z" fill="#84ccc8" stroke="#84ccc8" stroke-width="0.9"/>
<path d="M397.4 712.3L399.4 715.3L397.4 719.4L395.3 716.5Z" fill="#81c9b2" stroke="#81c9b2" stroke-width="0.9"/>
<path d="M401.5 711.1L403.5 714.2L401.5 718.2L399.4 715.3Z" fill="#7ec38f" stroke="#7ec38f" stroke-width="0.9"/>
<path d="M405.6 710.2L407.6 713.4L405.6 717.3L403.5 714.2Z" fill="#7fbf6f" stroke="#7fbf6f" stroke-width="0.9"/>
<path d="M379.0 714.5L381.0 721.5L379.0 725.9L376.9 718.9Z" fill="#3db6e4" stroke="#3db6e4" stroke-width="0.9"/>
<path d="M383.0 717.1L385.1 724.1L383.0 728.6L381.0 721.5Z" fill="#3db6e4" stroke="#3db6e4" stroke-width="0.9"/>
<path d="M354.4 687.4L356.4 694.4L354.4 696.6L352.4 689.6Z" fill="#80bf69" stroke="#80bf69" stroke-width="0.9"/>
<path d="M358.5 692.2L360.5 699.2L358.5 701.4L356.4 694.4Z" fill="#7fc494" stroke="#7fc494" stroke-width="0.9"/>
<path d="M362.6 697.1L364.6 704.1L362.6 706.2L360.5 699.2Z" fill="#82cabc" stroke="#82cabc" stroke-width="0.9"/>
<path d="M366.7 701.9L368.7 709.0L366.7 711.1L364.6 704.1Z" fill="#7ccad0" stroke="#7ccad0" stroke-width="0.9"/>
<path d="M370.8 706.8L372.8 713.9L370.8 716.0L368.7 709.0Z" fill="#6ac6dd" stroke="#6ac6dd" stroke-width="0.9"/>
<path d="M374.9 711.8L376.9 718.9L374.9 721.0L372.8 713.9Z" fill="#4fbce2" stroke="#4fbce2" stroke-width="0.9"/>
<path d="M387.1 719.7L389.2 722.3L387.1 726.7L385.1 724.1Z" fill="#54bde1" stroke="#54bde1" stroke-width="0.9"/>
<path d="M391.2 718.0L393.3 720.8L391.2 725.0L389.2 722.3Z" fill="#71c8db" stroke="#71c8db" stroke-width="0.9"/>
<path d="M395.3 716.5L397.4 719.4L395.3 723.5L393.3 720.8Z" fill="#83ccc9" stroke="#83ccc9" stroke-width="0.9"/>
<path d="M399.4 715.3L401.5 718.2L399.4 722.3L397.4 719.4Z" fill="#81c9b3" stroke="#81c9b3" stroke-width="0.9"/>
<path d="M403.5 714.2L405.6 717.3L403.5 721.2L401.5 718.2Z" fill="#7fc491" stroke="#7fc491" stroke-width="0.9"/>
<path d="M407.6 713.4L409.6 716.5L407.6 720.4L405.6 717.3Z" fill="#7fbf71" stroke="#7fbf71" stroke-width="0.9"/>
<path d="M381.0 721.5L383.0 728.6L381.0 733.0L379.0 725.9Z" fill="#3a98d8" stroke="#3a98d8" stroke-width="0.9"/>
<path d="M352.4 689.6L354.4 696.6L352.4 698.8L350.3 691.8Z" fill="#80bf69" stroke="#80bf69" stroke-width="0.9"/>
<path d="M356.4 694.4L358.5 701.4L356.4 703.6L354.4 696.6Z" fill="#7fc597" stroke="#7fc597" stroke-width="0.9"/>
<path d="M360.5 699.2L362.6 706.2L360.5 708.4L358.5 701.4Z" fill="#83cbbf" stroke="#83cbbf" stroke-width="0.9"/>
<path d="M364.6 704.1L366.7 711.1L364.6 713.2L362.6 706.2Z" fill="#79cad3" stroke="#79cad3" stroke-width="0.9"/>
<path d="M368.7 709.0L370.8 716.0L368.7 718.1L366.7 711.1Z" fill="#63c3df" stroke="#63c3df" stroke-width="0.9"/>
<path d="M372.8 713.9L374.9 721.0L372.8 723.1L370.8 716.0Z" fill="#44b8e3" stroke="#44b8e3" stroke-width="0.9"/>
<path d="M376.9 718.9L379.0 725.9L376.9 728.0L374.9 721.0Z" fill="#31a8e1" stroke="#31a8e1" stroke-width="0.9"/>
<path d="M385.1 724.1L387.1 726.7L385.1 731.0L383.0 728.6Z" fill="#2cb0e6" stroke="#2cb0e6" stroke-width="0.9"/>
<path d="M389.2 722.3L391.2 725.0L389.2 729.2L387.1 726.7Z" fill="#55bee1" stroke="#55bee1" stroke-width="0.9"/>
<path d="M393.3 720.8L395.3 723.5L393.3 727.6L391.2 725.0Z" fill="#72c8da" stroke="#72c8da" stroke-width="0.9"/>
<path d="M397.4 719.4L399.4 722.3L397.4 726.3L395.3 723.5Z" fill="#83ccc9" stroke="#83ccc9" stroke-width="0.9"/>
<path d="M401.5 718.2L403.5 721.2L401.5 725.1L399.4 722.3Z" fill="#81c9b4" stroke="#81c9b4" stroke-width="0.9"/>
<path d="M405.6 717.3L407.6 720.4L405.6 724.2L403.5 721.2Z" fill="#7fc493" stroke="#7fc493" stroke-width="0.9"/>
<path d="M409.6 716.5L411.7 719.7L409.6 723.4L407.6 720.4Z" fill="#7ebf72" stroke="#7ebf72" stroke-width="0.9"/>
<path d="M350.3 691.8L352.4 698.8L350.3 701.0L348.3 694.0Z" fill="#80bf69" stroke="#80bf69" stroke-width="0.9"/>
<path d="M354.4 696.6L356.4 703.6L354.4 705.7L352.4 698.8Z" fill="#7fc599" stroke="#7fc599" stroke-width="0.9"/>
<path d="M358.5 701.4L360.5 708.4L358.5 710.5L356.4 703.6Z" fill="#83cbc1" stroke="#83cbc1" stroke-width="0.9"/>
<path d="M362.6 706.2L364.6 713.2L362.6 715.4L360.5 708.4Z" fill="#76c9d6" stroke="#76c9d6" stroke-width="0.9"/>
<path d="M366.7 711.1L368.7 718.1L366.7 720.3L364.6 713.2Z" fill="#5dc0e0" stroke="#5dc0e0" stroke-width="0.9"/>
<path d="M370.8 716.0L372.8 723.1L370.8 725.2L368.7 718.1Z" fill="#3ab5e4" stroke="#3ab5e4" stroke-width="0.9"/>
<path d="M374.9 721.0L376.9 728.0L374.9 730.1L372.8 723.1Z" fill="#3999d9" stroke="#3999d9" stroke-width="0.9"/>
<path d="M379.0 725.9L381.0 733.0L379.0 735.1L376.9 728.0Z" fill="#4073be" stroke="#4073be" stroke-width="0.9"/>
<path d="M383.0 728.6L385.1 731.0L383.0 735.3L381.0 733.0Z" fill="#3f87cc" stroke="#3f87cc" stroke-width="0.9"/>
<path d="M387.1 726.7L389.2 729.2L387.1 733.4L385.1 731.0Z" fill="#2eb1e6" stroke="#2eb1e6" stroke-width="0.9"/>
<path d="M391.2 725.0L393.3 727.6L391.2 731.8L389.2 729.2Z" fill="#56bee1" stroke="#56bee1" stroke-width="0.9"/>
<path d="M395.3 723.5L397.4 726.3L395.3 730.3L393.3 727.6Z" fill="#72c8da" stroke="#72c8da" stroke-width="0.9"/>
<path d="M399.4 722.3L401.5 725.1L399.4 729.0L397.4 726.3Z" fill="#83ccc9" stroke="#83ccc9" stroke-width="0.9"/>
<path d="M403.5 721.2L405.6 724.2L403.5 728.0L401.5 725.1Z" fill="#82cab5" stroke="#82cab5" stroke-width="0.9"/>
<path d="M407.6 720.4L409.6 723.4L407.6 727.1L405.6 724.2Z" fill="#7fc494" stroke="#7fc494" stroke-width="0.9"/>
<path d="M411.7 719.7L413.7 722.9L411.7 726.5L409.6 723.4Z" fill="#7ebf74" stroke="#7ebf74" stroke-width="0.9"/>
<path d="M352.4 698.8L354.4 705.7L352.4 707.9L350.3 701.0Z" fill="#7fc69c" stroke="#7fc69c" stroke-width="0.9"/>
<path d="M356.4 703.6L358.5 710.5L356.4 712.7L354.4 705.7Z" fill="#83cbc3" stroke="#83cbc3" stroke-width="0.9"/>
<path d="M360.5 708.4L362.6 715.4L360.5 717.5L358.5 710.5Z" fill="#73c9d9" stroke="#73c9d9" stroke-width="0.9"/>
<path d="M364.6 713.2L366.7 720.3L364.6 722.4L362.6 715.4Z" fill="#55bee1" stroke="#55bee1" stroke-width="0.9"/>
<path d="M368.7 718.1L370.8 725.2L368.7 727.3L366.7 720.3Z" fill="#2fb1e6" stroke="#2fb1e6" stroke-width="0.9"/>
<path d="M372.8 723.1L374.9 730.1L372.8 732.2L370.8 725.2Z" fill="#3d8ed1" stroke="#3d8ed1" stroke-width="0.9"/>
<path d="M376.9 728.0L379.0 735.1L376.9 737.1L374.9 730.1Z" fill="#3f5db0" stroke="#3f5db0" stroke-width="0.9"/>
<path d="M348.3 694.0L350.3 701.0L348.3 702.9L346.2 695.9Z" fill="#80bf69" stroke="#80bf69" stroke-width="0.9"/>
<path d="M385.1 731.0L387.1 733.4L385.1 737.7L383.0 735.3Z" fill="#3e89ce" stroke="#3e89ce" stroke-width="0.9"/>
<path d="M389.2 729.2L391.2 731.8L389.2 735.9L387.1 733.4Z" fill="#30b1e5" stroke="#30b1e5" stroke-width="0.9"/>
<path d="M393.3 727.6L395.3 730.3L393.3 734.3L391.2 731.8Z" fill="#56bee1" stroke="#56bee1" stroke-width="0.9"/>
<path d="M397.4 726.3L399.4 729.0L397.4 732.9L395.3 730.3Z" fill="#72c8da" stroke="#72c8da" stroke-width="0.9"/>
<path d="M401.5 725.1L403.5 728.0L401.5 731.8L399.4 729.0Z" fill="#83ccc9" stroke="#83ccc9" stroke-width="0.9"/>
<path d="M405.6 724.2L407.6 727.1L405.6 730.8L403.5 728.0Z" fill="#82cab6" stroke="#82cab6" stroke-width="0.9"/>
<path d="M409.6 723.4L411.7 726.5L409.6 730.1L407.6 727.1Z" fill="#7fc596" stroke="#7fc596" stroke-width="0.9"/>
<path d="M381.0 733.0L383.0 735.3L381.0 737.4L379.0 735.1Z" fill="#3e57ad" stroke="#3e57ad" stroke-width="0.9"/>
<path d="M413.7 722.9L415.8 726.3L413.7 729.7L411.7 726.5Z" fill="#7ebf73" stroke="#7ebf73" stroke-width="0.9"/>
<path d="M354.4 705.7L356.4 712.7L354.4 714.9L352.4 707.9Z" fill="#84ccc5" stroke="#84ccc5" stroke-width="0.9"/>
<path d="M358.5 710.5L360.5 717.5L358.5 719.7L356.4 712.7Z" fill="#70c8dc" stroke="#70c8dc" stroke-width="0.9"/>
<path d="M362.6 715.4L364.6 722.4L362.6 724.5L360.5 717.5Z" fill="#4cbbe2" stroke="#4cbbe2" stroke-width="0.9"/>
<path d="M366.7 720.3L368.7 727.3L366.7 729.4L364.6 722.4Z" fill="#32a5e0" stroke="#32a5e0" stroke-width="0.9"/>
<path d="M370.8 725.2L372.8 732.2L370.8 734.3L368.7 727.3Z" fill="#4078c2" stroke="#4078c2" stroke-width="0.9"/>
<path d="M374.9 730.1L376.9 737.1L374.9 739.2L372.8 732.2Z" fill="#3d51a8" stroke="#3d51a8" stroke-width="0.9"/>
<path d="M346.2 695.9L348.3 702.9L346.2 704.8L344.2 697.9Z" fill="#81bf68" stroke="#81bf68" stroke-width="0.9"/>
<path d="M350.3 701.0L352.4 707.9L350.3 709.8L348.3 702.9Z" fill="#7fc69d" stroke="#7fc69d" stroke-width="0.9"/>
<path d="M387.1 733.4L389.2 735.9L387.1 740.0L385.1 737.7Z" fill="#3e8bcf" stroke="#3e8bcf" stroke-width="0.9"/>
<path d="M391.2 731.8L393.3 734.3L391.2 738.3L389.2 735.9Z" fill="#31b2e5" stroke="#31b2e5" stroke-width="0.9"/>
<path d="M395.3 730.3L397.4 732.9L395.3 736.9L393.3 734.3Z" fill="#57bee1" stroke="#57bee1" stroke-width="0.9"/>
<path d="M399.4 729.0L401.5 731.8L399.4 735.6L397.4 732.9Z" fill="#72c8da" stroke="#72c8da" stroke-width="0.9"/>
<path d="M403.5 728.0L405.6 730.8L403.5 734.5L401.5 731.8Z" fill="#83ccc9" stroke="#83ccc9" stroke-width="0.9"/>
<path d="M407.6 727.1L409.6 730.1L407.6 733.7L405.6 730.8Z" fill="#82cab6" stroke="#82cab6" stroke-width="0.9"/>
<path d="M379.0 735.1L381.0 737.4L379.0 739.5L376.9 737.1Z" fill="#3d4ea6" stroke="#3d4ea6" stroke-width="0.9"/>
<path d="M383.0 735.3L385.1 737.7L383.0 739.7L381.0 737.4Z" fill="#3f5baf" stroke="#3f5baf" stroke-width="0.9"/>
<path d="M411.7 726.5L413.7 729.7L411.7 733.2L409.6 730.1Z" fill="#7fc493" stroke="#7fc493" stroke-width="0.9"/>
<path d="M415.8 726.3L417.8 729.7L415.8 732.9L413.7 729.7Z" fill="#7fbf70" stroke="#7fbf70" stroke-width="0.9"/>
<path d="M356.4 712.7L358.5 719.7L356.4 721.8L354.4 714.9Z" fill="#6cc7dd" stroke="#6cc7dd" stroke-width="0.9"/>
<path d="M360.5 717.5L362.6 724.5L360.5 726.6L358.5 719.7Z" fill="#44b8e3" stroke="#44b8e3" stroke-width="0.9"/>
<path d="M364.6 722.4L366.7 729.4L364.6 731.5L362.6 724.5Z" fill="#3999d9" stroke="#3999d9" stroke-width="0.9"/>
<path d="M368.7 727.3L370.8 734.3L368.7 736.4L366.7 729.4Z" fill="#4063b5" stroke="#4063b5" stroke-width="0.9"/>
<path d="M372.8 732.2L374.9 739.2L372.8 741.3L370.8 734.3Z" fill="#3d4aa3" stroke="#3d4aa3" stroke-width="0.9"/>
<path d="M344.2 697.9L346.2 704.8L344.2 706.7L342.1 699.8Z" fill="#81bf68" stroke="#81bf68" stroke-width="0.9"/>
<path d="M348.3 702.9L350.3 709.8L348.3 711.8L346.2 704.8Z" fill="#7fc69c" stroke="#7fc69c" stroke-width="0.9"/>
<path d="M352.4 707.9L354.4 714.9L352.4 716.8L350.3 709.8Z" fill="#84ccc6" stroke="#84ccc6" stroke-width="0.9"/>
<path d="M389.2 735.9L391.2 738.3L389.2 742.4L387.1 740.0Z" fill="#3d8dd0" stroke="#3d8dd0" stroke-width="0.9"/>
<path d="M393.3 734.3L395.3 736.9L393.3 740.8L391.2 738.3Z" fill="#32b2e5" stroke="#32b2e5" stroke-width="0.9"/>
<path d="M397.4 732.9L399.4 735.6L397.4 739.4L395.3 736.9Z" fill="#58bfe1" stroke="#58bfe1" stroke-width="0.9"/>
<path d="M401.5 731.8L403.5 734.5L401.5 738.2L399.4 735.6Z" fill="#72c8da" stroke="#72c8da" stroke-width="0.9"/>
<path d="M405.6 730.8L407.6 733.7L405.6 737.3L403.5 734.5Z" fill="#82ccca" stroke="#82ccca" stroke-width="0.9"/>
<path d="M376.9 737.1L379.0 739.5L376.9 741.5L374.9 739.2Z" fill="#3c48a1" stroke="#3c48a1" stroke-width="0.9"/>
<path d="M381.0 737.4L383.0 739.7L381.0 741.8L379.0 739.5Z" fill="#3d51a8" stroke="#3d51a8" stroke-width="0.9"/>
<path d="M385.1 737.7L387.1 740.0L385.1 742.0L383.0 739.7Z" fill="#4060b3" stroke="#4060b3" stroke-width="0.9"/>
<path d="M409.6 730.1L411.7 733.2L409.6 736.6L407.6 733.7Z" fill="#81c9b3" stroke="#81c9b3" stroke-width="0.9"/>
<path d="M413.7 729.7L415.8 732.9L413.7 736.2L411.7 733.2Z" fill="#7ec28a" stroke="#7ec28a" stroke-width="0.9"/>
<path d="M417.8 729.7L419.9 733.1L417.8 736.2L415.8 732.9Z" fill="#7fbf6d" stroke="#7fbf6d" stroke-width="0.9"/>
<path d="M358.5 719.7L360.5 726.6L358.5 728.8L356.4 721.8Z" fill="#3bb5e4" stroke="#3bb5e4" stroke-width="0.9"/>
<path d="M362.6 724.5L364.6 731.5L362.6 733.6L360.5 726.6Z" fill="#3c90d3" stroke="#3c90d3" stroke-width="0.9"/>
<path d="M366.7 729.4L368.7 736.4L366.7 738.5L364.6 731.5Z" fill="#3e55ab" stroke="#3e55ab" stroke-width="0.9"/>
<path d="M370.8 734.3L372.8 741.3L370.8 743.4L368.7 736.4Z" fill="#3c439e" stroke="#3c439e" stroke-width="0.9"/>
<path d="M342.1 699.8L344.2 706.7L342.1 708.7L340.1 701.7Z" fill="#81bf67" stroke="#81bf67" stroke-width="0.9"/>
<path d="M346.2 704.8L348.3 711.8L346.2 713.7L344.2 706.7Z" fill="#7fc69b" stroke="#7fc69b" stroke-width="0.9"/>
<path d="M350.3 709.8L352.4 716.8L350.3 718.7L348.3 711.8Z" fill="#84ccc6" stroke="#84ccc6" stroke-width="0.9"/>
<path d="M354.4 714.9L356.4 721.8L354.4 723.7L352.4 716.8Z" fill="#6ac6dd" stroke="#6ac6dd" stroke-width="0.9"/>
<path d="M391.2 738.3L393.3 740.8L391.2 744.7L389.2 742.4Z" fill="#3d8fd2" stroke="#3d8fd2" stroke-width="0.9"/>
<path d="M395.3 736.9L397.4 739.4L395.3 743.2L393.3 740.8Z" fill="#34b3e5" stroke="#34b3e5" stroke-width="0.9"/>
<path d="M399.4 735.6L401.5 738.2L399.4 742.0L397.4 739.4Z" fill="#58bfe0" stroke="#58bfe0" stroke-width="0.9"/>
<path d="M403.5 734.5L405.6 737.3L403.5 740.9L401.5 738.2Z" fill="#72c8da" stroke="#72c8da" stroke-width="0.9"/>
<path d="M374.9 739.2L376.9 741.5L374.9 743.6L372.8 741.3Z" fill="#3c419c" stroke="#3c419c" stroke-width="0.9"/>
<path d="M379.0 739.5L381.0 741.8L379.0 743.8L376.9 741.5Z" fill="#3d4ba3" stroke="#3d4ba3" stroke-width="0.9"/>
<path d="M383.0 739.7L385.1 742.0L383.0 744.1L381.0 741.8Z" fill="#3e54aa" stroke="#3e54aa" stroke-width="0.9"/>
<path d="M387.1 740.0L389.2 742.4L387.1 744.4L385.1 742.0Z" fill="#4064b5" stroke="#4064b5" stroke-width="0.9"/>
<path d="M407.6 733.7L409.6 736.6L407.6 740.0L405.6 737.3Z" fill="#84ccc7" stroke="#84ccc7" stroke-width="0.9"/>
<path d="M411.7 733.2L413.7 736.2L411.7 739.5L409.6 736.6Z" fill="#80c8ab" stroke="#80c8ab" stroke-width="0.9"/>
<path d="M415.8 732.9L417.8 736.2L415.8 739.2L413.7 736.2Z" fill="#7ec182" stroke="#7ec182" stroke-width="0.9"/>
<path d="M419.9 733.1L421.9 736.5L419.9 739.4L417.8 736.2Z" fill="#80bf6a" stroke="#80bf6a" stroke-width="0.9"/>
<path d="M360.5 726.6L362.6 733.6L360.5 735.7L358.5 728.8Z" fill="#3f82c9" stroke="#3f82c9" stroke-width="0.9"/>
<path d="M364.6 731.5L366.7 738.5L364.6 740.6L362.6 733.6Z" fill="#3d4da5" stroke="#3d4da5" stroke-width="0.9"/>
<path d="M368.7 736.4L370.8 743.4L368.7 745.5L366.7 738.5Z" fill="#3b3d99" stroke="#3b3d99" stroke-width="0.9"/>
<path d="M340.1 701.7L342.1 708.7L340.1 710.6L338.0 703.6Z" fill="#81bf66" stroke="#81bf66" stroke-width="0.9"/>
<path d="M344.2 706.7L346.2 713.7L344.2 715.6L342.1 708.7Z" fill="#7fc59b" stroke="#7fc59b" stroke-width="0.9"/>
<path d="M348.3 711.8L350.3 718.7L348.3 720.7L346.2 713.7Z" fill="#84ccc5" stroke="#84ccc5" stroke-width="0.9"/>
<path d="M352.4 716.8L354.4 723.7L352.4 725.7L350.3 718.7Z" fill="#6bc6dd" stroke="#6bc6dd" stroke-width="0.9"/>
<path d="M356.4 721.8L358.5 728.8L356.4 730.7L354.4 723.7Z" fill="#37b4e5" stroke="#37b4e5" stroke-width="0.9"/>
<path d="M393.3 740.8L395.3 743.2L393.3 747.0L391.2 744.7Z" fill="#3c90d3" stroke="#3c90d3" stroke-width="0.9"/>
<path d="M397.4 739.4L399.4 742.0L397.4 745.7L395.3 743.2Z" fill="#35b3e5" stroke="#35b3e5" stroke-width="0.9"/>
<path d="M401.5 738.2L403.5 740.9L401.5 744.5L399.4 742.0Z" fill="#59bfe0" stroke="#59bfe0" stroke-width="0.9"/>
<path d="M372.8 741.3L374.9 743.6L372.8 745.6L370.8 743.4Z" fill="#3b3b97" stroke="#3b3b97" stroke-width="0.9"/>
<path d="M376.9 741.5L379.0 743.8L376.9 745.9L374.9 743.6Z" fill="#3c459f" stroke="#3c459f" stroke-width="0.9"/>
<path d="M381.0 741.8L383.0 744.1L381.0 746.1L379.0 743.8Z" fill="#3d4da5" stroke="#3d4da5" stroke-width="0.9"/>
<path d="M385.1 742.0L387.1 744.4L385.1 746.4L383.0 744.1Z" fill="#3e57ac" stroke="#3e57ac" stroke-width="0.9"/>
<path d="M389.2 742.4L391.2 744.7L389.2 746.7L387.1 744.4Z" fill="#4068b8" stroke="#4068b8" stroke-width="0.9"/>
<path d="M405.6 737.3L407.6 740.0L405.6 743.4L403.5 740.9Z" fill="#76c9d6" stroke="#76c9d6" stroke-width="0.9"/>
<path d="M409.6 736.6L411.7 739.5L409.6 742.7L407.6 740.0Z" fill="#83cbc1" stroke="#83cbc1" stroke-width="0.9"/>
<path d="M413.7 736.2L415.8 739.2L413.7 742.3L411.7 739.5Z" fill="#80c7a0" stroke="#80c7a0" stroke-width="0.9"/>
<path d="M417.8 736.2L419.9 739.4L417.8 742.3L415.8 739.2Z" fill="#7dc07b" stroke="#7dc07b" stroke-width="0.9"/>
<path d="M421.9 736.5L424.0 739.8L421.9 742.6L419.9 739.4Z" fill="#81bf67" stroke="#81bf67" stroke-width="0.9"/>
<path d="M362.6 733.6L364.6 740.6L362.6 742.6L360.5 735.7Z" fill="#3c48a1" stroke="#3c48a1" stroke-width="0.9"/>
<path d="M366.7 738.5L368.7 745.5L366.7 747.5L364.6 740.6Z" fill="#3a3995" stroke="#3a3995" stroke-width="0.9"/>
<path d="M338.0 703.6L340.1 710.6L338.0 712.5L336.0 705.5Z" fill="#81bf66" stroke="#81bf66" stroke-width="0.9"/>
<path d="M342.1 708.7L344.2 715.6L342.1 717.6L340.1 710.6Z" fill="#7fc59a" stroke="#7fc59a" stroke-width="0.9"/>
<path d="M346.2 713.7L348.3 720.7L346.2 722.6L344.2 715.6Z" fill="#84ccc5" stroke="#84ccc5" stroke-width="0.9"/>
<path d="M350.3 718.7L352.4 725.7L350.3 727.6L348.3 720.7Z" fill="#6bc6dd" stroke="#6bc6dd" stroke-width="0.9"/>
<path d="M354.4 723.7L356.4 730.7L354.4 732.6L352.4 725.7Z" fill="#38b4e5" stroke="#38b4e5" stroke-width="0.9"/>
<path d="M358.5 728.8L360.5 735.7L358.5 737.6L356.4 730.7Z" fill="#4075c0" stroke="#4075c0" stroke-width="0.9"/>
<path d="M395.3 743.2L397.4 745.7L395.3 749.4L393.3 747.0Z" fill="#3c92d4" stroke="#3c92d4" stroke-width="0.9"/>
<path d="M399.4 742.0L401.5 744.5L399.4 748.1L397.4 745.7Z" fill="#36b3e5" stroke="#36b3e5" stroke-width="0.9"/>
<path d="M370.8 743.4L372.8 745.6L370.8 747.7L368.7 745.5Z" fill="#3a3894" stroke="#3a3894" stroke-width="0.9"/>
<path d="M374.9 743.6L376.9 745.9L374.9 747.9L372.8 745.6Z" fill="#3b3f9a" stroke="#3b3f9a" stroke-width="0.9"/>
<path d="M379.0 743.8L381.0 746.1L379.0 748.1L376.9 745.9Z" fill="#3c48a2" stroke="#3c48a2" stroke-width="0.9"/>
<path d="M383.0 744.1L385.1 746.4L383.0 748.4L381.0 746.1Z" fill="#3d51a8" stroke="#3d51a8" stroke-width="0.9"/>
<path d="M387.1 744.4L389.2 746.7L387.1 748.7L385.1 746.4Z" fill="#3f5cb0" stroke="#3f5cb0" stroke-width="0.9"/>
<path d="M391.2 744.7L393.3 747.0L391.2 749.0L389.2 746.7Z" fill="#406cba" stroke="#406cba" stroke-width="0.9"/>
<path d="M403.5 740.9L405.6 743.4L403.5 746.9L401.5 744.5Z" fill="#62c2df" stroke="#62c2df" stroke-width="0.9"/>
<path d="M407.6 740.0L409.6 742.7L407.6 746.0L405.6 743.4Z" fill="#7ecbce" stroke="#7ecbce" stroke-width="0.9"/>
<path d="M411.7 739.5L413.7 742.3L411.7 745.4L409.6 742.7Z" fill="#82cab6" stroke="#82cab6" stroke-width="0.9"/>
<path d="M415.8 739.2L417.8 742.3L415.8 745.2L413.7 742.3Z" fill="#7fc494" stroke="#7fc494" stroke-width="0.9"/>
<path d="M419.9 739.4L421.9 742.6L419.9 745.3L417.8 742.3Z" fill="#7ebf75" stroke="#7ebf75" stroke-width="0.9"/>
<path d="M424.0 739.8L426.0 743.2L424.0 745.8L421.9 742.6Z" fill="#81bf64" stroke="#81bf64" stroke-width="0.9"/>
<path d="M364.6 740.6L366.7 747.5L364.6 749.6L362.6 742.6Z" fill="#3a3692" stroke="#3a3692" stroke-width="0.9"/>
<path d="M336.0 705.5L338.0 712.5L336.0 714.4L333.9 707.5Z" fill="#81bf65" stroke="#81bf65" stroke-width="0.9"/>
<path d="M340.1 710.6L342.1 717.6L340.1 719.5L338.0 712.5Z" fill="#7fc599" stroke="#7fc599" stroke-width="0.9"/>
<path d="M344.2 715.6L346.2 722.6L344.2 724.5L342.1 717.6Z" fill="#84ccc5" stroke="#84ccc5" stroke-width="0.9"/>
<path d="M348.3 720.7L350.3 727.6L348.3 729.5L346.2 722.6Z" fill="#6bc6dd" stroke="#6bc6dd" stroke-width="0.9"/>
<path d="M352.4 725.7L354.4 732.6L352.4 734.6L350.3 727.6Z" fill="#38b4e5" stroke="#38b4e5" stroke-width="0.9"/>
<path d="M356.4 730.7L358.5 737.6L356.4 739.6L354.4 732.6Z" fill="#4076c0" stroke="#4076c0" stroke-width="0.9"/>
<path d="M360.5 735.7L362.6 742.6L360.5 744.6L358.5 737.6Z" fill="#3c459f" stroke="#3c459f" stroke-width="0.9"/>
<path d="M397.4 745.7L399.4 748.1L397.4 751.7L395.3 749.4Z" fill="#3b93d5" stroke="#3b93d5" stroke-width="0.9"/>
<path d="M368.7 745.5L370.8 747.7L368.7 749.8L366.7 747.5Z" fill="#3a3591" stroke="#3a3591" stroke-width="0.9"/>
<path d="M372.8 745.6L374.9 747.9L372.8 750.0L370.8 747.7Z" fill="#3b3a96" stroke="#3b3a96" stroke-width="0.9"/>
<path d="M376.9 745.9L379.0 748.1L376.9 750.2L374.9 747.9Z" fill="#3c439e" stroke="#3c439e" stroke-width="0.9"/>
<path d="M381.0 746.1L383.0 748.4L381.0 750.4L379.0 748.1Z" fill="#3d4ca4" stroke="#3d4ca4" stroke-width="0.9"/>
<path d="M385.1 746.4L387.1 748.7L385.1 750.7L383.0 748.4Z" fill="#3e55ab" stroke="#3e55ab" stroke-width="0.9"/>
<path d="M389.2 746.7L391.2 749.0L389.2 751.0L387.1 748.7Z" fill="#4063b5" stroke="#4063b5" stroke-width="0.9"/>
<path d="M393.3 747.0L395.3 749.4L393.3 751.3L391.2 749.0Z" fill="#4070bc" stroke="#4070bc" stroke-width="0.9"/>
<path d="M401.5 744.5L403.5 746.9L401.5 750.3L399.4 748.1Z" fill="#42b7e3" stroke="#42b7e3" stroke-width="0.9"/>
<path d="M405.6 743.4L407.6 746.0L405.6 749.2L403.5 746.9Z" fill="#70c8dc" stroke="#70c8dc" stroke-width="0.9"/>
<path d="M409.6 742.7L411.7 745.4L409.6 748.5L407.6 746.0Z" fill="#84ccc6" stroke="#84ccc6" stroke-width="0.9"/>
<path d="M413.7 742.3L415.8 745.2L413.7 748.2L411.7 745.4Z" fill="#81c9ac" stroke="#81c9ac" stroke-width="0.9"/>
<path d="M417.8 742.3L419.9 745.3L417.8 748.1L415.8 745.2Z" fill="#7ec288" stroke="#7ec288" stroke-width="0.9"/>
<path d="M421.9 742.6L424.0 745.8L421.9 748.4L419.9 745.3Z" fill="#7fbf70" stroke="#7fbf70" stroke-width="0.9"/>
<path d="M426.0 743.2L428.1 746.6L426.0 749.0L424.0 745.8Z" fill="#82c061" stroke="#82c061" stroke-width="0.9"/>
<path d="M333.9 707.5L336.0 714.4L333.9 716.4L331.9 709.4Z" fill="#81bf65" stroke="#81bf65" stroke-width="0.9"/>
<path d="M338.0 712.5L340.1 719.5L338.0 721.4L336.0 714.4Z" fill="#7fc598" stroke="#7fc598" stroke-width="0.9"/>
<path d="M342.1 717.6L344.2 724.5L342.1 726.5L340.1 719.5Z" fill="#84ccc5" stroke="#84ccc5" stroke-width="0.9"/>
<path d="M346.2 722.6L348.3 729.5L346.2 731.5L344.2 724.5Z" fill="#6cc6dd" stroke="#6cc6dd" stroke-width="0.9"/>
<path d="M350.3 727.6L352.4 734.6L350.3 736.5L348.3 729.5Z" fill="#38b4e4" stroke="#38b4e4" stroke-width="0.9"/>
<path d="M354.4 732.6L356.4 739.6L354.4 741.5L352.4 734.6Z" fill="#4076c1" stroke="#4076c1" stroke-width="0.9"/>
<path d="M358.5 737.6L360.5 744.6L358.5 746.5L356.4 739.6Z" fill="#3c459f" stroke="#3c459f" stroke-width="0.9"/>
<path d="M362.6 742.6L364.6 749.6L362.6 751.5L360.5 744.6Z" fill="#393491" stroke="#393491" stroke-width="0.9"/>
<path d="M366.7 747.5L368.7 749.8L366.7 751.8L364.6 749.6Z" fill="#39328f" stroke="#39328f" stroke-width="0.9"/>
<path d="M370.8 747.7L372.8 750.0L370.8 752.0L368.7 749.8Z" fill="#3a3794" stroke="#3a3794" stroke-width="0.9"/>
<path d="M374.9 747.9L376.9 750.2L374.9 752.2L372.8 750.0Z" fill="#3b3e9a" stroke="#3b3e9a" stroke-width="0.9"/>
<path d="M379.0 748.1L381.0 750.4L379.0 752.4L376.9 750.2Z" fill="#3c48a1" stroke="#3c48a1" stroke-width="0.9"/>
<path d="M383.0 748.4L385.1 750.7L383.0 752.7L381.0 750.4Z" fill="#3d50a7" stroke="#3d50a7" stroke-width="0.9"/>
<path d="M387.1 748.7L389.2 751.0L387.1 753.0L385.1 750.7Z" fill="#3f59ae" stroke="#3f59ae" stroke-width="0.9"/>
<path d="M391.2 749.0L393.3 751.3L391.2 753.3L389.2 751.0Z" fill="#406ab8" stroke="#406ab8" stroke-width="0.9"/>
<path d="M395.3 749.4L397.4 751.7L395.3 753.7L393.3 751.3Z" fill="#4077c1" stroke="#4077c1" stroke-width="0.9"/>
<path d="M399.4 748.1L401.5 750.3L399.4 753.7L397.4 751.7Z" fill="#34a2de" stroke="#34a2de" stroke-width="0.9"/>
<path d="M403.5 746.9L405.6 749.2L403.5 752.5L401.5 750.3Z" fill="#5abfe0" stroke="#5abfe0" stroke-width="0.9"/>
<path d="M407.6 746.0L409.6 748.5L407.6 751.6L405.6 749.2Z" fill="#7acad2" stroke="#7acad2" stroke-width="0.9"/>
<path d="M411.7 745.4L413.7 748.2L411.7 751.1L409.6 748.5Z" fill="#83cbbd" stroke="#83cbbd" stroke-width="0.9"/>
<path d="M415.8 745.2L417.8 748.1L415.8 750.9L413.7 748.2Z" fill="#7fc69e" stroke="#7fc69e" stroke-width="0.9"/>
<path d="M419.9 745.3L421.9 748.4L419.9 751.0L417.8 748.1Z" fill="#7dc07d" stroke="#7dc07d" stroke-width="0.9"/>
<path d="M424.0 745.8L426.0 749.0L424.0 751.5L421.9 748.4Z" fill="#80bf6b" stroke="#80bf6b" stroke-width="0.9"/>
<path d="M428.1 746.6L430.1 750.0L428.1 752.2L426.0 749.0Z" fill="#83c05e" stroke="#83c05e" stroke-width="0.9"/>
<path d="M336.0 714.4L338.0 721.4L336.0 723.3L333.9 716.4Z" fill="#7fc597" stroke="#7fc597" stroke-width="0.9"/>
<path d="M340.1 719.5L342.1 726.5L340.1 728.4L338.0 721.4Z" fill="#84ccc4" stroke="#84ccc4" stroke-width="0.9"/>
<path d="M344.2 724.5L346.2 731.5L344.2 733.4L342.1 726.5Z" fill="#6cc6dd" stroke="#6cc6dd" stroke-width="0.9"/>
<path d="M348.3 729.5L350.3 736.5L348.3 738.5L346.2 731.5Z" fill="#39b4e4" stroke="#39b4e4" stroke-width="0.9"/>
<path d="M352.4 734.6L354.4 741.5L352.4 743.5L350.3 736.5Z" fill="#4077c1" stroke="#4077c1" stroke-width="0.9"/>
<path d="M356.4 739.6L358.5 746.5L356.4 748.5L354.4 741.5Z" fill="#3c459f" stroke="#3c459f" stroke-width="0.9"/>
<path d="M360.5 744.6L362.6 751.5L360.5 753.5L358.5 746.5Z" fill="#393491" stroke="#393491" stroke-width="0.9"/>
<path d="M368.7 749.8L370.8 752.0L368.7 754.1L366.7 751.8Z" fill="#3a3591" stroke="#3a3591" stroke-width="0.9"/>
<path d="M372.8 750.0L374.9 752.2L372.8 754.2L370.8 752.0Z" fill="#3b3a96" stroke="#3b3a96" stroke-width="0.9"/>
<path d="M376.9 750.2L379.0 752.4L376.9 754.5L374.9 752.2Z" fill="#3c439e" stroke="#3c439e" stroke-width="0.9"/>
<path d="M381.0 750.4L383.0 752.7L381.0 754.7L379.0 752.4Z" fill="#3d4ca4" stroke="#3d4ca4" stroke-width="0.9"/>
<path d="M385.1 750.7L387.1 753.0L385.1 755.0L383.0 752.7Z" fill="#3e55ab" stroke="#3e55ab" stroke-width="0.9"/>
<path d="M389.2 751.0L391.2 753.3L389.2 755.3L387.1 753.0Z" fill="#4063b5" stroke="#4063b5" stroke-width="0.9"/>
<path d="M393.3 751.3L395.3 753.7L393.3 755.6L391.2 753.3Z" fill="#4070bc" stroke="#4070bc" stroke-width="0.9"/>
<path d="M364.6 749.6L366.7 751.8L364.6 753.8L362.6 751.5Z" fill="#39318d" stroke="#39318d" stroke-width="0.9"/>
<path d="M401.5 750.3L403.5 752.5L401.5 755.8L399.4 753.7Z" fill="#3db6e4" stroke="#3db6e4" stroke-width="0.9"/>
<path d="M405.6 749.2L407.6 751.6L405.6 754.7L403.5 752.5Z" fill="#6dc7dd" stroke="#6dc7dd" stroke-width="0.9"/>
<path d="M409.6 748.5L411.7 751.1L409.6 754.0L407.6 751.6Z" fill="#83ccc9" stroke="#83ccc9" stroke-width="0.9"/>
<path d="M413.7 748.2L415.8 750.9L413.7 753.6L411.7 751.1Z" fill="#81c9b0" stroke="#81c9b0" stroke-width="0.9"/>
<path d="M417.8 748.1L419.9 751.0L417.8 753.6L415.8 750.9Z" fill="#7ec38e" stroke="#7ec38e" stroke-width="0.9"/>
<path d="M421.9 748.4L424.0 751.5L421.9 753.9L419.9 751.0Z" fill="#7ebf74" stroke="#7ebf74" stroke-width="0.9"/>
<path d="M426.0 749.0L428.1 752.2L426.0 754.5L424.0 751.5Z" fill="#81bf65" stroke="#81bf65" stroke-width="0.9"/>
<path d="M397.4 751.7L399.4 753.7L397.4 755.7L395.3 753.7Z" fill="#3c90d3" stroke="#3c90d3" stroke-width="0.9"/>
<path d="M338.0 721.4L340.1 728.4L338.0 730.3L336.0 723.3Z" fill="#84ccc4" stroke="#84ccc4" stroke-width="0.9"/>
<path d="M342.1 726.5L344.2 733.4L342.1 735.4L340.1 728.4Z" fill="#6cc7dd" stroke="#6cc7dd" stroke-width="0.9"/>
<path d="M346.2 731.5L348.3 738.5L346.2 740.4L344.2 733.4Z" fill="#39b4e4" stroke="#39b4e4" stroke-width="0.9"/>
<path d="M350.3 736.5L352.4 743.5L350.3 745.4L348.3 738.5Z" fill="#4078c2" stroke="#4078c2" stroke-width="0.9"/>
<path d="M354.4 741.5L356.4 748.5L354.4 750.4L352.4 743.5Z" fill="#3c459f" stroke="#3c459f" stroke-width="0.9"/>
<path d="M358.5 746.5L360.5 753.5L358.5 755.5L356.4 748.5Z" fill="#393491" stroke="#393491" stroke-width="0.9"/>
<path d="M370.8 752.0L372.8 754.2L370.8 756.3L368.7 754.1Z" fill="#3a3894" stroke="#3a3894" stroke-width="0.9"/>
<path d="M374.9 752.2L376.9 754.5L374.9 756.5L372.8 754.2Z" fill="#3b3f9a" stroke="#3b3f9a" stroke-width="0.9"/>
<path d="M379.0 752.4L381.0 754.7L379.0 756.7L376.9 754.5Z" fill="#3c48a2" stroke="#3c48a2" stroke-width="0.9"/>
<path d="M383.0 752.7L385.1 755.0L383.0 757.0L381.0 754.7Z" fill="#3d51a8" stroke="#3d51a8" stroke-width="0.9"/>
<path d="M387.1 753.0L389.2 755.3L387.1 757.3L385.1 755.0Z" fill="#3f5cb0" stroke="#3f5cb0" stroke-width="0.9"/>
<path d="M391.2 753.3L393.3 755.6L391.2 757.6L389.2 755.3Z" fill="#406cba" stroke="#406cba" stroke-width="0.9"/>
<path d="M362.6 751.5L364.6 753.8L362.6 755.8L360.5 753.5Z" fill="#39318e" stroke="#39318e" stroke-width="0.9"/>
<path d="M366.7 751.8L368.7 754.1L366.7 756.0L364.6 753.8Z" fill="#393490" stroke="#393490" stroke-width="0.9"/>
<path d="M403.5 752.5L405.6 754.7L403.5 757.8L401.5 755.8Z" fill="#58bfe1" stroke="#58bfe1" stroke-width="0.9"/>
<path d="M407.6 751.6L409.6 754.0L407.6 756.9L405.6 754.7Z" fill="#78cad4" stroke="#78cad4" stroke-width="0.9"/>
<path d="M411.7 751.1L413.7 753.6L411.7 756.4L409.6 754.0Z" fill="#83cbbf" stroke="#83cbbf" stroke-width="0.9"/>
<path d="M415.8 750.9L417.8 753.6L415.8 756.2L413.7 753.6Z" fill="#80c7a1" stroke="#80c7a1" stroke-width="0.9"/>
<path d="M419.9 751.0L421.9 753.9L419.9 756.3L417.8 753.6Z" fill="#7dc07f" stroke="#7dc07f" stroke-width="0.9"/>
<path d="M424.0 751.5L426.0 754.5L424.0 756.8L421.9 753.9Z" fill="#80bf6c" stroke="#80bf6c" stroke-width="0.9"/>
<path d="M395.3 753.7L397.4 755.7L395.3 757.7L393.3 755.6Z" fill="#3d8dd1" stroke="#3d8dd1" stroke-width="0.9"/>
<path d="M399.4 753.7L401.5 755.8L399.4 757.7L397.4 755.7Z" fill="#2daee5" stroke="#2daee5" stroke-width="0.9"/>
<path d="M340.1 728.4L342.1 735.4L340.1 737.3L338.0 730.3Z" fill="#6dc7dd" stroke="#6dc7dd" stroke-width="0.9"/>
<path d="M344.2 733.4L346.2 740.4L344.2 742.3L342.1 735.4Z" fill="#39b4e4" stroke="#39b4e4" stroke-width="0.9"/>
<path d="M348.3 738.5L350.3 745.4L348.3 747.4L346.2 740.4Z" fill="#4078c2" stroke="#4078c2" stroke-width="0.9"/>
<path d="M352.4 743.5L354.4 750.4L352.4 752.4L350.3 745.4Z" fill="#3c459f" stroke="#3c459f" stroke-width="0.9"/>
<path d="M356.4 748.5L358.5 755.5L356.4 757.4L354.4 750.4Z" fill="#393491" stroke="#393491" stroke-width="0.9"/>
<path d="M372.8 754.2L374.9 756.5L372.8 758.5L370.8 756.3Z" fill="#3b3b97" stroke="#3b3b97" stroke-width="0.9"/>
<path d="M376.9 754.5L379.0 756.7L376.9 758.7L374.9 756.5Z" fill="#3c459f" stroke="#3c459f" stroke-width="0.9"/>
<path d="M381.0 754.7L383.0 757.0L381.0 759.0L379.0 756.7Z" fill="#3d4da5" stroke="#3d4da5" stroke-width="0.9"/>
<path d="M385.1 755.0L387.1 757.3L385.1 759.2L383.0 757.0Z" fill="#3e57ac" stroke="#3e57ac" stroke-width="0.9"/>
<path d="M389.2 755.3L391.2 757.6L389.2 759.5L387.1 757.3Z" fill="#4068b8" stroke="#4068b8" stroke-width="0.9"/>
<path d="M360.5 753.5L362.6 755.8L360.5 757.7L358.5 755.5Z" fill="#39318e" stroke="#39318e" stroke-width="0.9"/>
<path d="M364.6 753.8L366.7 756.0L364.6 758.0L362.6 755.8Z" fill="#393491" stroke="#393491" stroke-width="0.9"/>
<path d="M368.7 754.1L370.8 756.3L368.7 758.3L366.7 756.0Z" fill="#3a3793" stroke="#3a3793" stroke-width="0.9"/>
<path d="M405.6 754.7L407.6 756.9L405.6 759.9L403.5 757.8Z" fill="#6dc7dd" stroke="#6dc7dd" stroke-width="0.9"/>
<path d="M409.6 754.0L411.7 756.4L409.6 759.1L407.6 756.9Z" fill="#84ccc8" stroke="#84ccc8" stroke-width="0.9"/>
<path d="M413.7 753.6L415.8 756.2L413.7 758.8L411.7 756.4Z" fill="#81c9b0" stroke="#81c9b0" stroke-width="0.9"/>
<path d="M417.8 753.6L419.9 756.3L417.8 758.7L415.8 756.2Z" fill="#7ec38d" stroke="#7ec38d" stroke-width="0.9"/>
<path d="M421.9 753.9L424.0 756.8L421.9 759.0L419.9 756.3Z" fill="#7ebf74" stroke="#7ebf74" stroke-width="0.9"/>
<path d="M393.3 755.6L395.3 757.7L393.3 759.6L391.2 757.6Z" fill="#3e8acf" stroke="#3e8acf" stroke-width="0.9"/>
<path d="M397.4 755.7L399.4 757.7L397.4 759.7L395.3 757.7Z" fill="#30a9e2" stroke="#30a9e2" stroke-width="0.9"/>
<path d="M401.5 755.8L403.5 757.8L401.5 759.8L399.4 757.7Z" fill="#48b9e3" stroke="#48b9e3" stroke-width="0.9"/>
<path d="M342.1 735.4L344.2 742.3L342.1 744.3L340.1 737.3Z" fill="#3ab5e4" stroke="#3ab5e4" stroke-width="0.9"/>
<path d="M346.2 740.4L348.3 747.4L346.2 749.3L344.2 742.3Z" fill="#4079c2" stroke="#4079c2" stroke-width="0.9"/>
<path d="M350.3 745.4L352.4 752.4L350.3 754.3L348.3 747.4Z" fill="#3c459f" stroke="#3c459f" stroke-width="0.9"/>
<path d="M354.4 750.4L356.4 757.4L354.4 759.4L352.4 752.4Z" fill="#393491" stroke="#393491" stroke-width="0.9"/>
<path d="M374.9 756.5L376.9 758.7L374.9 760.7L372.8 758.5Z" fill="#3c419c" stroke="#3c419c" stroke-width="0.9"/>
<path d="M379.0 756.7L381.0 759.0L379.0 761.0L376.9 758.7Z" fill="#3d4ba3" stroke="#3d4ba3" stroke-width="0.9"/>
<path d="M383.0 757.0L385.1 759.2L383.0 761.2L381.0 759.0Z" fill="#3e54aa" stroke="#3e54aa" stroke-width="0.9"/>
<path d="M387.1 757.3L389.2 759.5L387.1 761.5L385.1 759.2Z" fill="#4064b5" stroke="#4064b5" stroke-width="0.9"/>
<path d="M358.5 755.5L360.5 757.7L358.5 759.7L356.4 757.4Z" fill="#39318e" stroke="#39318e" stroke-width="0.9"/>
<path d="M362.6 755.8L364.6 758.0L362.6 760.0L360.5 757.7Z" fill="#393491" stroke="#393491" stroke-width="0.9"/>
<path d="M366.7 756.0L368.7 758.3L366.7 760.3L364.6 758.0Z" fill="#3a3794" stroke="#3a3794" stroke-width="0.9"/>
<path d="M370.8 756.3L372.8 758.5L370.8 760.5L368.7 758.3Z" fill="#3b3a96" stroke="#3b3a96" stroke-width="0.9"/>
<path d="M407.6 756.9L409.6 759.1L407.6 761.9L405.6 759.9Z" fill="#7acad2" stroke="#7acad2" stroke-width="0.9"/>
<path d="M411.7 756.4L413.7 758.8L411.7 761.3L409.6 759.1Z" fill="#82cabc" stroke="#82cabc" stroke-width="0.9"/>
<path d="M415.8 756.2L417.8 758.7L415.8 761.1L413.7 758.8Z" fill="#7fc69d" stroke="#7fc69d" stroke-width="0.9"/>
<path d="M419.9 756.3L421.9 759.0L419.9 761.2L417.8 758.7Z" fill="#7dc07b" stroke="#7dc07b" stroke-width="0.9"/>
<path d="M391.2 757.6L393.3 759.6L391.2 761.6L389.2 759.5Z" fill="#3f87cd" stroke="#3f87cd" stroke-width="0.9"/>
<path d="M395.3 757.7L397.4 759.7L395.3 761.7L393.3 759.6Z" fill="#33a3df" stroke="#33a3df" stroke-width="0.9"/>
<path d="M399.4 757.7L401.5 759.8L399.4 761.8L397.4 759.7Z" fill="#42b7e3" stroke="#42b7e3" stroke-width="0.9"/>
<path d="M403.5 757.8L405.6 759.9L403.5 761.8L401.5 759.8Z" fill="#62c2df" stroke="#62c2df" stroke-width="0.9"/>
<path d="M344.2 742.3L346.2 749.3L344.2 751.3L342.1 744.3Z" fill="#407ac3" stroke="#407ac3" stroke-width="0.9"/>
<path d="M348.3 747.4L350.3 754.3L348.3 756.3L346.2 749.3Z" fill="#3c459f" stroke="#3c459f" stroke-width="0.9"/>
<path d="M352.4 752.4L354.4 759.4L352.4 761.3L350.3 754.3Z" fill="#393491" stroke="#393491" stroke-width="0.9"/>
<path d="M376.9 758.7L379.0 761.0L376.9 762.9L374.9 760.7Z" fill="#3c48a1" stroke="#3c48a1" stroke-width="0.9"/>
<path d="M381.0 759.0L383.0 761.2L381.0 763.2L379.0 761.0Z" fill="#3d51a8" stroke="#3d51a8" stroke-width="0.9"/>
<path d="M385.1 759.2L387.1 761.5L385.1 763.5L383.0 761.2Z" fill="#4060b3" stroke="#4060b3" stroke-width="0.9"/>
<path d="M356.4 757.4L358.5 759.7L356.4 761.6L354.4 759.4Z" fill="#39318e" stroke="#39318e" stroke-width="0.9"/>
<path d="M360.5 757.7L362.6 760.0L360.5 762.0L358.5 759.7Z" fill="#393491" stroke="#393491" stroke-width="0.9"/>
<path d="M364.6 758.0L366.7 760.3L364.6 762.3L362.6 760.0Z" fill="#3a3894" stroke="#3a3894" stroke-width="0.9"/>
<path d="M368.7 758.3L370.8 760.5L368.7 762.5L366.7 760.3Z" fill="#3b3b97" stroke="#3b3b97" stroke-width="0.9"/>
<path d="M372.8 758.5L374.9 760.7L372.8 762.7L370.8 760.5Z" fill="#3b409b" stroke="#3b409b" stroke-width="0.9"/>
<path d="M409.6 759.1L411.7 761.3L409.6 763.9L407.6 761.9Z" fill="#84ccc5" stroke="#84ccc5" stroke-width="0.9"/>
<path d="M413.7 758.8L415.8 761.1L413.7 763.5L411.7 761.3Z" fill="#80c8ab" stroke="#80c8ab" stroke-width="0.9"/>
<path d="M417.8 758.7L419.9 761.2L417.8 763.5L415.8 761.1Z" fill="#7ec185" stroke="#7ec185" stroke-width="0.9"/>
<path d="M389.2 759.5L391.2 761.6L389.2 763.6L387.1 761.5Z" fill="#3f81c8" stroke="#3f81c8" stroke-width="0.9"/>
<path d="M393.3 759.6L395.3 761.7L393.3 763.6L391.2 761.6Z" fill="#369edc" stroke="#369edc" stroke-width="0.9"/>
<path d="M397.4 759.7L399.4 761.8L397.4 763.7L395.3 761.7Z" fill="#3bb5e4" stroke="#3bb5e4" stroke-width="0.9"/>
<path d="M401.5 759.8L403.5 761.8L401.5 763.8L399.4 761.8Z" fill="#5cc0e0" stroke="#5cc0e0" stroke-width="0.9"/>
<path d="M405.6 759.9L407.6 761.9L405.6 763.9L403.5 761.8Z" fill="#73c9d9" stroke="#73c9d9" stroke-width="0.9"/>
<path d="M346.2 749.3L348.3 756.3L346.2 758.2L344.2 751.3Z" fill="#3c459f" stroke="#3c459f" stroke-width="0.9"/>
<path d="M350.3 754.3L352.4 761.3L350.3 763.3L348.3 756.3Z" fill="#393491" stroke="#393491" stroke-width="0.9"/>
<path d="M379.0 761.0L381.0 763.2L379.0 765.2L376.9 762.9Z" fill="#3d4ea6" stroke="#3d4ea6" stroke-width="0.9"/>
<path d="M383.0 761.2L385.1 763.5L383.0 765.4L381.0 763.2Z" fill="#3f5baf" stroke="#3f5baf" stroke-width="0.9"/>
<path d="M354.4 759.4L356.4 761.6L354.4 763.6L352.4 761.3Z" fill="#39318e" stroke="#39318e" stroke-width="0.9"/>
<path d="M358.5 759.7L360.5 762.0L358.5 763.9L356.4 761.6Z" fill="#3a3591" stroke="#3a3591" stroke-width="0.9"/>
<path d="M362.6 760.0L364.6 762.3L362.6 764.2L360.5 762.0Z" fill="#3a3894" stroke="#3a3894" stroke-width="0.9"/>
<path d="M366.7 760.3L368.7 762.5L366.7 764.5L364.6 762.3Z" fill="#3b3c98" stroke="#3b3c98" stroke-width="0.9"/>
<path d="M370.8 760.5L372.8 762.7L370.8 764.8L368.7 762.5Z" fill="#3c429d" stroke="#3c429d" stroke-width="0.9"/>
<path d="M374.9 760.7L376.9 762.9L374.9 765.0L372.8 762.7Z" fill="#3c47a1" stroke="#3c47a1" stroke-width="0.9"/>
<path d="M411.7 761.3L413.7 763.5L411.7 766.0L409.6 763.9Z" fill="#82cab4" stroke="#82cab4" stroke-width="0.9"/>
<path d="M415.8 761.1L417.8 763.5L415.8 765.8L413.7 763.5Z" fill="#7fc490" stroke="#7fc490" stroke-width="0.9"/>
<path d="M387.1 761.5L389.2 763.6L387.1 765.5L385.1 763.5Z" fill="#407ac3" stroke="#407ac3" stroke-width="0.9"/>
<path d="M391.2 761.6L393.3 763.6L391.2 765.6L389.2 763.6Z" fill="#3999d9" stroke="#3999d9" stroke-width="0.9"/>
<path d="M395.3 761.7L397.4 763.7L395.3 765.7L393.3 763.6Z" fill="#35b3e5" stroke="#35b3e5" stroke-width="0.9"/>
<path d="M399.4 761.8L401.5 763.8L399.4 765.8L397.4 763.7Z" fill="#54bde1" stroke="#54bde1" stroke-width="0.9"/>
<path d="M403.5 761.8L405.6 763.9L403.5 765.8L401.5 763.8Z" fill="#6fc8dc" stroke="#6fc8dc" stroke-width="0.9"/>
<path d="M407.6 761.9L409.6 763.9L407.6 765.9L405.6 763.9Z" fill="#81cbcb" stroke="#81cbcb" stroke-width="0.9"/>
<path d="M348.3 756.3L350.3 763.3L348.3 765.2L346.2 758.2Z" fill="#393491" stroke="#393491" stroke-width="0.9"/>
<path d="M381.0 763.2L383.0 765.4L381.0 767.4L379.0 765.2Z" fill="#3e57ad" stroke="#3e57ad" stroke-width="0.9"/>
<path d="M352.4 761.3L354.4 763.6L352.4 765.6L350.3 763.3Z" fill="#39318e" stroke="#39318e" stroke-width="0.9"/>
<path d="M356.4 761.6L358.5 763.9L356.4 765.9L354.4 763.6Z" fill="#3a3591" stroke="#3a3591" stroke-width="0.9"/>
<path d="M360.5 762.0L362.6 764.2L360.5 766.2L358.5 763.9Z" fill="#3a3895" stroke="#3a3895" stroke-width="0.9"/>
<path d="M364.6 762.3L366.7 764.5L364.6 766.5L362.6 764.2Z" fill="#3b3d99" stroke="#3b3d99" stroke-width="0.9"/>
<path d="M368.7 762.5L370.8 764.8L368.7 766.8L366.7 764.5Z" fill="#3c449e" stroke="#3c449e" stroke-width="0.9"/>
<path d="M372.8 762.7L374.9 765.0L372.8 767.0L370.8 764.8Z" fill="#3c49a2" stroke="#3c49a2" stroke-width="0.9"/>
<path d="M376.9 762.9L379.0 765.2L376.9 767.2L374.9 765.0Z" fill="#3d4fa6" stroke="#3d4fa6" stroke-width="0.9"/>
<path d="M413.7 763.5L415.8 765.8L413.7 768.0L411.7 766.0Z" fill="#7fc69c" stroke="#7fc69c" stroke-width="0.9"/>
<path d="M385.1 763.5L387.1 765.5L385.1 767.5L383.0 765.4Z" fill="#4073be" stroke="#4073be" stroke-width="0.9"/>
<path d="M389.2 763.6L391.2 765.6L389.2 767.6L387.1 765.5Z" fill="#3b95d6" stroke="#3b95d6" stroke-width="0.9"/>
<path d="M393.3 763.6L395.3 765.7L393.3 767.7L391.2 765.6Z" fill="#2fb1e6" stroke="#2fb1e6" stroke-width="0.9"/>
<path d="M397.4 763.7L399.4 765.8L397.4 767.8L395.3 765.7Z" fill="#4dbbe2" stroke="#4dbbe2" stroke-width="0.9"/>
<path d="M401.5 763.8L403.5 765.8L401.5 767.8L399.4 765.8Z" fill="#69c5dd" stroke="#69c5dd" stroke-width="0.9"/>
<path d="M405.6 763.9L407.6 765.9L405.6 767.9L403.5 765.8Z" fill="#7ccad0" stroke="#7ccad0" stroke-width="0.9"/>
<path d="M409.6 763.9L411.7 766.0L409.6 767.9L407.6 765.9Z" fill="#83cbbe" stroke="#83cbbe" stroke-width="0.9"/>
<path d="M350.3 763.3L352.4 765.6L350.3 767.5L348.3 765.2Z" fill="#39318e" stroke="#39318e" stroke-width="0.9"/>
<path d="M354.4 763.6L356.4 765.9L354.4 767.9L352.4 765.6Z" fill="#3a3592" stroke="#3a3592" stroke-width="0.9"/>
<path d="M358.5 763.9L360.5 766.2L358.5 768.2L356.4 765.9Z" fill="#3a3995" stroke="#3a3995" stroke-width="0.9"/>
<path d="M362.6 764.2L364.6 766.5L362.6 768.5L360.5 766.2Z" fill="#3b3e9a" stroke="#3b3e9a" stroke-width="0.9"/>
<path d="M366.7 764.5L368.7 766.8L366.7 768.8L364.6 766.5Z" fill="#3c459f" stroke="#3c459f" stroke-width="0.9"/>
<path d="M370.8 764.8L372.8 767.0L370.8 769.1L368.7 766.8Z" fill="#3d4ba4" stroke="#3d4ba4" stroke-width="0.9"/>
<path d="M374.9 765.0L376.9 767.2L374.9 769.3L372.8 767.0Z" fill="#3e52a9" stroke="#3e52a9" stroke-width="0.9"/>
<path d="M379.0 765.2L381.0 767.4L379.0 769.5L376.9 767.2Z" fill="#3f59ae" stroke="#3f59ae" stroke-width="0.9"/>
<path d="M383.0 765.4L385.1 767.5L383.0 769.5L381.0 767.4Z" fill="#406ebb" stroke="#406ebb" stroke-width="0.9"/>
<path d="M387.1 765.5L389.2 767.6L387.1 769.6L385.1 767.5Z" fill="#3c91d4" stroke="#3c91d4" stroke-width="0.9"/>
<path d="M391.2 765.6L393.3 767.7L391.2 769.6L389.2 767.6Z" fill="#2fabe3" stroke="#2fabe3" stroke-width="0.9"/>
<path d="M395.3 765.7L397.4 767.8L395.3 769.7L393.3 767.7Z" fill="#45b8e3" stroke="#45b8e3" stroke-width="0.9"/>
<path d="M399.4 765.8L401.5 767.8L399.4 769.8L397.4 767.8Z" fill="#62c2df" stroke="#62c2df" stroke-width="0.9"/>
<path d="M403.5 765.8L405.6 767.9L403.5 769.9L401.5 767.8Z" fill="#76c9d6" stroke="#76c9d6" stroke-width="0.9"/>
<path d="M407.6 765.9L409.6 767.9L407.6 769.9L405.6 767.9Z" fill="#84ccc4" stroke="#84ccc4" stroke-width="0.9"/>
<path d="M411.7 766.0L413.7 768.0L411.7 770.0L409.6 767.9Z" fill="#80c8a9" stroke="#80c8a9" stroke-width="0.9"/>
<path d="M352.4 765.6L354.4 767.9L352.4 769.9L350.3 767.5Z" fill="#3a3592" stroke="#3a3592" stroke-width="0.9"/>
<path d="M356.4 765.9L358.5 768.2L356.4 770.2L354.4 767.9Z" fill="#3a3995" stroke="#3a3995" stroke-width="0.9"/>
<path d="M360.5 766.2L362.6 768.5L360.5 770.5L358.5 768.2Z" fill="#3b409b" stroke="#3b409b" stroke-width="0.9"/>
<path d="M364.6 766.5L366.7 768.8L364.6 770.8L362.6 768.5Z" fill="#3c47a0" stroke="#3c47a0" stroke-width="0.9"/>
<path d="M368.7 766.8L370.8 769.1L368.7 771.1L366.7 768.8Z" fill="#3d4da5" stroke="#3d4da5" stroke-width="0.9"/>
<path d="M372.8 767.0L374.9 769.3L372.8 771.3L370.8 769.1Z" fill="#3e55ab" stroke="#3e55ab" stroke-width="0.9"/>
<path d="M376.9 767.2L379.0 769.5L376.9 771.5L374.9 769.3Z" fill="#4063b5" stroke="#4063b5" stroke-width="0.9"/>
<path d="M385.1 767.5L387.1 769.6L385.1 771.5L383.0 769.5Z" fill="#3d8dd1" stroke="#3d8dd1" stroke-width="0.9"/>
<path d="M389.2 767.6L391.2 769.6L389.2 771.6L387.1 769.6Z" fill="#33a4df" stroke="#33a4df" stroke-width="0.9"/>
<path d="M393.3 767.7L395.3 769.7L393.3 771.7L391.2 769.6Z" fill="#3db6e4" stroke="#3db6e4" stroke-width="0.9"/>
<path d="M397.4 767.8L399.4 769.8L397.4 771.8L395.3 769.7Z" fill="#5abfe0" stroke="#5abfe0" stroke-width="0.9"/>
<path d="M401.5 767.8L403.5 769.9L401.5 771.8L399.4 769.8Z" fill="#71c8db" stroke="#71c8db" stroke-width="0.9"/>
<path d="M405.6 767.9L407.6 769.9L405.6 771.9L403.5 769.9Z" fill="#82ccca" stroke="#82ccca" stroke-width="0.9"/>
<path d="M409.6 767.9L411.7 770.0L409.6 772.0L407.6 769.9Z" fill="#81c9b3" stroke="#81c9b3" stroke-width="0.9"/>
<path d="M381.0 767.4L383.0 769.5L381.0 771.5L379.0 769.5Z" fill="#4071bd" stroke="#4071bd" stroke-width="0.9"/>
<path d="M354.4 767.9L356.4 770.2L354.4 772.2L352.4 769.9Z" fill="#3b3a96" stroke="#3b3a96" stroke-width="0.9"/>
<path d="M358.5 768.2L360.5 770.5L358.5 772.5L356.4 770.2Z" fill="#3c419c" stroke="#3c419c" stroke-width="0.9"/>
<path d="M362.6 768.5L364.6 770.8L362.6 772.8L360.5 770.5Z" fill="#3c48a2" stroke="#3c48a2" stroke-width="0.9"/>
<path d="M366.7 768.8L368.7 771.1L366.7 773.1L364.6 770.8Z" fill="#3d50a7" stroke="#3d50a7" stroke-width="0.9"/>
<path d="M370.8 769.1L372.8 771.3L370.8 773.4L368.7 771.1Z" fill="#3f59ad" stroke="#3f59ad" stroke-width="0.9"/>
<path d="M374.9 769.3L376.9 771.5L374.9 773.6L372.8 771.3Z" fill="#406bb9" stroke="#406bb9" stroke-width="0.9"/>
<path d="M387.1 769.6L389.2 771.6L387.1 773.6L385.1 771.5Z" fill="#379ddb" stroke="#379ddb" stroke-width="0.9"/>
<path d="M391.2 769.6L393.3 771.7L391.2 773.7L389.2 771.6Z" fill="#36b3e5" stroke="#36b3e5" stroke-width="0.9"/>
<path d="M395.3 769.7L397.4 771.8L395.3 773.8L393.3 771.7Z" fill="#51bce1" stroke="#51bce1" stroke-width="0.9"/>
<path d="M399.4 769.8L401.5 771.8L399.4 773.8L397.4 771.8Z" fill="#6bc6dd" stroke="#6bc6dd" stroke-width="0.9"/>
<path d="M403.5 769.9L405.6 771.9L403.5 773.9L401.5 771.8Z" fill="#7ccad0" stroke="#7ccad0" stroke-width="0.9"/>
<path d="M407.6 769.9L409.6 772.0L407.6 774.0L405.6 771.9Z" fill="#83cbbe" stroke="#83cbbe" stroke-width="0.9"/>
<path d="M379.0 769.5L381.0 771.5L379.0 773.5L376.9 771.5Z" fill="#3f81c8" stroke="#3f81c8" stroke-width="0.9"/>
<path d="M383.0 769.5L385.1 771.5L383.0 773.5L381.0 771.5Z" fill="#3d8ed2" stroke="#3d8ed2" stroke-width="0.9"/>
<path d="M356.4 770.2L358.5 772.5L356.4 774.5L354.4 772.2Z" fill="#3c429d" stroke="#3c429d" stroke-width="0.9"/>
<path d="M360.5 770.5L362.6 772.8L360.5 774.9L358.5 772.5Z" fill="#3d4aa3" stroke="#3d4aa3" stroke-width="0.9"/>
<path d="M364.6 770.8L366.7 773.1L364.6 775.2L362.6 772.8Z" fill="#3e52a9" stroke="#3e52a9" stroke-width="0.9"/>
<path d="M368.7 771.1L370.8 773.4L368.7 775.4L366.7 773.1Z" fill="#4062b4" stroke="#4062b4" stroke-width="0.9"/>
<path d="M372.8 771.3L374.9 773.6L372.8 775.6L370.8 773.4Z" fill="#4077c1" stroke="#4077c1" stroke-width="0.9"/>
<path d="M389.2 771.6L391.2 773.7L389.2 775.6L387.1 773.6Z" fill="#2db0e6" stroke="#2db0e6" stroke-width="0.9"/>
<path d="M393.3 771.7L395.3 773.8L393.3 775.7L391.2 773.7Z" fill="#48b9e3" stroke="#48b9e3" stroke-width="0.9"/>
<path d="M397.4 771.8L399.4 773.8L397.4 775.8L395.3 773.8Z" fill="#63c3df" stroke="#63c3df" stroke-width="0.9"/>
<path d="M401.5 771.8L403.5 773.9L401.5 775.9L399.4 773.8Z" fill="#76c9d6" stroke="#76c9d6" stroke-width="0.9"/>
<path d="M405.6 771.9L407.6 774.0L405.6 776.0L403.5 773.9Z" fill="#84ccc5" stroke="#84ccc5" stroke-width="0.9"/>
<path d="M376.9 771.5L379.0 773.5L376.9 775.6L374.9 773.6Z" fill="#3e8bcf" stroke="#3e8bcf" stroke-width="0.9"/>
<path d="M381.0 771.5L383.0 773.5L381.0 775.5L379.0 773.5Z" fill="#3b94d5" stroke="#3b94d5" stroke-width="0.9"/>
<path d="M385.1 771.5L387.1 773.6L385.1 775.6L383.0 773.5Z" fill="#379ddb" stroke="#379ddb" stroke-width="0.9"/>
<path d="M358.5 772.5L360.5 774.9L358.5 776.9L356.4 774.5Z" fill="#3d4ca4" stroke="#3d4ca4" stroke-width="0.9"/>
<path d="M362.6 772.8L364.6 775.2L362.6 777.2L360.5 774.9Z" fill="#3e55ab" stroke="#3e55ab" stroke-width="0.9"/>
<path d="M366.7 773.1L368.7 775.4L366.7 777.5L364.6 775.2Z" fill="#4069b8" stroke="#4069b8" stroke-width="0.9"/>
<path d="M370.8 773.4L372.8 775.6L370.8 777.7L368.7 775.4Z" fill="#3f86cc" stroke="#3f86cc" stroke-width="0.9"/>
<path d="M391.2 773.7L393.3 775.7L391.2 777.7L389.2 775.6Z" fill="#3fb6e4" stroke="#3fb6e4" stroke-width="0.9"/>
<path d="M395.3 773.8L397.4 775.8L395.3 777.8L393.3 775.7Z" fill="#5abfe0" stroke="#5abfe0" stroke-width="0.9"/>
<path d="M399.4 773.8L401.5 775.9L399.4 777.9L397.4 775.8Z" fill="#70c8dc" stroke="#70c8dc" stroke-width="0.9"/>
<path d="M403.5 773.9L405.6 776.0L403.5 777.9L401.5 775.9Z" fill="#81cbcb" stroke="#81cbcb" stroke-width="0.9"/>
<path d="M374.9 773.6L376.9 775.6L374.9 777.6L372.8 775.6Z" fill="#3c92d4" stroke="#3c92d4" stroke-width="0.9"/>
<path d="M379.0 773.5L381.0 775.5L379.0 777.6L376.9 775.6Z" fill="#399ad9" stroke="#399ad9" stroke-width="0.9"/>
<path d="M383.0 773.5L385.1 775.6L383.0 777.6L381.0 775.5Z" fill="#32a5e0" stroke="#32a5e0" stroke-width="0.9"/>
<path d="M387.1 773.6L389.2 775.6L387.1 777.6L385.1 775.6Z" fill="#2cb0e6" stroke="#2cb0e6" stroke-width="0.9"/>
<path d="M360.5 774.9L362.6 777.2L360.5 779.2L358.5 776.9Z" fill="#3e58ad" stroke="#3e58ad" stroke-width="0.9"/>
<path d="M364.6 775.2L366.7 777.5L364.6 779.5L362.6 777.2Z" fill="#4070bc" stroke="#4070bc" stroke-width="0.9"/>
<path d="M368.7 775.4L370.8 777.7L368.7 779.8L366.7 777.5Z" fill="#3d8dd1" stroke="#3d8dd1" stroke-width="0.9"/>
<path d="M393.3 775.7L395.3 777.8L393.3 779.8L391.2 777.7Z" fill="#4fbce2" stroke="#4fbce2" stroke-width="0.9"/>
<path d="M397.4 775.8L399.4 777.9L397.4 779.9L395.3 777.8Z" fill="#68c5de" stroke="#68c5de" stroke-width="0.9"/>
<path d="M401.5 775.9L403.5 777.9L401.5 779.9L399.4 777.9Z" fill="#7acad2" stroke="#7acad2" stroke-width="0.9"/>
<path d="M372.8 775.6L374.9 777.6L372.8 779.6L370.8 777.7Z" fill="#3a97d7" stroke="#3a97d7" stroke-width="0.9"/>
<path d="M376.9 775.6L379.0 777.6L376.9 779.6L374.9 777.6Z" fill="#34a2de" stroke="#34a2de" stroke-width="0.9"/>
<path d="M381.0 775.5L383.0 777.6L381.0 779.5L379.0 777.6Z" fill="#2eade4" stroke="#2eade4" stroke-width="0.9"/>
<path d="M385.1 775.6L387.1 777.6L385.1 779.6L383.0 777.6Z" fill="#34b3e5" stroke="#34b3e5" stroke-width="0.9"/>
<path d="M389.2 775.6L391.2 777.7L389.2 779.6L387.1 777.6Z" fill="#3db6e4" stroke="#3db6e4" stroke-width="0.9"/>
<path d="M362.6 777.2L364.6 779.5L362.6 781.6L360.5 779.2Z" fill="#3f7dc6" stroke="#3f7dc6" stroke-width="0.9"/>
<path d="M366.7 777.5L368.7 779.8L366.7 781.8L364.6 779.5Z" fill="#3b93d4" stroke="#3b93d4" stroke-width="0.9"/>
<path d="M395.3 777.8L397.4 779.9L395.3 781.8L393.3 779.8Z" fill="#5fc1df" stroke="#5fc1df" stroke-width="0.9"/>
<path d="M399.4 777.9L401.5 779.9L399.4 781.9L397.4 779.9Z" fill="#73c9d9" stroke="#73c9d9" stroke-width="0.9"/>
<path d="M370.8 777.7L372.8 779.6L370.8 781.7L368.7 779.8Z" fill="#369fdc" stroke="#369fdc" stroke-width="0.9"/>
<path d="M374.9 777.6L376.9 779.6L374.9 781.6L372.8 779.6Z" fill="#30a9e2" stroke="#30a9e2" stroke-width="0.9"/>
<path d="M379.0 777.6L381.0 779.5L379.0 781.5L376.9 779.6Z" fill="#31b2e5" stroke="#31b2e5" stroke-width="0.9"/>
<path d="M383.0 777.6L385.1 779.6L383.0 781.5L381.0 779.5Z" fill="#3bb5e4" stroke="#3bb5e4" stroke-width="0.9"/>
<path d="M387.1 777.6L389.2 779.6L387.1 781.6L385.1 779.6Z" fill="#44b8e3" stroke="#44b8e3" stroke-width="0.9"/>
<path d="M391.2 777.7L393.3 779.8L391.2 781.7L389.2 779.6Z" fill="#4dbbe2" stroke="#4dbbe2" stroke-width="0.9"/>
<path d="M364.6 779.5L366.7 781.8L364.6 783.9L362.6 781.6Z" fill="#3a98d8" stroke="#3a98d8" stroke-width="0.9"/>
<path d="M397.4 779.9L399.4 781.9L397.4 783.9L395.3 781.8Z" fill="#6cc6dd" stroke="#6cc6dd" stroke-width="0.9"/>
<path d="M368.7 779.8L370.8 781.7L368.7 783.7L366.7 781.8Z" fill="#32a6e0" stroke="#32a6e0" stroke-width="0.9"/>
<path d="M372.8 779.6L374.9 781.6L372.8 783.6L370.8 781.7Z" fill="#2eb1e6" stroke="#2eb1e6" stroke-width="0.9"/>
<path d="M376.9 779.6L379.0 781.5L376.9 783.5L374.9 781.6Z" fill="#38b4e5" stroke="#38b4e5" stroke-width="0.9"/>
<path d="M381.0 779.5L383.0 781.5L381.0 783.5L379.0 781.5Z" fill="#41b7e3" stroke="#41b7e3" stroke-width="0.9"/>
<path d="M385.1 779.6L387.1 781.6L385.1 783.5L383.0 781.5Z" fill="#4abae2" stroke="#4abae2" stroke-width="0.9"/>
<path d="M389.2 779.6L391.2 781.7L389.2 783.6L387.1 781.6Z" fill="#54bde1" stroke="#54bde1" stroke-width="0.9"/>
<path d="M393.3 779.8L395.3 781.8L393.3 783.7L391.2 781.7Z" fill="#5dc0e0" stroke="#5dc0e0" stroke-width="0.9"/>
<path d="M366.7 781.8L368.7 783.7L366.7 785.8L364.6 783.9Z" fill="#2daee5" stroke="#2daee5" stroke-width="0.9"/>
<path d="M370.8 781.7L372.8 783.6L370.8 785.6L368.7 783.7Z" fill="#35b3e5" stroke="#35b3e5" stroke-width="0.9"/>
<path d="M374.9 781.6L376.9 783.5L374.9 785.5L372.8 783.6Z" fill="#3eb6e4" stroke="#3eb6e4" stroke-width="0.9"/>
<path d="M379.0 781.5L381.0 783.5L379.0 785.4L376.9 783.5Z" fill="#48b9e3" stroke="#48b9e3" stroke-width="0.9"/>
<path d="M383.0 781.5L385.1 783.5L383.0 785.4L381.0 783.5Z" fill="#51bce1" stroke="#51bce1" stroke-width="0.9"/>
<path d="M387.1 781.6L389.2 783.6L387.1 785.5L385.1 783.5Z" fill="#5abfe0" stroke="#5abfe0" stroke-width="0.9"/>
<path d="M391.2 781.7L393.3 783.7L391.2 785.6L389.2 783.6Z" fill="#62c2df" stroke="#62c2df" stroke-width="0.9"/>
<path d="M395.3 781.8L397.4 783.9L395.3 785.8L393.3 783.7Z" fill="#69c5dd" stroke="#69c5dd" stroke-width="0.9"/>
<path d="M368.7 783.7L370.8 785.6L368.7 787.6L366.7 785.8Z" fill="#3cb5e4" stroke="#3cb5e4" stroke-width="0.9"/>
<path d="M372.8 783.6L374.9 785.5L372.8 787.5L370.8 785.6Z" fill="#45b8e3" stroke="#45b8e3" stroke-width="0.9"/>
<path d="M376.9 783.5L379.0 785.4L376.9 787.4L374.9 785.5Z" fill="#4ebbe2" stroke="#4ebbe2" stroke-width="0.9"/>
<path d="M381.0 783.5L383.0 785.4L381.0 787.4L379.0 785.4Z" fill="#58bfe1" stroke="#58bfe1" stroke-width="0.9"/>
<path d="M385.1 783.5L387.1 785.5L385.1 787.4L383.0 785.4Z" fill="#60c1df" stroke="#60c1df" stroke-width="0.9"/>
<path d="M389.2 783.6L391.2 785.6L389.2 787.5L387.1 785.5Z" fill="#67c4de" stroke="#67c4de" stroke-width="0.9"/>
<path d="M393.3 783.7L395.3 785.8L393.3 787.6L391.2 785.6Z" fill="#6dc7dd" stroke="#6dc7dd" stroke-width="0.9"/>
<path d="M370.8 785.6L372.8 787.5L370.8 789.5L368.7 787.6Z" fill="#4cbbe2" stroke="#4cbbe2" stroke-width="0.9"/>
<path d="M374.9 785.5L376.9 787.4L374.9 789.3L372.8 787.5Z" fill="#55bee1" stroke="#55bee1" stroke-width="0.9"/>
<path d="M379.0 785.4L381.0 787.4L379.0 789.3L376.9 787.4Z" fill="#5ec1e0" stroke="#5ec1e0" stroke-width="0.9"/>
<path d="M383.0 785.4L385.1 787.4L383.0 789.3L381.0 787.4Z" fill="#65c3de" stroke="#65c3de" stroke-width="0.9"/>
<path d="M387.1 785.5L389.2 787.5L387.1 789.3L385.1 787.4Z" fill="#6cc6dd" stroke="#6cc6dd" stroke-width="0.9"/>
<path d="M391.2 785.6L393.3 787.6L391.2 789.5L389.2 787.5Z" fill="#71c8db" stroke="#71c8db" stroke-width="0.9"/>
<path d="M372.8 787.5L374.9 789.3L372.8 791.3L370.8 789.5Z" fill="#5bc0e0" stroke="#5bc0e0" stroke-width="0.9"/>
<path d="M376.9 787.4L379.0 789.3L376.9 791.2L374.9 789.3Z" fill="#63c3df" stroke="#63c3df" stroke-width="0.9"/>
<path d="M381.0 787.4L383.0 789.3L381.0 791.2L379.0 789.3Z" fill="#6ac5dd" stroke="#6ac5dd" stroke-width="0.9"/>
<path d="M385.1 787.4L387.1 789.3L385.1 791.2L383.0 789.3Z" fill="#70c8dc" stroke="#70c8dc" stroke-width="0.9"/>
<path d="M389.2 787.5L391.2 789.5L389.2 791.3L387.1 789.3Z" fill="#74c9d8" stroke="#74c9d8" stroke-width="0.9"/>
<path d="M374.9 789.3L376.9 791.2L374.9 793.1L372.8 791.3Z" fill="#68c5de" stroke="#68c5de" stroke-width="0.9"/>
<path d="M379.0 789.3L381.0 791.2L379.0 793.1L376.9 791.2Z" fill="#6ec7dc" stroke="#6ec7dc" stroke-width="0.9"/>
<path d="M383.0 789.3L385.1 791.2L383.0 793.1L381.0 791.2Z" fill="#73c9d9" stroke="#73c9d9" stroke-width="0.9"/>
<path d="M387.1 789.3L389.2 791.3L387.1 793.1L385.1 791.2Z" fill="#77c9d5" stroke="#77c9d5" stroke-width="0.9"/>
<path d="M376.9 791.2L379.0 793.1L376.9 795.0L374.9 793.1Z" fill="#72c8da" stroke="#72c8da" stroke-width="0.9"/>
<path d="M381.0 791.2L383.0 793.1L381.0 795.0L379.0 793.1Z" fill="#76c9d6" stroke="#76c9d6" stroke-width="0.9"/>
<path d="M385.1 791.2L387.1 793.1L385.1 795.0L383.0 793.1Z" fill="#7acad2" stroke="#7acad2" stroke-width="0.9"/>
<path d="M379.0 793.1L381.0 795.0L379.0 796.9L376.9 795.0Z" fill="#79cad3" stroke="#79cad3" stroke-width="0.9"/>
<path d="M383.0 793.1L385.1 795.0L383.0 796.9L381.0 795.0Z" fill="#7ecbce" stroke="#7ecbce" stroke-width="0.9"/>
<path d="M381.0 795.0L383.0 796.9L381.0 798.7L379.0 796.9Z" fill="#81cbcb" stroke="#81cbcb" stroke-width="0.9"/>
<path d="M381.0 643.8L364.6 676.4L348.3 694.0L331.9 709.4M397.4 697.5L381.0 733.0L364.6 749.6L348.3 765.2M413.7 722.9L397.4 751.7L381.0 767.4L364.6 783.9M430.1 750.0L413.7 768.0L397.4 783.9L381.0 798.7M381.0 643.8L397.4 697.5L413.7 722.9L430.1 750.0M364.6 676.4L381.0 733.0L397.4 751.7L413.7 768.0M348.3 694.0L364.6 749.6L381.0 767.4L397.4 783.9M331.9 709.4L348.3 765.2L364.6 783.9L381.0 798.7" stroke="#ffffff" stroke-opacity="0.3" stroke-width="0.8" fill="none"/>
<circle cx="381.0" cy="643.8" r="1.3" fill="#1a1a1a"/>
<circle cx="364.6" cy="676.4" r="1.3" fill="#1a1a1a"/>
<circle cx="348.3" cy="694.0" r="1.3" fill="#1a1a1a"/>
<circle cx="331.9" cy="709.4" r="1.3" fill="#1a1a1a"/>
<circle cx="397.4" cy="697.5" r="1.3" fill="#1a1a1a"/>
<circle cx="348.3" cy="765.2" r="1.3" fill="#1a1a1a"/>
<circle cx="413.7" cy="722.9" r="1.3" fill="#1a1a1a"/>
<circle cx="397.4" cy="751.7" r="1.3" fill="#1a1a1a"/>
<circle cx="381.0" cy="767.4" r="1.3" fill="#1a1a1a"/>
<circle cx="364.6" cy="783.9" r="1.3" fill="#1a1a1a"/>
<circle cx="430.1" cy="750.0" r="1.3" fill="#1a1a1a"/>
<circle cx="413.7" cy="768.0" r="1.3" fill="#1a1a1a"/>
<circle cx="397.4" cy="783.9" r="1.3" fill="#1a1a1a"/>
<circle cx="381.0" cy="798.7" r="1.3" fill="#1a1a1a"/>
<path d="M331.9 690.0V756.4" stroke="#a8a8a8" stroke-width="1" fill="none"/>
<path d="M331.9 756.4L381.0 801.4L430.1 756.4" stroke="#a8a8a8" stroke-width="1.1" fill="none"/>
<text x="326.2" y="693.4" font-size="12.8" text-anchor="end" fill="#1a1a1a">100</text>
<text x="326.2" y="726.1" font-size="12.8" text-anchor="end" fill="#1a1a1a">50</text>
<text x="326.2" y="759.3" font-size="12.8" text-anchor="end" fill="#1a1a1a">0</text>
<text x="324.9" y="770.1" font-size="12.8" text-anchor="middle" fill="#1a1a1a">0</text>
<text x="337" y="785.7" font-size="12.8" text-anchor="middle" fill="#1a1a1a">0.8</text>
<text x="354.3" y="798.8" font-size="12.8" text-anchor="middle" fill="#1a1a1a">1</text>
<text x="370.6" y="815.4" font-size="12.8" text-anchor="middle" fill="#1a1a1a">1.4</text>
<text x="435" y="770.1" font-size="12.8" text-anchor="middle" fill="#1a1a1a">0</text>
<text x="423" y="785.7" font-size="12.8" text-anchor="middle" fill="#1a1a1a">0.6</text>
<text x="408.9" y="798.8" font-size="12.8" text-anchor="middle" fill="#1a1a1a">1.8</text>
<text x="392.5" y="815.4" font-size="12.8" text-anchor="middle" fill="#1a1a1a">5.4</text>
<text x="260" y="832.6" font-size="12.4" fill="#1a1a1a" textLength="106.2" lengthAdjust="spacingAndGlyphs">RUG 2 FK866 [nM]</text>
<text x="397" y="832.6" font-size="12.4" fill="#1a1a1a" textLength="108" lengthAdjust="spacingAndGlyphs">DRUG 1 IACS [uM]</text>
<text transform="translate(296.9,708.8) rotate(-90)" font-size="17.4" class="c" text-anchor="middle" fill="#1a1a1a" textLength="50.8" lengthAdjust="spacingAndGlyphs">% Control</text>
<rect x="451.3" y="643.8" width="12.7" height="157" fill="url(#cbg)"/>
<text transform="translate(477.6,699.8) rotate(-90)" font-size="12.4" fill="#1a1a1a" textLength="43.8" lengthAdjust="spacingAndGlyphs">Synergy</text>
<text transform="translate(477.6,787.4) rotate(-90)" font-size="12.4" fill="#1a1a1a" textLength="64" lengthAdjust="spacingAndGlyphs">Antagonism</text>
<path d="M381.0 932.9L381.0 869.8M364.6 947.9L364.6 884.8M348.3 962.9L348.3 899.8M331.9 977.9L331.9 914.8M381.0 932.9L381.0 869.8M397.4 947.9L397.4 884.8M413.7 962.9L413.7 899.8M430.1 977.9L430.1 914.8M381.0 932.9L331.9 977.9M381.0 932.9L430.1 977.9M381.0 901.3L331.9 946.3M381.0 901.3L430.1 946.3M381.0 869.8L331.9 914.8M381.0 869.8L430.1 914.8M381.0 932.9L331.9 977.9M381.0 932.9L430.1 977.9M397.4 947.9L348.3 992.9M364.6 947.9L413.7 992.9M413.7 962.9L364.6 1007.9M348.3 962.9L397.4 1007.9M430.1 977.9L381.0 1022.9M331.9 977.9L381.0 1022.9" stroke="#e3e3e3" stroke-width="0.8" fill="none"/>
<path d="M381.0 872.8L383.0 879.3L381.0 883.7L379.0 877.2Z" fill="#85c053" stroke="#85c053" stroke-width="0.9"/>
<path d="M379.0 877.2L381.0 883.7L379.0 888.1L376.9 881.7Z" fill="#84c057" stroke="#84c057" stroke-width="0.9"/>
<path d="M383.0 879.3L385.1 885.8L383.0 890.1L381.0 883.7Z" fill="#85c055" stroke="#85c055" stroke-width="0.9"/>
<path d="M376.9 881.7L379.0 888.1L376.9 892.5L374.9 886.1Z" fill="#83c05c" stroke="#83c05c" stroke-width="0.9"/>
<path d="M381.0 883.7L383.0 890.1L381.0 894.4L379.0 888.1Z" fill="#83c05d" stroke="#83c05d" stroke-width="0.9"/>
<path d="M385.1 885.8L387.1 892.3L385.1 896.6L383.0 890.1Z" fill="#84c058" stroke="#84c058" stroke-width="0.9"/>
<path d="M374.9 886.1L376.9 892.5L374.9 896.8L372.8 890.6Z" fill="#82c060" stroke="#82c060" stroke-width="0.9"/>
<path d="M379.0 888.1L381.0 894.4L379.0 898.8L376.9 892.5Z" fill="#81bf64" stroke="#81bf64" stroke-width="0.9"/>
<path d="M383.0 890.1L385.1 896.6L383.0 900.8L381.0 894.4Z" fill="#82c062" stroke="#82c062" stroke-width="0.9"/>
<path d="M387.1 892.3L389.2 898.8L387.1 903.0L385.1 896.6Z" fill="#84c05b" stroke="#84c05b" stroke-width="0.9"/>
<path d="M372.8 890.6L374.9 896.8L372.8 901.2L370.8 895.0Z" fill="#81bf65" stroke="#81bf65" stroke-width="0.9"/>
<path d="M376.9 892.5L379.0 898.8L376.9 903.1L374.9 896.8Z" fill="#80bf6c" stroke="#80bf6c" stroke-width="0.9"/>
<path d="M381.0 894.4L383.0 900.8L381.0 905.1L379.0 898.8Z" fill="#80bf6d" stroke="#80bf6d" stroke-width="0.9"/>
<path d="M385.1 896.6L387.1 903.0L385.1 907.2L383.0 900.8Z" fill="#81bf68" stroke="#81bf68" stroke-width="0.9"/>
<path d="M389.2 898.8L391.2 905.4L389.2 909.5L387.1 903.0Z" fill="#83c05d" stroke="#83c05d" stroke-width="0.9"/>
<path d="M370.8 895.0L372.8 901.2L370.8 905.6L368.7 899.5Z" fill="#80bf69" stroke="#80bf69" stroke-width="0.9"/>
<path d="M374.9 896.8L376.9 903.1L374.9 907.4L372.8 901.2Z" fill="#7ebf73" stroke="#7ebf73" stroke-width="0.9"/>
<path d="M379.0 898.8L381.0 905.1L379.0 909.3L376.9 903.1Z" fill="#7dbf77" stroke="#7dbf77" stroke-width="0.9"/>
<path d="M383.0 900.8L385.1 907.2L383.0 911.4L381.0 905.1Z" fill="#7ebf75" stroke="#7ebf75" stroke-width="0.9"/>
<path d="M387.1 903.0L389.2 909.5L387.1 913.6L385.1 907.2Z" fill="#7fbf6e" stroke="#7fbf6e" stroke-width="0.9"/>
<path d="M391.2 905.4L393.3 911.9L391.2 915.9L389.2 909.5Z" fill="#82c060" stroke="#82c060" stroke-width="0.9"/>
<path d="M368.7 899.5L370.8 905.6L368.7 910.0L366.7 904.0Z" fill="#7fbf6e" stroke="#7fbf6e" stroke-width="0.9"/>
<path d="M372.8 901.2L374.9 907.4L372.8 911.7L370.8 905.6Z" fill="#7dc07b" stroke="#7dc07b" stroke-width="0.9"/>
<path d="M376.9 903.1L379.0 909.3L376.9 913.5L374.9 907.4Z" fill="#7ec184" stroke="#7ec184" stroke-width="0.9"/>
<path d="M381.0 905.1L383.0 911.4L381.0 915.5L379.0 909.3Z" fill="#7ec286" stroke="#7ec286" stroke-width="0.9"/>
<path d="M385.1 907.2L387.1 913.6L385.1 917.7L383.0 911.4Z" fill="#7dc07f" stroke="#7dc07f" stroke-width="0.9"/>
<path d="M389.2 909.5L391.2 915.9L389.2 919.9L387.1 913.6Z" fill="#7ebf73" stroke="#7ebf73" stroke-width="0.9"/>
<path d="M393.3 911.9L395.3 918.4L393.3 922.3L391.2 915.9Z" fill="#82c063" stroke="#82c063" stroke-width="0.9"/>
<path d="M366.7 904.0L368.7 910.0L366.7 914.4L364.6 908.4Z" fill="#7ebf72" stroke="#7ebf72" stroke-width="0.9"/>
<path d="M370.8 905.6L372.8 911.7L370.8 916.0L368.7 910.0Z" fill="#7ec184" stroke="#7ec184" stroke-width="0.9"/>
<path d="M374.9 907.4L376.9 913.5L374.9 917.8L372.8 911.7Z" fill="#7fc494" stroke="#7fc494" stroke-width="0.9"/>
<path d="M379.0 909.3L381.0 915.5L379.0 919.7L376.9 913.5Z" fill="#7fc59b" stroke="#7fc59b" stroke-width="0.9"/>
<path d="M383.0 911.4L385.1 917.7L383.0 921.8L381.0 915.5Z" fill="#7fc598" stroke="#7fc598" stroke-width="0.9"/>
<path d="M387.1 913.6L389.2 919.9L387.1 924.0L385.1 917.7Z" fill="#7ec38c" stroke="#7ec38c" stroke-width="0.9"/>
<path d="M391.2 915.9L393.3 922.3L391.2 926.3L389.2 919.9Z" fill="#7dbf79" stroke="#7dbf79" stroke-width="0.9"/>
<path d="M395.3 918.4L397.4 924.9L395.3 928.8L393.3 922.3Z" fill="#81bf65" stroke="#81bf65" stroke-width="0.9"/>
<path d="M368.7 910.0L370.8 916.0L368.7 920.3L366.7 914.4Z" fill="#7fc490" stroke="#7fc490" stroke-width="0.9"/>
<path d="M372.8 911.7L374.9 917.8L372.8 922.0L370.8 916.0Z" fill="#80c7a5" stroke="#80c7a5" stroke-width="0.9"/>
<path d="M376.9 913.5L379.0 919.7L376.9 923.9L374.9 917.8Z" fill="#81c9ad" stroke="#81c9ad" stroke-width="0.9"/>
<path d="M381.0 915.5L383.0 921.8L381.0 925.9L379.0 919.7Z" fill="#81c9ae" stroke="#81c9ae" stroke-width="0.9"/>
<path d="M385.1 917.7L387.1 924.0L385.1 928.0L383.0 921.8Z" fill="#80c8a9" stroke="#80c8a9" stroke-width="0.9"/>
<path d="M389.2 919.9L391.2 926.3L389.2 930.3L387.1 924.0Z" fill="#7fc599" stroke="#7fc599" stroke-width="0.9"/>
<path d="M393.3 922.3L395.3 928.8L393.3 932.7L391.2 926.3Z" fill="#7dc080" stroke="#7dc080" stroke-width="0.9"/>
<path d="M364.6 908.4L366.7 914.4L364.6 915.3L362.6 909.1Z" fill="#7ebf72" stroke="#7ebf72" stroke-width="0.9"/>
<path d="M397.4 924.9L399.4 928.1L397.4 931.9L395.3 928.8Z" fill="#81bf67" stroke="#81bf67" stroke-width="0.9"/>
<path d="M370.8 916.0L372.8 922.0L370.8 926.2L368.7 920.3Z" fill="#81c9b0" stroke="#81c9b0" stroke-width="0.9"/>
<path d="M374.9 917.8L376.9 923.9L374.9 928.0L372.8 922.0Z" fill="#82caba" stroke="#82caba" stroke-width="0.9"/>
<path d="M379.0 919.7L381.0 925.9L379.0 930.0L376.9 923.9Z" fill="#83cbbe" stroke="#83cbbe" stroke-width="0.9"/>
<path d="M383.0 921.8L385.1 928.0L383.0 932.0L381.0 925.9Z" fill="#83cbbd" stroke="#83cbbd" stroke-width="0.9"/>
<path d="M387.1 924.0L389.2 930.3L387.1 934.2L385.1 928.0Z" fill="#82cab5" stroke="#82cab5" stroke-width="0.9"/>
<path d="M391.2 926.3L393.3 932.7L391.2 936.6L389.2 930.3Z" fill="#80c8a7" stroke="#80c8a7" stroke-width="0.9"/>
<path d="M362.6 909.1L364.6 915.3L362.6 916.2L360.5 909.9Z" fill="#80bf6d" stroke="#80bf6d" stroke-width="0.9"/>
<path d="M366.7 914.4L368.7 920.3L366.7 921.4L364.6 915.3Z" fill="#7fc493" stroke="#7fc493" stroke-width="0.9"/>
<path d="M395.3 928.8L397.4 931.9L395.3 935.6L393.3 932.7Z" fill="#7ec182" stroke="#7ec182" stroke-width="0.9"/>
<path d="M399.4 928.1L401.5 931.3L399.4 935.0L397.4 931.9Z" fill="#81bf66" stroke="#81bf66" stroke-width="0.9"/>
<path d="M372.8 922.0L374.9 928.0L372.8 932.2L370.8 926.2Z" fill="#84ccc5" stroke="#84ccc5" stroke-width="0.9"/>
<path d="M376.9 923.9L379.0 930.0L376.9 934.1L374.9 928.0Z" fill="#83ccc9" stroke="#83ccc9" stroke-width="0.9"/>
<path d="M381.0 925.9L383.0 932.0L381.0 936.0L379.0 930.0Z" fill="#82ccca" stroke="#82ccca" stroke-width="0.9"/>
<path d="M385.1 928.0L387.1 934.2L385.1 938.2L383.0 932.0Z" fill="#84ccc7" stroke="#84ccc7" stroke-width="0.9"/>
<path d="M389.2 930.3L391.2 936.6L389.2 940.5L387.1 934.2Z" fill="#83cbc0" stroke="#83cbc0" stroke-width="0.9"/>
<path d="M360.5 909.9L362.6 916.2L360.5 917.1L358.5 910.6Z" fill="#81bf68" stroke="#81bf68" stroke-width="0.9"/>
<path d="M364.6 915.3L366.7 921.4L364.6 922.5L362.6 916.2Z" fill="#7ec38e" stroke="#7ec38e" stroke-width="0.9"/>
<path d="M368.7 920.3L370.8 926.2L368.7 927.5L366.7 921.4Z" fill="#82cab5" stroke="#82cab5" stroke-width="0.9"/>
<path d="M393.3 932.7L395.3 935.6L393.3 939.4L391.2 936.6Z" fill="#80c8a9" stroke="#80c8a9" stroke-width="0.9"/>
<path d="M397.4 931.9L399.4 935.0L397.4 938.6L395.3 935.6Z" fill="#7dc07f" stroke="#7dc07f" stroke-width="0.9"/>
<path d="M401.5 931.3L403.5 934.6L401.5 938.1L399.4 935.0Z" fill="#81bf66" stroke="#81bf66" stroke-width="0.9"/>
<path d="M374.9 928.0L376.9 934.1L374.9 938.1L372.8 932.2Z" fill="#78cad4" stroke="#78cad4" stroke-width="0.9"/>
<path d="M379.0 930.0L381.0 936.0L379.0 940.1L376.9 934.1Z" fill="#76c9d6" stroke="#76c9d6" stroke-width="0.9"/>
<path d="M383.0 932.0L385.1 938.2L383.0 942.1L381.0 936.0Z" fill="#77c9d5" stroke="#77c9d5" stroke-width="0.9"/>
<path d="M387.1 934.2L389.2 940.5L387.1 944.3L385.1 938.2Z" fill="#7ccad0" stroke="#7ccad0" stroke-width="0.9"/>
<path d="M358.5 910.6L360.5 917.1L358.5 918.0L356.4 911.3Z" fill="#82c062" stroke="#82c062" stroke-width="0.9"/>
<path d="M362.6 916.2L364.6 922.5L362.6 923.5L360.5 917.1Z" fill="#7ec289" stroke="#7ec289" stroke-width="0.9"/>
<path d="M366.7 921.4L368.7 927.5L366.7 928.8L364.6 922.5Z" fill="#81c9b3" stroke="#81c9b3" stroke-width="0.9"/>
<path d="M370.8 926.2L372.8 932.2L370.8 933.6L368.7 927.5Z" fill="#83ccc9" stroke="#83ccc9" stroke-width="0.9"/>
<path d="M391.2 936.6L393.3 939.4L391.2 943.1L389.2 940.5Z" fill="#83cbc2" stroke="#83cbc2" stroke-width="0.9"/>
<path d="M395.3 935.6L397.4 938.6L395.3 942.2L393.3 939.4Z" fill="#80c7a4" stroke="#80c7a4" stroke-width="0.9"/>
<path d="M399.4 935.0L401.5 938.1L399.4 941.6L397.4 938.6Z" fill="#7dc07c" stroke="#7dc07c" stroke-width="0.9"/>
<path d="M403.5 934.6L405.6 937.8L403.5 941.2L401.5 938.1Z" fill="#81bf66" stroke="#81bf66" stroke-width="0.9"/>
<path d="M376.9 934.1L379.0 940.1L376.9 944.1L374.9 938.1Z" fill="#67c4de" stroke="#67c4de" stroke-width="0.9"/>
<path d="M381.0 936.0L383.0 942.1L381.0 946.1L379.0 940.1Z" fill="#65c4de" stroke="#65c4de" stroke-width="0.9"/>
<path d="M385.1 938.2L387.1 944.3L385.1 948.2L383.0 942.1Z" fill="#6ac6dd" stroke="#6ac6dd" stroke-width="0.9"/>
<path d="M356.4 911.3L358.5 918.0L356.4 918.9L354.4 912.1Z" fill="#83c05d" stroke="#83c05d" stroke-width="0.9"/>
<path d="M360.5 917.1L362.6 923.5L360.5 924.6L358.5 918.0Z" fill="#7ec184" stroke="#7ec184" stroke-width="0.9"/>
<path d="M364.6 922.5L366.7 928.8L364.6 930.0L362.6 923.5Z" fill="#81c9b2" stroke="#81c9b2" stroke-width="0.9"/>
<path d="M368.7 927.5L370.8 933.6L368.7 935.0L366.7 928.8Z" fill="#83ccc9" stroke="#83ccc9" stroke-width="0.9"/>
<path d="M372.8 932.2L374.9 938.1L372.8 939.7L370.8 933.6Z" fill="#72c8da" stroke="#72c8da" stroke-width="0.9"/>
<path d="M389.2 940.5L391.2 943.1L389.2 946.9L387.1 944.3Z" fill="#7acad2" stroke="#7acad2" stroke-width="0.9"/>
<path d="M393.3 939.4L395.3 942.2L393.3 945.8L391.2 943.1Z" fill="#83cbbd" stroke="#83cbbd" stroke-width="0.9"/>
<path d="M397.4 938.6L399.4 941.6L397.4 945.0L395.3 942.2Z" fill="#7fc69d" stroke="#7fc69d" stroke-width="0.9"/>
<path d="M401.5 938.1L403.5 941.2L401.5 944.5L399.4 941.6Z" fill="#7dbf7a" stroke="#7dbf7a" stroke-width="0.9"/>
<path d="M405.6 937.8L407.6 941.0L405.6 944.2L403.5 941.2Z" fill="#81bf65" stroke="#81bf65" stroke-width="0.9"/>
<path d="M379.0 940.1L381.0 946.1L379.0 950.0L376.9 944.1Z" fill="#4abae2" stroke="#4abae2" stroke-width="0.9"/>
<path d="M383.0 942.1L385.1 948.2L383.0 952.1L381.0 946.1Z" fill="#4dbbe2" stroke="#4dbbe2" stroke-width="0.9"/>
<path d="M354.4 912.1L356.4 918.9L354.4 919.8L352.4 912.8Z" fill="#84c058" stroke="#84c058" stroke-width="0.9"/>
<path d="M358.5 918.0L360.5 924.6L358.5 925.7L356.4 918.9Z" fill="#7dc07f" stroke="#7dc07f" stroke-width="0.9"/>
<path d="M362.6 923.5L364.6 930.0L362.6 931.3L360.5 924.6Z" fill="#81c9b0" stroke="#81c9b0" stroke-width="0.9"/>
<path d="M366.7 928.8L368.7 935.0L366.7 936.5L364.6 930.0Z" fill="#83ccc9" stroke="#83ccc9" stroke-width="0.9"/>
<path d="M370.8 933.6L372.8 939.7L370.8 941.3L368.7 935.0Z" fill="#71c8db" stroke="#71c8db" stroke-width="0.9"/>
<path d="M374.9 938.1L376.9 944.1L374.9 945.9L372.8 939.7Z" fill="#5abfe0" stroke="#5abfe0" stroke-width="0.9"/>
<path d="M387.1 944.3L389.2 946.9L387.1 950.7L385.1 948.2Z" fill="#66c4de" stroke="#66c4de" stroke-width="0.9"/>
<path d="M391.2 943.1L393.3 945.8L391.2 949.5L389.2 946.9Z" fill="#7fcbcd" stroke="#7fcbcd" stroke-width="0.9"/>
<path d="M395.3 942.2L397.4 945.0L395.3 948.5L393.3 945.8Z" fill="#82cab7" stroke="#82cab7" stroke-width="0.9"/>
<path d="M399.4 941.6L401.5 944.5L399.4 947.9L397.4 945.0Z" fill="#7fc597" stroke="#7fc597" stroke-width="0.9"/>
<path d="M403.5 941.2L405.6 944.2L403.5 947.5L401.5 944.5Z" fill="#7dbf77" stroke="#7dbf77" stroke-width="0.9"/>
<path d="M407.6 941.0L409.6 944.3L407.6 947.3L405.6 944.2Z" fill="#81bf65" stroke="#81bf65" stroke-width="0.9"/>
<path d="M381.0 946.1L383.0 952.1L381.0 956.0L379.0 950.0Z" fill="#2eace4" stroke="#2eace4" stroke-width="0.9"/>
<path d="M352.4 912.8L354.4 919.8L352.4 920.7L350.3 913.6Z" fill="#85c053" stroke="#85c053" stroke-width="0.9"/>
<path d="M356.4 918.9L358.5 925.7L356.4 926.8L354.4 919.8Z" fill="#7dc07b" stroke="#7dc07b" stroke-width="0.9"/>
<path d="M360.5 924.6L362.6 931.3L360.5 932.5L358.5 925.7Z" fill="#81c9af" stroke="#81c9af" stroke-width="0.9"/>
<path d="M364.6 930.0L366.7 936.5L364.6 937.9L362.6 931.3Z" fill="#83ccc9" stroke="#83ccc9" stroke-width="0.9"/>
<path d="M368.7 935.0L370.8 941.3L368.7 942.9L366.7 936.5Z" fill="#70c8dc" stroke="#70c8dc" stroke-width="0.9"/>
<path d="M372.8 939.7L374.9 945.9L372.8 947.6L370.8 941.3Z" fill="#55bee1" stroke="#55bee1" stroke-width="0.9"/>
<path d="M376.9 944.1L379.0 950.0L376.9 952.0L374.9 945.9Z" fill="#37b4e5" stroke="#37b4e5" stroke-width="0.9"/>
<path d="M385.1 948.2L387.1 950.7L385.1 954.4L383.0 952.1Z" fill="#47b9e3" stroke="#47b9e3" stroke-width="0.9"/>
<path d="M389.2 946.9L391.2 949.5L389.2 953.1L387.1 950.7Z" fill="#6fc8dc" stroke="#6fc8dc" stroke-width="0.9"/>
<path d="M393.3 945.8L395.3 948.5L393.3 952.0L391.2 949.5Z" fill="#84ccc8" stroke="#84ccc8" stroke-width="0.9"/>
<path d="M397.4 945.0L399.4 947.9L397.4 951.2L395.3 948.5Z" fill="#81c9b1" stroke="#81c9b1" stroke-width="0.9"/>
<path d="M401.5 944.5L403.5 947.5L401.5 950.7L399.4 947.9Z" fill="#7fc490" stroke="#7fc490" stroke-width="0.9"/>
<path d="M405.6 944.2L407.6 947.3L405.6 950.4L403.5 947.5Z" fill="#7ebf75" stroke="#7ebf75" stroke-width="0.9"/>
<path d="M409.6 944.3L411.7 947.5L409.6 950.4L407.6 947.3Z" fill="#81bf65" stroke="#81bf65" stroke-width="0.9"/>
<path d="M350.3 913.6L352.4 920.7L350.3 921.6L348.3 914.3Z" fill="#8ac14d" stroke="#8ac14d" stroke-width="0.9"/>
<path d="M354.4 919.8L356.4 926.8L354.4 927.9L352.4 920.7Z" fill="#7dbf77" stroke="#7dbf77" stroke-width="0.9"/>
<path d="M358.5 925.7L360.5 932.5L358.5 933.8L356.4 926.8Z" fill="#81c9ad" stroke="#81c9ad" stroke-width="0.9"/>
<path d="M362.6 931.3L364.6 937.9L362.6 939.3L360.5 932.5Z" fill="#82ccca" stroke="#82ccca" stroke-width="0.9"/>
<path d="M366.7 936.5L368.7 942.9L366.7 944.5L364.6 937.9Z" fill="#6ec7dc" stroke="#6ec7dc" stroke-width="0.9"/>
<path d="M370.8 941.3L372.8 947.6L370.8 949.4L368.7 942.9Z" fill="#4fbce2" stroke="#4fbce2" stroke-width="0.9"/>
<path d="M374.9 945.9L376.9 952.0L374.9 953.9L372.8 947.6Z" fill="#2fb1e6" stroke="#2fb1e6" stroke-width="0.9"/>
<path d="M379.0 950.0L381.0 956.0L379.0 958.1L376.9 952.0Z" fill="#3b94d5" stroke="#3b94d5" stroke-width="0.9"/>
<path d="M383.0 952.1L385.1 954.4L383.0 958.2L381.0 956.0Z" fill="#33a4df" stroke="#33a4df" stroke-width="0.9"/>
<path d="M387.1 950.7L389.2 953.1L387.1 956.7L385.1 954.4Z" fill="#57bee1" stroke="#57bee1" stroke-width="0.9"/>
<path d="M391.2 949.5L393.3 952.0L391.2 955.5L389.2 953.1Z" fill="#76c9d6" stroke="#76c9d6" stroke-width="0.9"/>
<path d="M395.3 948.5L397.4 951.2L395.3 954.6L393.3 952.0Z" fill="#83cbc3" stroke="#83cbc3" stroke-width="0.9"/>
<path d="M399.4 947.9L401.5 950.7L399.4 953.9L397.4 951.2Z" fill="#80c8ab" stroke="#80c8ab" stroke-width="0.9"/>
<path d="M403.5 947.5L405.6 950.4L403.5 953.5L401.5 950.7Z" fill="#7ec28a" stroke="#7ec28a" stroke-width="0.9"/>
<path d="M407.6 947.3L409.6 950.4L407.6 953.4L405.6 950.4Z" fill="#7ebf73" stroke="#7ebf73" stroke-width="0.9"/>
<path d="M411.7 947.5L413.7 950.7L411.7 953.5L409.6 950.4Z" fill="#81bf64" stroke="#81bf64" stroke-width="0.9"/>
<path d="M352.4 920.7L354.4 927.9L352.4 928.9L350.3 921.6Z" fill="#7ebf74" stroke="#7ebf74" stroke-width="0.9"/>
<path d="M356.4 926.8L358.5 933.8L356.4 935.0L354.4 927.9Z" fill="#80c8ac" stroke="#80c8ac" stroke-width="0.9"/>
<path d="M360.5 932.5L362.6 939.3L360.5 940.7L358.5 933.8Z" fill="#82ccca" stroke="#82ccca" stroke-width="0.9"/>
<path d="M364.6 937.9L366.7 944.5L364.6 946.1L362.6 939.3Z" fill="#6cc6dd" stroke="#6cc6dd" stroke-width="0.9"/>
<path d="M368.7 942.9L370.8 949.4L368.7 951.2L366.7 944.5Z" fill="#4abae2" stroke="#4abae2" stroke-width="0.9"/>
<path d="M372.8 947.6L374.9 953.9L372.8 955.9L370.8 949.4Z" fill="#30a8e2" stroke="#30a8e2" stroke-width="0.9"/>
<path d="M376.9 952.0L379.0 958.1L376.9 960.2L374.9 953.9Z" fill="#3e8ace" stroke="#3e8ace" stroke-width="0.9"/>
<path d="M348.3 914.3L350.3 921.6L348.3 924.0L346.2 916.7Z" fill="#8dc24b" stroke="#8dc24b" stroke-width="0.9"/>
<path d="M385.1 954.4L387.1 956.7L385.1 960.3L383.0 958.2Z" fill="#36b3e5" stroke="#36b3e5" stroke-width="0.9"/>
<path d="M389.2 953.1L391.2 955.5L389.2 959.0L387.1 956.7Z" fill="#64c3de" stroke="#64c3de" stroke-width="0.9"/>
<path d="M393.3 952.0L395.3 954.6L393.3 957.9L391.2 955.5Z" fill="#7ccad0" stroke="#7ccad0" stroke-width="0.9"/>
<path d="M397.4 951.2L399.4 953.9L397.4 957.1L395.3 954.6Z" fill="#83cbbd" stroke="#83cbbd" stroke-width="0.9"/>
<path d="M401.5 950.7L403.5 953.5L401.5 956.6L399.4 953.9Z" fill="#80c7a3" stroke="#80c7a3" stroke-width="0.9"/>
<path d="M405.6 950.4L407.6 953.4L405.6 956.3L403.5 953.5Z" fill="#7ec183" stroke="#7ec183" stroke-width="0.9"/>
<path d="M409.6 950.4L411.7 953.5L409.6 956.4L407.6 953.4Z" fill="#7fbf71" stroke="#7fbf71" stroke-width="0.9"/>
<path d="M381.0 956.0L383.0 958.2L381.0 960.3L379.0 958.1Z" fill="#3d8dd0" stroke="#3d8dd0" stroke-width="0.9"/>
<path d="M413.7 950.7L415.8 953.6L413.7 956.3L411.7 953.5Z" fill="#82c064" stroke="#82c064" stroke-width="0.9"/>
<path d="M354.4 927.9L356.4 935.0L354.4 936.3L352.4 928.9Z" fill="#80c8aa" stroke="#80c8aa" stroke-width="0.9"/>
<path d="M358.5 933.8L360.5 940.7L358.5 942.2L356.4 935.0Z" fill="#82ccca" stroke="#82ccca" stroke-width="0.9"/>
<path d="M362.6 939.3L364.6 946.1L362.6 947.7L360.5 940.7Z" fill="#6ac6dd" stroke="#6ac6dd" stroke-width="0.9"/>
<path d="M366.7 944.5L368.7 951.2L366.7 952.9L364.6 946.1Z" fill="#44b8e3" stroke="#44b8e3" stroke-width="0.9"/>
<path d="M370.8 949.4L372.8 955.9L370.8 957.8L368.7 951.2Z" fill="#369fdc" stroke="#369fdc" stroke-width="0.9"/>
<path d="M374.9 953.9L376.9 960.2L374.9 962.3L372.8 955.9Z" fill="#4074bf" stroke="#4074bf" stroke-width="0.9"/>
<path d="M346.2 916.7L348.3 924.0L346.2 926.3L344.2 919.2Z" fill="#87c04f" stroke="#87c04f" stroke-width="0.9"/>
<path d="M350.3 921.6L352.4 928.9L350.3 931.2L348.3 924.0Z" fill="#7ebf73" stroke="#7ebf73" stroke-width="0.9"/>
<path d="M387.1 956.7L389.2 959.0L387.1 962.5L385.1 960.3Z" fill="#49bae2" stroke="#49bae2" stroke-width="0.9"/>
<path d="M391.2 955.5L393.3 957.9L391.2 961.3L389.2 959.0Z" fill="#6fc8dc" stroke="#6fc8dc" stroke-width="0.9"/>
<path d="M395.3 954.6L397.4 957.1L395.3 960.4L393.3 957.9Z" fill="#83ccc9" stroke="#83ccc9" stroke-width="0.9"/>
<path d="M399.4 953.9L401.5 956.6L399.4 959.7L397.4 957.1Z" fill="#82cab5" stroke="#82cab5" stroke-width="0.9"/>
<path d="M403.5 953.5L405.6 956.3L403.5 959.3L401.5 956.6Z" fill="#7fc59a" stroke="#7fc59a" stroke-width="0.9"/>
<path d="M407.6 953.4L409.6 956.4L407.6 959.2L405.6 956.3Z" fill="#7dc07e" stroke="#7dc07e" stroke-width="0.9"/>
<path d="M379.0 958.1L381.0 960.3L379.0 962.4L376.9 960.2Z" fill="#4077c1" stroke="#4077c1" stroke-width="0.9"/>
<path d="M383.0 958.2L385.1 960.3L383.0 962.4L381.0 960.3Z" fill="#35a0dd" stroke="#35a0dd" stroke-width="0.9"/>
<path d="M411.7 953.5L413.7 956.3L411.7 959.0L409.6 956.4Z" fill="#7fbf6f" stroke="#7fbf6f" stroke-width="0.9"/>
<path d="M415.8 953.6L417.8 956.4L415.8 959.1L413.7 956.3Z" fill="#82c064" stroke="#82c064" stroke-width="0.9"/>
<path d="M356.4 935.0L358.5 942.2L356.4 943.6L354.4 936.3Z" fill="#82ccca" stroke="#82ccca" stroke-width="0.9"/>
<path d="M360.5 940.7L362.6 947.7L360.5 949.3L358.5 942.2Z" fill="#68c5de" stroke="#68c5de" stroke-width="0.9"/>
<path d="M364.6 946.1L366.7 952.9L364.6 954.7L362.6 947.7Z" fill="#3fb6e4" stroke="#3fb6e4" stroke-width="0.9"/>
<path d="M368.7 951.2L370.8 957.8L368.7 959.8L366.7 952.9Z" fill="#3a97d7" stroke="#3a97d7" stroke-width="0.9"/>
<path d="M372.8 955.9L374.9 962.3L372.8 964.5L370.8 957.8Z" fill="#4064b5" stroke="#4064b5" stroke-width="0.9"/>
<path d="M344.2 919.2L346.2 926.3L344.2 928.7L342.1 921.6Z" fill="#86c052" stroke="#86c052" stroke-width="0.9"/>
<path d="M348.3 924.0L350.3 931.2L348.3 933.5L346.2 926.3Z" fill="#7ebf75" stroke="#7ebf75" stroke-width="0.9"/>
<path d="M352.4 928.9L354.4 936.3L352.4 938.5L350.3 931.2Z" fill="#80c8aa" stroke="#80c8aa" stroke-width="0.9"/>
<path d="M389.2 959.0L391.2 961.3L389.2 964.6L387.1 962.5Z" fill="#5bc0e0" stroke="#5bc0e0" stroke-width="0.9"/>
<path d="M393.3 957.9L395.3 960.4L393.3 963.6L391.2 961.3Z" fill="#77c9d5" stroke="#77c9d5" stroke-width="0.9"/>
<path d="M397.4 957.1L399.4 959.7L397.4 962.8L395.3 960.4Z" fill="#83cbc3" stroke="#83cbc3" stroke-width="0.9"/>
<path d="M401.5 956.6L403.5 959.3L401.5 962.3L399.4 959.7Z" fill="#81c9ad" stroke="#81c9ad" stroke-width="0.9"/>
<path d="M405.6 956.3L407.6 959.2L405.6 962.0L403.5 959.3Z" fill="#7fc490" stroke="#7fc490" stroke-width="0.9"/>
<path d="M376.9 960.2L379.0 962.4L376.9 964.5L374.9 962.3Z" fill="#4064b5" stroke="#4064b5" stroke-width="0.9"/>
<path d="M381.0 960.3L383.0 962.4L381.0 964.5L379.0 962.4Z" fill="#3b93d5" stroke="#3b93d5" stroke-width="0.9"/>
<path d="M385.1 960.3L387.1 962.5L385.1 964.6L383.0 962.4Z" fill="#33b2e5" stroke="#33b2e5" stroke-width="0.9"/>
<path d="M409.6 956.4L411.7 959.0L409.6 961.8L407.6 959.2Z" fill="#7dbf7a" stroke="#7dbf7a" stroke-width="0.9"/>
<path d="M413.7 956.3L415.8 959.1L413.7 961.7L411.7 959.0Z" fill="#7fbf6e" stroke="#7fbf6e" stroke-width="0.9"/>
<path d="M417.8 956.4L419.9 959.2L417.8 961.8L415.8 959.1Z" fill="#82c063" stroke="#82c063" stroke-width="0.9"/>
<path d="M358.5 942.2L360.5 949.3L358.5 950.9L356.4 943.6Z" fill="#66c4de" stroke="#66c4de" stroke-width="0.9"/>
<path d="M362.6 947.7L364.6 954.7L362.6 956.5L360.5 949.3Z" fill="#3ab5e4" stroke="#3ab5e4" stroke-width="0.9"/>
<path d="M366.7 952.9L368.7 959.8L366.7 961.7L364.6 954.7Z" fill="#3c90d3" stroke="#3c90d3" stroke-width="0.9"/>
<path d="M370.8 957.8L372.8 964.5L370.8 966.6L368.7 959.8Z" fill="#3e56ac" stroke="#3e56ac" stroke-width="0.9"/>
<path d="M342.1 921.6L344.2 928.7L342.1 931.1L340.1 924.0Z" fill="#85c054" stroke="#85c054" stroke-width="0.9"/>
<path d="M346.2 926.3L348.3 933.5L346.2 935.8L344.2 928.7Z" fill="#7dbf76" stroke="#7dbf76" stroke-width="0.9"/>
<path d="M350.3 931.2L352.4 938.5L350.3 940.7L348.3 933.5Z" fill="#80c8ab" stroke="#80c8ab" stroke-width="0.9"/>
<path d="M354.4 936.3L356.4 943.6L354.4 945.7L352.4 938.5Z" fill="#82ccca" stroke="#82ccca" stroke-width="0.9"/>
<path d="M391.2 961.3L393.3 963.6L391.2 966.8L389.2 964.6Z" fill="#69c5dd" stroke="#69c5dd" stroke-width="0.9"/>
<path d="M395.3 960.4L397.4 962.8L395.3 965.9L393.3 963.6Z" fill="#7ecbce" stroke="#7ecbce" stroke-width="0.9"/>
<path d="M399.4 959.7L401.5 962.3L399.4 965.2L397.4 962.8Z" fill="#82cabc" stroke="#82cabc" stroke-width="0.9"/>
<path d="M403.5 959.3L405.6 962.0L403.5 964.8L401.5 962.3Z" fill="#80c7a4" stroke="#80c7a4" stroke-width="0.9"/>
<path d="M374.9 962.3L376.9 964.5L374.9 966.6L372.8 964.5Z" fill="#3e55ab" stroke="#3e55ab" stroke-width="0.9"/>
<path d="M379.0 962.4L381.0 964.5L379.0 966.6L376.9 964.5Z" fill="#3f86cc" stroke="#3f86cc" stroke-width="0.9"/>
<path d="M383.0 962.4L385.1 964.6L383.0 966.6L381.0 964.5Z" fill="#31a7e1" stroke="#31a7e1" stroke-width="0.9"/>
<path d="M387.1 962.5L389.2 964.6L387.1 966.7L385.1 964.6Z" fill="#47b9e3" stroke="#47b9e3" stroke-width="0.9"/>
<path d="M407.6 959.2L409.6 961.8L407.6 964.5L405.6 962.0Z" fill="#7ec28a" stroke="#7ec28a" stroke-width="0.9"/>
<path d="M411.7 959.0L413.7 961.7L411.7 964.4L409.6 961.8Z" fill="#7dbf78" stroke="#7dbf78" stroke-width="0.9"/>
<path d="M415.8 959.1L417.8 961.8L415.8 964.4L413.7 961.7Z" fill="#80bf6d" stroke="#80bf6d" stroke-width="0.9"/>
<path d="M419.9 959.2L421.9 962.1L419.9 964.6L417.8 961.8Z" fill="#82c063" stroke="#82c063" stroke-width="0.9"/>
<path d="M360.5 949.3L362.6 956.5L360.5 958.2L358.5 950.9Z" fill="#34b3e5" stroke="#34b3e5" stroke-width="0.9"/>
<path d="M364.6 954.7L366.7 961.7L364.6 963.6L362.6 956.5Z" fill="#3f87cd" stroke="#3f87cd" stroke-width="0.9"/>
<path d="M368.7 959.8L370.8 966.6L368.7 968.7L366.7 961.7Z" fill="#3d50a7" stroke="#3d50a7" stroke-width="0.9"/>
<path d="M340.1 924.0L342.1 931.1L340.1 933.4L338.0 926.5Z" fill="#84c057" stroke="#84c057" stroke-width="0.9"/>
<path d="M344.2 928.7L346.2 935.8L344.2 938.1L342.1 931.1Z" fill="#7dbf78" stroke="#7dbf78" stroke-width="0.9"/>
<path d="M348.3 933.5L350.3 940.7L348.3 942.9L346.2 935.8Z" fill="#80c8ab" stroke="#80c8ab" stroke-width="0.9"/>
<path d="M352.4 938.5L354.4 945.7L352.4 947.8L350.3 940.7Z" fill="#82ccca" stroke="#82ccca" stroke-width="0.9"/>
<path d="M356.4 943.6L358.5 950.9L356.4 953.0L354.4 945.7Z" fill="#65c4de" stroke="#65c4de" stroke-width="0.9"/>
<path d="M393.3 963.6L395.3 965.9L393.3 969.0L391.2 966.8Z" fill="#74c9d8" stroke="#74c9d8" stroke-width="0.9"/>
<path d="M397.4 962.8L399.4 965.2L397.4 968.2L395.3 965.9Z" fill="#84ccc6" stroke="#84ccc6" stroke-width="0.9"/>
<path d="M401.5 962.3L403.5 964.8L401.5 967.6L399.4 965.2Z" fill="#81c9b2" stroke="#81c9b2" stroke-width="0.9"/>
<path d="M372.8 964.5L374.9 966.6L372.8 968.7L370.8 966.6Z" fill="#3d4ea6" stroke="#3d4ea6" stroke-width="0.9"/>
<path d="M376.9 964.5L379.0 966.6L376.9 968.7L374.9 966.6Z" fill="#406cba" stroke="#406cba" stroke-width="0.9"/>
<path d="M381.0 964.5L383.0 966.6L381.0 968.7L379.0 966.6Z" fill="#3a98d8" stroke="#3a98d8" stroke-width="0.9"/>
<path d="M385.1 964.6L387.1 966.7L385.1 968.8L383.0 966.6Z" fill="#39b4e4" stroke="#39b4e4" stroke-width="0.9"/>
<path d="M389.2 964.6L391.2 966.8L389.2 968.9L387.1 966.7Z" fill="#5abfe0" stroke="#5abfe0" stroke-width="0.9"/>
<path d="M405.6 962.0L407.6 964.5L405.6 967.3L403.5 964.8Z" fill="#7fc69b" stroke="#7fc69b" stroke-width="0.9"/>
<path d="M409.6 961.8L411.7 964.4L409.6 967.0L407.6 964.5Z" fill="#7ec285" stroke="#7ec285" stroke-width="0.9"/>
<path d="M413.7 961.7L415.8 964.4L413.7 967.0L411.7 964.4Z" fill="#7dbf76" stroke="#7dbf76" stroke-width="0.9"/>
<path d="M417.8 961.8L419.9 964.6L417.8 967.1L415.8 964.4Z" fill="#80bf6c" stroke="#80bf6c" stroke-width="0.9"/>
<path d="M421.9 962.1L424.0 965.0L421.9 967.4L419.9 964.6Z" fill="#82c062" stroke="#82c062" stroke-width="0.9"/>
<path d="M362.6 956.5L364.6 963.6L362.6 965.6L360.5 958.2Z" fill="#4075c0" stroke="#4075c0" stroke-width="0.9"/>
<path d="M366.7 961.7L368.7 968.7L366.7 970.8L364.6 963.6Z" fill="#3d4ba4" stroke="#3d4ba4" stroke-width="0.9"/>
<path d="M338.0 926.5L340.1 933.4L338.0 935.8L336.0 928.9Z" fill="#84c059" stroke="#84c059" stroke-width="0.9"/>
<path d="M342.1 931.1L344.2 938.1L342.1 940.3L340.1 933.4Z" fill="#7dbf7a" stroke="#7dbf7a" stroke-width="0.9"/>
<path d="M346.2 935.8L348.3 942.9L346.2 945.1L344.2 938.1Z" fill="#80c8ac" stroke="#80c8ac" stroke-width="0.9"/>
<path d="M350.3 940.7L352.4 947.8L350.3 950.0L348.3 942.9Z" fill="#82ccca" stroke="#82ccca" stroke-width="0.9"/>
<path d="M354.4 945.7L356.4 953.0L354.4 955.0L352.4 947.8Z" fill="#66c4de" stroke="#66c4de" stroke-width="0.9"/>
<path d="M358.5 950.9L360.5 958.2L358.5 960.2L356.4 953.0Z" fill="#33b2e5" stroke="#33b2e5" stroke-width="0.9"/>
<path d="M395.3 965.9L397.4 968.2L395.3 971.1L393.3 969.0Z" fill="#7dcbcf" stroke="#7dcbcf" stroke-width="0.9"/>
<path d="M399.4 965.2L401.5 967.6L399.4 970.5L397.4 968.2Z" fill="#83cbbe" stroke="#83cbbe" stroke-width="0.9"/>
<path d="M370.8 966.6L372.8 968.7L370.8 970.8L368.7 968.7Z" fill="#3c49a2" stroke="#3c49a2" stroke-width="0.9"/>
<path d="M374.9 966.6L376.9 968.7L374.9 970.8L372.8 968.7Z" fill="#3f59ae" stroke="#3f59ae" stroke-width="0.9"/>
<path d="M379.0 966.6L381.0 968.7L379.0 970.8L376.9 968.7Z" fill="#3d8dd0" stroke="#3d8dd0" stroke-width="0.9"/>
<path d="M383.0 966.6L385.1 968.8L383.0 970.8L381.0 968.7Z" fill="#2daee5" stroke="#2daee5" stroke-width="0.9"/>
<path d="M387.1 966.7L389.2 968.9L387.1 970.9L385.1 968.8Z" fill="#4cbbe2" stroke="#4cbbe2" stroke-width="0.9"/>
<path d="M391.2 966.8L393.3 969.0L391.2 971.0L389.2 968.9Z" fill="#69c5dd" stroke="#69c5dd" stroke-width="0.9"/>
<path d="M403.5 964.8L405.6 967.3L403.5 970.0L401.5 967.6Z" fill="#80c8ab" stroke="#80c8ab" stroke-width="0.9"/>
<path d="M407.6 964.5L409.6 967.0L407.6 969.7L405.6 967.3Z" fill="#7fc596" stroke="#7fc596" stroke-width="0.9"/>
<path d="M411.7 964.4L413.7 967.0L411.7 969.6L409.6 967.0Z" fill="#7ec181" stroke="#7ec181" stroke-width="0.9"/>
<path d="M415.8 964.4L417.8 967.1L415.8 969.6L413.7 967.0Z" fill="#7ebf74" stroke="#7ebf74" stroke-width="0.9"/>
<path d="M419.9 964.6L421.9 967.4L419.9 969.8L417.8 967.1Z" fill="#80bf6a" stroke="#80bf6a" stroke-width="0.9"/>
<path d="M424.0 965.0L426.0 967.8L424.0 970.1L421.9 967.4Z" fill="#82c062" stroke="#82c062" stroke-width="0.9"/>
<path d="M364.6 963.6L366.7 970.8L364.6 972.9L362.6 965.6Z" fill="#3c46a0" stroke="#3c46a0" stroke-width="0.9"/>
<path d="M336.0 928.9L338.0 935.8L336.0 938.1L333.9 931.4Z" fill="#83c05c" stroke="#83c05c" stroke-width="0.9"/>
<path d="M340.1 933.4L342.1 940.3L340.1 942.6L338.0 935.8Z" fill="#7dc07c" stroke="#7dc07c" stroke-width="0.9"/>
<path d="M344.2 938.1L346.2 945.1L344.2 947.3L342.1 940.3Z" fill="#81c9ac" stroke="#81c9ac" stroke-width="0.9"/>
<path d="M348.3 942.9L350.3 950.0L348.3 952.1L346.2 945.1Z" fill="#82ccca" stroke="#82ccca" stroke-width="0.9"/>
<path d="M352.4 947.8L354.4 955.0L352.4 957.0L350.3 950.0Z" fill="#68c5de" stroke="#68c5de" stroke-width="0.9"/>
<path d="M356.4 953.0L358.5 960.2L356.4 962.2L354.4 955.0Z" fill="#36b3e5" stroke="#36b3e5" stroke-width="0.9"/>
<path d="M360.5 958.2L362.6 965.6L360.5 967.5L358.5 960.2Z" fill="#4071bd" stroke="#4071bd" stroke-width="0.9"/>
<path d="M397.4 968.2L399.4 970.5L397.4 973.3L395.3 971.1Z" fill="#84ccc7" stroke="#84ccc7" stroke-width="0.9"/>
<path d="M368.7 968.7L370.8 970.8L368.7 972.9L366.7 970.8Z" fill="#3c449e" stroke="#3c449e" stroke-width="0.9"/>
<path d="M372.8 968.7L374.9 970.8L372.8 972.8L370.8 970.8Z" fill="#3d51a8" stroke="#3d51a8" stroke-width="0.9"/>
<path d="M376.9 968.7L379.0 970.8L376.9 972.9L374.9 970.8Z" fill="#4074bf" stroke="#4074bf" stroke-width="0.9"/>
<path d="M381.0 968.7L383.0 970.8L381.0 972.9L379.0 970.8Z" fill="#379edb" stroke="#379edb" stroke-width="0.9"/>
<path d="M385.1 968.8L387.1 970.9L385.1 973.0L383.0 970.8Z" fill="#3eb6e4" stroke="#3eb6e4" stroke-width="0.9"/>
<path d="M389.2 968.9L391.2 971.0L389.2 973.0L387.1 970.9Z" fill="#5ec1e0" stroke="#5ec1e0" stroke-width="0.9"/>
<path d="M393.3 969.0L395.3 971.1L393.3 973.2L391.2 971.0Z" fill="#74c9d8" stroke="#74c9d8" stroke-width="0.9"/>
<path d="M401.5 967.6L403.5 970.0L401.5 972.8L399.4 970.5Z" fill="#82cab6" stroke="#82cab6" stroke-width="0.9"/>
<path d="M405.6 967.3L407.6 969.7L405.6 972.4L403.5 970.0Z" fill="#80c8a6" stroke="#80c8a6" stroke-width="0.9"/>
<path d="M409.6 967.0L411.7 969.6L409.6 972.2L407.6 969.7Z" fill="#7fc490" stroke="#7fc490" stroke-width="0.9"/>
<path d="M413.7 967.0L415.8 969.6L413.7 972.1L411.7 969.6Z" fill="#7dc07e" stroke="#7dc07e" stroke-width="0.9"/>
<path d="M417.8 967.1L419.9 969.8L417.8 972.2L415.8 969.6Z" fill="#7ebf72" stroke="#7ebf72" stroke-width="0.9"/>
<path d="M421.9 967.4L424.0 970.1L421.9 972.5L419.9 969.8Z" fill="#80bf69" stroke="#80bf69" stroke-width="0.9"/>
<path d="M426.0 967.8L428.1 970.6L426.0 972.9L424.0 970.1Z" fill="#82c062" stroke="#82c062" stroke-width="0.9"/>
<path d="M333.9 931.4L336.0 938.1L333.9 940.5L331.9 933.8Z" fill="#83c05e" stroke="#83c05e" stroke-width="0.9"/>
<path d="M338.0 935.8L340.1 942.6L338.0 944.9L336.0 938.1Z" fill="#7dc07e" stroke="#7dc07e" stroke-width="0.9"/>
<path d="M342.1 940.3L344.2 947.3L342.1 949.5L340.1 942.6Z" fill="#81c9ad" stroke="#81c9ad" stroke-width="0.9"/>
<path d="M346.2 945.1L348.3 952.1L346.2 954.2L344.2 947.3Z" fill="#82ccca" stroke="#82ccca" stroke-width="0.9"/>
<path d="M350.3 950.0L352.4 957.0L350.3 959.1L348.3 952.1Z" fill="#69c5dd" stroke="#69c5dd" stroke-width="0.9"/>
<path d="M354.4 955.0L356.4 962.2L354.4 964.1L352.4 957.0Z" fill="#39b4e4" stroke="#39b4e4" stroke-width="0.9"/>
<path d="M358.5 960.2L360.5 967.5L358.5 969.3L356.4 962.2Z" fill="#3f7bc4" stroke="#3f7bc4" stroke-width="0.9"/>
<path d="M362.6 965.6L364.6 972.9L362.6 974.7L360.5 967.5Z" fill="#3c459f" stroke="#3c459f" stroke-width="0.9"/>
<path d="M366.7 970.8L368.7 972.9L366.7 975.0L364.6 972.9Z" fill="#3b3e9a" stroke="#3b3e9a" stroke-width="0.9"/>
<path d="M370.8 970.8L372.8 972.8L370.8 974.9L368.7 972.9Z" fill="#3d4ba3" stroke="#3d4ba3" stroke-width="0.9"/>
<path d="M374.9 970.8L376.9 972.9L374.9 974.9L372.8 972.8Z" fill="#4060b3" stroke="#4060b3" stroke-width="0.9"/>
<path d="M379.0 970.8L381.0 972.9L379.0 975.0L376.9 972.9Z" fill="#3c91d3" stroke="#3c91d3" stroke-width="0.9"/>
<path d="M383.0 970.8L385.1 973.0L383.0 975.0L381.0 972.9Z" fill="#30b1e5" stroke="#30b1e5" stroke-width="0.9"/>
<path d="M387.1 970.9L389.2 973.0L387.1 975.1L385.1 973.0Z" fill="#51bce1" stroke="#51bce1" stroke-width="0.9"/>
<path d="M391.2 971.0L393.3 973.2L391.2 975.2L389.2 973.0Z" fill="#6dc7dd" stroke="#6dc7dd" stroke-width="0.9"/>
<path d="M395.3 971.1L397.4 973.3L395.3 975.3L393.3 973.2Z" fill="#7ecbce" stroke="#7ecbce" stroke-width="0.9"/>
<path d="M399.4 970.5L401.5 972.8L399.4 975.5L397.4 973.3Z" fill="#83cbc1" stroke="#83cbc1" stroke-width="0.9"/>
<path d="M403.5 970.0L405.6 972.4L403.5 975.0L401.5 972.8Z" fill="#81c9b1" stroke="#81c9b1" stroke-width="0.9"/>
<path d="M407.6 969.7L409.6 972.2L407.6 974.7L405.6 972.4Z" fill="#7fc6a0" stroke="#7fc6a0" stroke-width="0.9"/>
<path d="M411.7 969.6L413.7 972.1L411.7 974.6L409.6 972.2Z" fill="#7ec38b" stroke="#7ec38b" stroke-width="0.9"/>
<path d="M415.8 969.6L417.8 972.2L415.8 974.6L413.7 972.1Z" fill="#7dc07b" stroke="#7dc07b" stroke-width="0.9"/>
<path d="M419.9 969.8L421.9 972.5L419.9 974.8L417.8 972.2Z" fill="#7fbf71" stroke="#7fbf71" stroke-width="0.9"/>
<path d="M424.0 970.1L426.0 972.9L424.0 975.2L421.9 972.5Z" fill="#81bf68" stroke="#81bf68" stroke-width="0.9"/>
<path d="M428.1 970.6L430.1 973.5L428.1 975.7L426.0 972.9Z" fill="#82c061" stroke="#82c061" stroke-width="0.9"/>
<path d="M336.0 938.1L338.0 944.9L336.0 947.2L333.9 940.5Z" fill="#7dc080" stroke="#7dc080" stroke-width="0.9"/>
<path d="M340.1 942.6L342.1 949.5L340.1 951.7L338.0 944.9Z" fill="#81c9ae" stroke="#81c9ae" stroke-width="0.9"/>
<path d="M344.2 947.3L346.2 954.2L344.2 956.3L342.1 949.5Z" fill="#83ccc9" stroke="#83ccc9" stroke-width="0.9"/>
<path d="M348.3 952.1L350.3 959.1L348.3 961.1L346.2 954.2Z" fill="#6ac6dd" stroke="#6ac6dd" stroke-width="0.9"/>
<path d="M352.4 957.0L354.4 964.1L352.4 966.1L350.3 959.1Z" fill="#3cb5e4" stroke="#3cb5e4" stroke-width="0.9"/>
<path d="M356.4 962.2L358.5 969.3L356.4 971.2L354.4 964.1Z" fill="#3f86cc" stroke="#3f86cc" stroke-width="0.9"/>
<path d="M360.5 967.5L362.6 974.7L360.5 976.5L358.5 969.3Z" fill="#3c48a1" stroke="#3c48a1" stroke-width="0.9"/>
<path d="M368.7 972.9L370.8 974.9L368.7 977.0L366.7 975.0Z" fill="#3c459f" stroke="#3c459f" stroke-width="0.9"/>
<path d="M372.8 972.8L374.9 974.9L372.8 977.0L370.8 974.9Z" fill="#3e53aa" stroke="#3e53aa" stroke-width="0.9"/>
<path d="M376.9 972.9L379.0 975.0L376.9 977.0L374.9 974.9Z" fill="#3f7ec6" stroke="#3f7ec6" stroke-width="0.9"/>
<path d="M381.0 972.9L383.0 975.0L381.0 977.1L379.0 975.0Z" fill="#34a2de" stroke="#34a2de" stroke-width="0.9"/>
<path d="M385.1 973.0L387.1 975.1L385.1 977.1L383.0 975.0Z" fill="#42b7e3" stroke="#42b7e3" stroke-width="0.9"/>
<path d="M389.2 973.0L391.2 975.2L389.2 977.2L387.1 975.1Z" fill="#61c2df" stroke="#61c2df" stroke-width="0.9"/>
<path d="M393.3 973.2L395.3 975.3L393.3 977.3L391.2 975.2Z" fill="#76c9d6" stroke="#76c9d6" stroke-width="0.9"/>
<path d="M364.6 972.9L366.7 975.0L364.6 976.8L362.6 974.7Z" fill="#3b3d99" stroke="#3b3d99" stroke-width="0.9"/>
<path d="M401.5 972.8L403.5 975.0L401.5 977.7L399.4 975.5Z" fill="#82cabc" stroke="#82cabc" stroke-width="0.9"/>
<path d="M405.6 972.4L407.6 974.7L405.6 977.3L403.5 975.0Z" fill="#81c9ac" stroke="#81c9ac" stroke-width="0.9"/>
<path d="M409.6 972.2L411.7 974.6L409.6 977.1L407.6 974.7Z" fill="#7fc599" stroke="#7fc599" stroke-width="0.9"/>
<path d="M413.7 972.1L415.8 974.6L413.7 977.0L411.7 974.6Z" fill="#7ec286" stroke="#7ec286" stroke-width="0.9"/>
<path d="M417.8 972.2L419.9 974.8L417.8 977.1L415.8 974.6Z" fill="#7dbf78" stroke="#7dbf78" stroke-width="0.9"/>
<path d="M421.9 972.5L424.0 975.2L421.9 977.4L419.9 974.8Z" fill="#7fbf6f" stroke="#7fbf6f" stroke-width="0.9"/>
<path d="M426.0 972.9L428.1 975.7L426.0 977.9L424.0 975.2Z" fill="#81bf67" stroke="#81bf67" stroke-width="0.9"/>
<path d="M397.4 973.3L399.4 975.5L397.4 977.5L395.3 975.3Z" fill="#84ccc8" stroke="#84ccc8" stroke-width="0.9"/>
<path d="M338.0 944.9L340.1 951.7L338.0 953.9L336.0 947.2Z" fill="#81c9ae" stroke="#81c9ae" stroke-width="0.9"/>
<path d="M342.1 949.5L344.2 956.3L342.1 958.4L340.1 951.7Z" fill="#83ccc9" stroke="#83ccc9" stroke-width="0.9"/>
<path d="M346.2 954.2L348.3 961.1L346.2 963.2L344.2 956.3Z" fill="#6bc6dd" stroke="#6bc6dd" stroke-width="0.9"/>
<path d="M350.3 959.1L352.4 966.1L350.3 968.0L348.3 961.1Z" fill="#3fb6e4" stroke="#3fb6e4" stroke-width="0.9"/>
<path d="M354.4 964.1L356.4 971.2L354.4 973.1L352.4 966.1Z" fill="#3e8bcf" stroke="#3e8bcf" stroke-width="0.9"/>
<path d="M358.5 969.3L360.5 976.5L358.5 978.3L356.4 971.2Z" fill="#3d4aa3" stroke="#3d4aa3" stroke-width="0.9"/>
<path d="M370.8 974.9L372.8 977.0L370.8 979.1L368.7 977.0Z" fill="#3d4ca5" stroke="#3d4ca5" stroke-width="0.9"/>
<path d="M374.9 974.9L376.9 977.0L374.9 979.1L372.8 977.0Z" fill="#4065b6" stroke="#4065b6" stroke-width="0.9"/>
<path d="M379.0 975.0L381.0 977.1L379.0 979.1L376.9 977.0Z" fill="#3b94d5" stroke="#3b94d5" stroke-width="0.9"/>
<path d="M383.0 975.0L385.1 977.1L383.0 979.2L381.0 977.1Z" fill="#33b2e5" stroke="#33b2e5" stroke-width="0.9"/>
<path d="M387.1 975.1L389.2 977.2L387.1 979.2L385.1 977.1Z" fill="#54bde1" stroke="#54bde1" stroke-width="0.9"/>
<path d="M391.2 975.2L393.3 977.3L391.2 979.3L389.2 977.2Z" fill="#6ec7dc" stroke="#6ec7dc" stroke-width="0.9"/>
<path d="M362.6 974.7L364.6 976.8L362.6 978.6L360.5 976.5Z" fill="#3b409b" stroke="#3b409b" stroke-width="0.9"/>
<path d="M366.7 975.0L368.7 977.0L366.7 978.8L364.6 976.8Z" fill="#3c449e" stroke="#3c449e" stroke-width="0.9"/>
<path d="M403.5 975.0L405.6 977.3L403.5 979.9L401.5 977.7Z" fill="#82cab6" stroke="#82cab6" stroke-width="0.9"/>
<path d="M407.6 974.7L409.6 977.1L407.6 979.6L405.6 977.3Z" fill="#80c8a7" stroke="#80c8a7" stroke-width="0.9"/>
<path d="M411.7 974.6L413.7 977.0L411.7 979.5L409.6 977.1Z" fill="#7fc492" stroke="#7fc492" stroke-width="0.9"/>
<path d="M415.8 974.6L417.8 977.1L415.8 979.5L413.7 977.0Z" fill="#7ec181" stroke="#7ec181" stroke-width="0.9"/>
<path d="M419.9 974.8L421.9 977.4L419.9 979.7L417.8 977.1Z" fill="#7ebf75" stroke="#7ebf75" stroke-width="0.9"/>
<path d="M424.0 975.2L426.0 977.9L424.0 980.0L421.9 977.4Z" fill="#80bf6d" stroke="#80bf6d" stroke-width="0.9"/>
<path d="M395.3 975.3L397.4 977.5L395.3 979.4L393.3 977.3Z" fill="#7dcbcf" stroke="#7dcbcf" stroke-width="0.9"/>
<path d="M399.4 975.5L401.5 977.7L399.4 979.6L397.4 977.5Z" fill="#83cbc4" stroke="#83cbc4" stroke-width="0.9"/>
<path d="M340.1 951.7L342.1 958.4L340.1 960.5L338.0 953.9Z" fill="#83ccc9" stroke="#83ccc9" stroke-width="0.9"/>
<path d="M344.2 956.3L346.2 963.2L344.2 965.2L342.1 958.4Z" fill="#6dc7dd" stroke="#6dc7dd" stroke-width="0.9"/>
<path d="M348.3 961.1L350.3 968.0L348.3 970.0L346.2 963.2Z" fill="#42b7e3" stroke="#42b7e3" stroke-width="0.9"/>
<path d="M352.4 966.1L354.4 973.1L352.4 975.0L350.3 968.0Z" fill="#3c8fd2" stroke="#3c8fd2" stroke-width="0.9"/>
<path d="M356.4 971.2L358.5 978.3L356.4 980.1L354.4 973.1Z" fill="#3d4da5" stroke="#3d4da5" stroke-width="0.9"/>
<path d="M372.8 977.0L374.9 979.1L372.8 981.1L370.8 979.1Z" fill="#3e55ab" stroke="#3e55ab" stroke-width="0.9"/>
<path d="M376.9 977.0L379.0 979.1L376.9 981.2L374.9 979.1Z" fill="#3f85cb" stroke="#3f85cb" stroke-width="0.9"/>
<path d="M381.0 977.1L383.0 979.2L381.0 981.2L379.0 979.1Z" fill="#32a6e0" stroke="#32a6e0" stroke-width="0.9"/>
<path d="M385.1 977.1L387.1 979.2L385.1 981.3L383.0 979.2Z" fill="#45b8e3" stroke="#45b8e3" stroke-width="0.9"/>
<path d="M389.2 977.2L391.2 979.3L389.2 981.3L387.1 979.2Z" fill="#63c3df" stroke="#63c3df" stroke-width="0.9"/>
<path d="M360.5 976.5L362.6 978.6L360.5 980.4L358.5 978.3Z" fill="#3c429d" stroke="#3c429d" stroke-width="0.9"/>
<path d="M364.6 976.8L366.7 978.8L364.6 980.6L362.6 978.6Z" fill="#3c46a0" stroke="#3c46a0" stroke-width="0.9"/>
<path d="M368.7 977.0L370.8 979.1L368.7 980.9L366.7 978.8Z" fill="#3d4aa3" stroke="#3d4aa3" stroke-width="0.9"/>
<path d="M405.6 977.3L407.6 979.6L405.6 982.1L403.5 979.9Z" fill="#81c9b0" stroke="#81c9b0" stroke-width="0.9"/>
<path d="M409.6 977.1L411.7 979.5L409.6 981.9L407.6 979.6Z" fill="#7fc69f" stroke="#7fc69f" stroke-width="0.9"/>
<path d="M413.7 977.0L415.8 979.5L413.7 981.8L411.7 979.5Z" fill="#7ec38c" stroke="#7ec38c" stroke-width="0.9"/>
<path d="M417.8 977.1L419.9 979.7L417.8 981.9L415.8 979.5Z" fill="#7dc07d" stroke="#7dc07d" stroke-width="0.9"/>
<path d="M421.9 977.4L424.0 980.0L421.9 982.2L419.9 979.7Z" fill="#7ebf73" stroke="#7ebf73" stroke-width="0.9"/>
<path d="M393.3 977.3L395.3 979.4L393.3 981.4L391.2 979.3Z" fill="#76c9d6" stroke="#76c9d6" stroke-width="0.9"/>
<path d="M397.4 977.5L399.4 979.6L397.4 981.6L395.3 979.4Z" fill="#82ccca" stroke="#82ccca" stroke-width="0.9"/>
<path d="M401.5 977.7L403.5 979.9L401.5 981.8L399.4 979.6Z" fill="#83cbbf" stroke="#83cbbf" stroke-width="0.9"/>
<path d="M342.1 958.4L344.2 965.2L342.1 967.2L340.1 960.5Z" fill="#6ec7dc" stroke="#6ec7dc" stroke-width="0.9"/>
<path d="M346.2 963.2L348.3 970.0L346.2 972.0L344.2 965.2Z" fill="#45b8e3" stroke="#45b8e3" stroke-width="0.9"/>
<path d="M350.3 968.0L352.4 975.0L350.3 976.9L348.3 970.0Z" fill="#3b93d5" stroke="#3b93d5" stroke-width="0.9"/>
<path d="M354.4 973.1L356.4 980.1L354.4 981.9L352.4 975.0Z" fill="#3d4fa7" stroke="#3d4fa7" stroke-width="0.9"/>
<path d="M374.9 979.1L376.9 981.2L374.9 983.2L372.8 981.1Z" fill="#4068b8" stroke="#4068b8" stroke-width="0.9"/>
<path d="M379.0 979.1L381.0 981.2L379.0 983.2L376.9 981.2Z" fill="#3b96d6" stroke="#3b96d6" stroke-width="0.9"/>
<path d="M383.0 979.2L385.1 981.3L383.0 983.3L381.0 981.2Z" fill="#36b3e5" stroke="#36b3e5" stroke-width="0.9"/>
<path d="M387.1 979.2L389.2 981.3L387.1 983.4L385.1 981.3Z" fill="#56bee1" stroke="#56bee1" stroke-width="0.9"/>
<path d="M358.5 978.3L360.5 980.4L358.5 982.2L356.4 980.1Z" fill="#3c459f" stroke="#3c459f" stroke-width="0.9"/>
<path d="M362.6 978.6L364.6 980.6L362.6 982.5L360.5 980.4Z" fill="#3c49a2" stroke="#3c49a2" stroke-width="0.9"/>
<path d="M366.7 978.8L368.7 980.9L366.7 982.7L364.6 980.6Z" fill="#3d4da5" stroke="#3d4da5" stroke-width="0.9"/>
<path d="M370.8 979.1L372.8 981.1L370.8 983.0L368.7 980.9Z" fill="#3e52a9" stroke="#3e52a9" stroke-width="0.9"/>
<path d="M407.6 979.6L409.6 981.9L407.6 984.3L405.6 982.1Z" fill="#80c8ab" stroke="#80c8ab" stroke-width="0.9"/>
<path d="M411.7 979.5L413.7 981.8L411.7 984.2L409.6 981.9Z" fill="#7fc598" stroke="#7fc598" stroke-width="0.9"/>
<path d="M415.8 979.5L417.8 981.9L415.8 984.2L413.7 981.8Z" fill="#7ec185" stroke="#7ec185" stroke-width="0.9"/>
<path d="M419.9 979.7L421.9 982.2L419.9 984.4L417.8 981.9Z" fill="#7dbf78" stroke="#7dbf78" stroke-width="0.9"/>
<path d="M391.2 979.3L393.3 981.4L391.2 983.4L389.2 981.3Z" fill="#6ec7dc" stroke="#6ec7dc" stroke-width="0.9"/>
<path d="M395.3 979.4L397.4 981.6L395.3 983.5L393.3 981.4Z" fill="#7bcad1" stroke="#7bcad1" stroke-width="0.9"/>
<path d="M399.4 979.6L401.5 981.8L399.4 983.7L397.4 981.6Z" fill="#84ccc5" stroke="#84ccc5" stroke-width="0.9"/>
<path d="M403.5 979.9L405.6 982.1L403.5 984.0L401.5 981.8Z" fill="#82cab9" stroke="#82cab9" stroke-width="0.9"/>
<path d="M344.2 965.2L346.2 972.0L344.2 973.9L342.1 967.2Z" fill="#48b9e3" stroke="#48b9e3" stroke-width="0.9"/>
<path d="M348.3 970.0L350.3 976.9L348.3 978.7L346.2 972.0Z" fill="#3a97d7" stroke="#3a97d7" stroke-width="0.9"/>
<path d="M352.4 975.0L354.4 981.9L352.4 983.7L350.3 976.9Z" fill="#3e53a9" stroke="#3e53a9" stroke-width="0.9"/>
<path d="M376.9 981.2L379.0 983.2L376.9 985.3L374.9 983.2Z" fill="#3f87cd" stroke="#3f87cd" stroke-width="0.9"/>
<path d="M381.0 981.2L383.0 983.3L381.0 985.3L379.0 983.2Z" fill="#31a8e1" stroke="#31a8e1" stroke-width="0.9"/>
<path d="M385.1 981.3L387.1 983.4L385.1 985.4L383.0 983.3Z" fill="#46b9e3" stroke="#46b9e3" stroke-width="0.9"/>
<path d="M356.4 980.1L358.5 982.2L356.4 984.0L354.4 981.9Z" fill="#3c47a1" stroke="#3c47a1" stroke-width="0.9"/>
<path d="M360.5 980.4L362.6 982.5L360.5 984.3L358.5 982.2Z" fill="#3d4ba4" stroke="#3d4ba4" stroke-width="0.9"/>
<path d="M364.6 980.6L366.7 982.7L364.6 984.5L362.6 982.5Z" fill="#3d4fa7" stroke="#3d4fa7" stroke-width="0.9"/>
<path d="M368.7 980.9L370.8 983.0L368.7 984.8L366.7 982.7Z" fill="#3e55ab" stroke="#3e55ab" stroke-width="0.9"/>
<path d="M372.8 981.1L374.9 983.2L372.8 985.0L370.8 983.0Z" fill="#4062b4" stroke="#4062b4" stroke-width="0.9"/>
<path d="M409.6 981.9L411.7 984.2L409.6 986.5L407.6 984.3Z" fill="#80c7a3" stroke="#80c7a3" stroke-width="0.9"/>
<path d="M413.7 981.8L415.8 984.2L413.7 986.4L411.7 984.2Z" fill="#7ec390" stroke="#7ec390" stroke-width="0.9"/>
<path d="M417.8 981.9L419.9 984.4L417.8 986.5L415.8 984.2Z" fill="#7dc07f" stroke="#7dc07f" stroke-width="0.9"/>
<path d="M389.2 981.3L391.2 983.4L389.2 985.4L387.1 983.4Z" fill="#64c3de" stroke="#64c3de" stroke-width="0.9"/>
<path d="M393.3 981.4L395.3 983.5L393.3 985.5L391.2 983.4Z" fill="#75c9d7" stroke="#75c9d7" stroke-width="0.9"/>
<path d="M397.4 981.6L399.4 983.7L397.4 985.6L395.3 983.5Z" fill="#81cbcb" stroke="#81cbcb" stroke-width="0.9"/>
<path d="M401.5 981.8L403.5 984.0L401.5 985.8L399.4 983.7Z" fill="#83cbc1" stroke="#83cbc1" stroke-width="0.9"/>
<path d="M405.6 982.1L407.6 984.3L405.6 986.1L403.5 984.0Z" fill="#81c9b2" stroke="#81c9b2" stroke-width="0.9"/>
<path d="M346.2 972.0L348.3 978.7L346.2 980.6L344.2 973.9Z" fill="#389bda" stroke="#389bda" stroke-width="0.9"/>
<path d="M350.3 976.9L352.4 983.7L350.3 985.5L348.3 978.7Z" fill="#3e56ac" stroke="#3e56ac" stroke-width="0.9"/>
<path d="M379.0 983.2L381.0 985.3L379.0 987.3L376.9 985.3Z" fill="#3a97d7" stroke="#3a97d7" stroke-width="0.9"/>
<path d="M383.0 983.3L385.1 985.4L383.0 987.4L381.0 985.3Z" fill="#37b4e5" stroke="#37b4e5" stroke-width="0.9"/>
<path d="M354.4 981.9L356.4 984.0L354.4 985.8L352.4 983.7Z" fill="#3d4aa3" stroke="#3d4aa3" stroke-width="0.9"/>
<path d="M358.5 982.2L360.5 984.3L358.5 986.1L356.4 984.0Z" fill="#3d4da6" stroke="#3d4da6" stroke-width="0.9"/>
<path d="M362.6 982.5L364.6 984.5L362.6 986.4L360.5 984.3Z" fill="#3e52a9" stroke="#3e52a9" stroke-width="0.9"/>
<path d="M366.7 982.7L368.7 984.8L366.7 986.6L364.6 984.5Z" fill="#3e58ad" stroke="#3e58ad" stroke-width="0.9"/>
<path d="M370.8 983.0L372.8 985.0L370.8 986.9L368.7 984.8Z" fill="#4067b7" stroke="#4067b7" stroke-width="0.9"/>
<path d="M374.9 983.2L376.9 985.3L374.9 987.1L372.8 985.0Z" fill="#3f7cc4" stroke="#3f7cc4" stroke-width="0.9"/>
<path d="M411.7 984.2L413.7 986.4L411.7 988.7L409.6 986.5Z" fill="#7fc59a" stroke="#7fc59a" stroke-width="0.9"/>
<path d="M415.8 984.2L417.8 986.5L415.8 988.7L413.7 986.4Z" fill="#7ec288" stroke="#7ec288" stroke-width="0.9"/>
<path d="M387.1 983.4L389.2 985.4L387.1 987.4L385.1 985.4Z" fill="#57bee1" stroke="#57bee1" stroke-width="0.9"/>
<path d="M391.2 983.4L393.3 985.5L391.2 987.4L389.2 985.4Z" fill="#6ec7dc" stroke="#6ec7dc" stroke-width="0.9"/>
<path d="M395.3 983.5L397.4 985.6L395.3 987.5L393.3 985.5Z" fill="#7bcad1" stroke="#7bcad1" stroke-width="0.9"/>
<path d="M399.4 983.7L401.5 985.8L399.4 987.7L397.4 985.6Z" fill="#84ccc6" stroke="#84ccc6" stroke-width="0.9"/>
<path d="M403.5 984.0L405.6 986.1L403.5 987.9L401.5 985.8Z" fill="#82cab9" stroke="#82cab9" stroke-width="0.9"/>
<path d="M407.6 984.3L409.6 986.5L407.6 988.3L405.6 986.1Z" fill="#80c8ac" stroke="#80c8ac" stroke-width="0.9"/>
<path d="M348.3 978.7L350.3 985.5L348.3 987.3L346.2 980.6Z" fill="#3f5cb0" stroke="#3f5cb0" stroke-width="0.9"/>
<path d="M381.0 985.3L383.0 987.4L381.0 989.4L379.0 987.3Z" fill="#30a8e2" stroke="#30a8e2" stroke-width="0.9"/>
<path d="M352.4 983.7L354.4 985.8L352.4 987.6L350.3 985.5Z" fill="#3d4da5" stroke="#3d4da5" stroke-width="0.9"/>
<path d="M356.4 984.0L358.5 986.1L356.4 987.9L354.4 985.8Z" fill="#3d50a8" stroke="#3d50a8" stroke-width="0.9"/>
<path d="M360.5 984.3L362.6 986.4L360.5 988.2L358.5 986.1Z" fill="#3e55ab" stroke="#3e55ab" stroke-width="0.9"/>
<path d="M364.6 984.5L366.7 986.6L364.6 988.5L362.6 986.4Z" fill="#405fb2" stroke="#405fb2" stroke-width="0.9"/>
<path d="M368.7 984.8L370.8 986.9L368.7 988.7L366.7 986.6Z" fill="#406dba" stroke="#406dba" stroke-width="0.9"/>
<path d="M372.8 985.0L374.9 987.1L372.8 988.9L370.8 986.9Z" fill="#3f85cb" stroke="#3f85cb" stroke-width="0.9"/>
<path d="M376.9 985.3L379.0 987.3L376.9 989.2L374.9 987.1Z" fill="#3c92d4" stroke="#3c92d4" stroke-width="0.9"/>
<path d="M413.7 986.4L415.8 988.7L413.7 990.9L411.7 988.7Z" fill="#7fc491" stroke="#7fc491" stroke-width="0.9"/>
<path d="M385.1 985.4L387.1 987.4L385.1 989.3L383.0 987.4Z" fill="#48b9e3" stroke="#48b9e3" stroke-width="0.9"/>
<path d="M389.2 985.4L391.2 987.4L389.2 989.3L387.1 987.4Z" fill="#64c3de" stroke="#64c3de" stroke-width="0.9"/>
<path d="M393.3 985.5L395.3 987.5L393.3 989.4L391.2 987.4Z" fill="#75c9d7" stroke="#75c9d7" stroke-width="0.9"/>
<path d="M397.4 985.6L399.4 987.7L397.4 989.5L395.3 987.5Z" fill="#81cbcb" stroke="#81cbcb" stroke-width="0.9"/>
<path d="M401.5 985.8L403.5 987.9L401.5 989.8L399.4 987.7Z" fill="#83cbc0" stroke="#83cbc0" stroke-width="0.9"/>
<path d="M405.6 986.1L407.6 988.3L405.6 990.1L403.5 987.9Z" fill="#81c9b2" stroke="#81c9b2" stroke-width="0.9"/>
<path d="M409.6 986.5L411.7 988.7L409.6 990.4L407.6 988.3Z" fill="#80c7a3" stroke="#80c7a3" stroke-width="0.9"/>
<path d="M350.3 985.5L352.4 987.6L350.3 989.4L348.3 987.3Z" fill="#3d50a7" stroke="#3d50a7" stroke-width="0.9"/>
<path d="M354.4 985.8L356.4 987.9L354.4 989.7L352.4 987.6Z" fill="#3e54aa" stroke="#3e54aa" stroke-width="0.9"/>
<path d="M358.5 986.1L360.5 988.2L358.5 990.0L356.4 987.9Z" fill="#3f59ae" stroke="#3f59ae" stroke-width="0.9"/>
<path d="M362.6 986.4L364.6 988.5L362.6 990.3L360.5 988.2Z" fill="#4066b6" stroke="#4066b6" stroke-width="0.9"/>
<path d="M366.7 986.6L368.7 988.7L366.7 990.5L364.6 988.5Z" fill="#4075c0" stroke="#4075c0" stroke-width="0.9"/>
<path d="M370.8 986.9L372.8 988.9L370.8 990.8L368.7 988.7Z" fill="#3e8acf" stroke="#3e8acf" stroke-width="0.9"/>
<path d="M374.9 987.1L376.9 989.2L374.9 991.0L372.8 988.9Z" fill="#3b95d6" stroke="#3b95d6" stroke-width="0.9"/>
<path d="M379.0 987.3L381.0 989.4L379.0 991.2L376.9 989.2Z" fill="#35a1dd" stroke="#35a1dd" stroke-width="0.9"/>
<path d="M383.0 987.4L385.1 989.3L383.0 991.3L381.0 989.4Z" fill="#38b4e4" stroke="#38b4e4" stroke-width="0.9"/>
<path d="M387.1 987.4L389.2 989.3L387.1 991.3L385.1 989.3Z" fill="#59bfe0" stroke="#59bfe0" stroke-width="0.9"/>
<path d="M391.2 987.4L393.3 989.4L391.2 991.3L389.2 989.3Z" fill="#6fc8dc" stroke="#6fc8dc" stroke-width="0.9"/>
<path d="M395.3 987.5L397.4 989.5L395.3 991.4L393.3 989.4Z" fill="#7ccad0" stroke="#7ccad0" stroke-width="0.9"/>
<path d="M399.4 987.7L401.5 989.8L399.4 991.6L397.4 989.5Z" fill="#84ccc5" stroke="#84ccc5" stroke-width="0.9"/>
<path d="M403.5 987.9L405.6 990.1L403.5 991.9L401.5 989.8Z" fill="#82cab8" stroke="#82cab8" stroke-width="0.9"/>
<path d="M407.6 988.3L409.6 990.4L407.6 992.2L405.6 990.1Z" fill="#80c8aa" stroke="#80c8aa" stroke-width="0.9"/>
<path d="M411.7 988.7L413.7 990.9L411.7 992.6L409.6 990.4Z" fill="#7fc599" stroke="#7fc599" stroke-width="0.9"/>
<path d="M352.4 987.6L354.4 989.7L352.4 991.5L350.3 989.4Z" fill="#3e57ac" stroke="#3e57ac" stroke-width="0.9"/>
<path d="M356.4 987.9L358.5 990.0L356.4 991.8L354.4 989.7Z" fill="#4062b4" stroke="#4062b4" stroke-width="0.9"/>
<path d="M360.5 988.2L362.6 990.3L360.5 992.1L358.5 990.0Z" fill="#406dba" stroke="#406dba" stroke-width="0.9"/>
<path d="M364.6 988.5L366.7 990.5L364.6 992.4L362.6 990.3Z" fill="#3f80c7" stroke="#3f80c7" stroke-width="0.9"/>
<path d="M368.7 988.7L370.8 990.8L368.7 992.6L366.7 990.5Z" fill="#3d8ed1" stroke="#3d8ed1" stroke-width="0.9"/>
<path d="M372.8 988.9L374.9 991.0L372.8 992.9L370.8 990.8Z" fill="#3a97d8" stroke="#3a97d8" stroke-width="0.9"/>
<path d="M376.9 989.2L379.0 991.2L376.9 993.1L374.9 991.0Z" fill="#33a4df" stroke="#33a4df" stroke-width="0.9"/>
<path d="M385.1 989.3L387.1 991.3L385.1 993.2L383.0 991.3Z" fill="#4bbae2" stroke="#4bbae2" stroke-width="0.9"/>
<path d="M389.2 989.3L391.2 991.3L389.2 993.2L387.1 991.3Z" fill="#66c4de" stroke="#66c4de" stroke-width="0.9"/>
<path d="M393.3 989.4L395.3 991.4L393.3 993.3L391.2 991.3Z" fill="#77c9d5" stroke="#77c9d5" stroke-width="0.9"/>
<path d="M397.4 989.5L399.4 991.6L397.4 993.4L395.3 991.4Z" fill="#83ccc9" stroke="#83ccc9" stroke-width="0.9"/>
<path d="M401.5 989.8L403.5 991.9L401.5 993.6L399.4 991.6Z" fill="#83cbbe" stroke="#83cbbe" stroke-width="0.9"/>
<path d="M405.6 990.1L407.6 992.2L405.6 993.9L403.5 991.9Z" fill="#81c9af" stroke="#81c9af" stroke-width="0.9"/>
<path d="M409.6 990.4L411.7 992.6L409.6 994.3L407.6 992.2Z" fill="#7fc6a0" stroke="#7fc6a0" stroke-width="0.9"/>
<path d="M381.0 989.4L383.0 991.3L381.0 993.2L379.0 991.2Z" fill="#32b2e5" stroke="#32b2e5" stroke-width="0.9"/>
<path d="M354.4 989.7L356.4 991.8L354.4 993.6L352.4 991.5Z" fill="#4069b8" stroke="#4069b8" stroke-width="0.9"/>
<path d="M358.5 990.0L360.5 992.1L358.5 993.9L356.4 991.8Z" fill="#4075c0" stroke="#4075c0" stroke-width="0.9"/>
<path d="M362.6 990.3L364.6 992.4L362.6 994.2L360.5 992.1Z" fill="#3e88cd" stroke="#3e88cd" stroke-width="0.9"/>
<path d="M366.7 990.5L368.7 992.6L366.7 994.5L364.6 992.4Z" fill="#3c92d4" stroke="#3c92d4" stroke-width="0.9"/>
<path d="M370.8 990.8L372.8 992.9L370.8 994.7L368.7 992.6Z" fill="#389bda" stroke="#389bda" stroke-width="0.9"/>
<path d="M374.9 991.0L376.9 993.1L374.9 995.0L372.8 992.9Z" fill="#31a8e1" stroke="#31a8e1" stroke-width="0.9"/>
<path d="M387.1 991.3L389.2 993.2L387.1 995.1L385.1 993.2Z" fill="#5dc0e0" stroke="#5dc0e0" stroke-width="0.9"/>
<path d="M391.2 991.3L393.3 993.3L391.2 995.1L389.2 993.2Z" fill="#71c8db" stroke="#71c8db" stroke-width="0.9"/>
<path d="M395.3 991.4L397.4 993.4L395.3 995.2L393.3 993.3Z" fill="#7ecbce" stroke="#7ecbce" stroke-width="0.9"/>
<path d="M399.4 991.6L401.5 993.6L399.4 995.4L397.4 993.4Z" fill="#83cbc3" stroke="#83cbc3" stroke-width="0.9"/>
<path d="M403.5 991.9L405.6 993.9L403.5 995.7L401.5 993.6Z" fill="#82cab5" stroke="#82cab5" stroke-width="0.9"/>
<path d="M407.6 992.2L409.6 994.3L407.6 996.0L405.6 993.9Z" fill="#80c8a6" stroke="#80c8a6" stroke-width="0.9"/>
<path d="M379.0 991.2L381.0 993.2L379.0 995.1L376.9 993.1Z" fill="#35b3e5" stroke="#35b3e5" stroke-width="0.9"/>
<path d="M383.0 991.3L385.1 993.2L383.0 995.1L381.0 993.2Z" fill="#45b8e3" stroke="#45b8e3" stroke-width="0.9"/>
<path d="M356.4 991.8L358.5 993.9L356.4 995.8L354.4 993.6Z" fill="#3f81c8" stroke="#3f81c8" stroke-width="0.9"/>
<path d="M360.5 992.1L362.6 994.2L360.5 996.0L358.5 993.9Z" fill="#3d8dd0" stroke="#3d8dd0" stroke-width="0.9"/>
<path d="M364.6 992.4L366.7 994.5L364.6 996.3L362.6 994.2Z" fill="#3b95d6" stroke="#3b95d6" stroke-width="0.9"/>
<path d="M368.7 992.6L370.8 994.7L368.7 996.6L366.7 994.5Z" fill="#369fdc" stroke="#369fdc" stroke-width="0.9"/>
<path d="M372.8 992.9L374.9 995.0L372.8 996.8L370.8 994.7Z" fill="#2fabe3" stroke="#2fabe3" stroke-width="0.9"/>
<path d="M389.2 993.2L391.2 995.1L389.2 997.0L387.1 995.1Z" fill="#6bc6dd" stroke="#6bc6dd" stroke-width="0.9"/>
<path d="M393.3 993.3L395.3 995.2L393.3 997.1L391.2 995.1Z" fill="#7acad2" stroke="#7acad2" stroke-width="0.9"/>
<path d="M397.4 993.4L399.4 995.4L397.4 997.2L395.3 995.2Z" fill="#84ccc6" stroke="#84ccc6" stroke-width="0.9"/>
<path d="M401.5 993.6L403.5 995.7L401.5 997.5L399.4 995.4Z" fill="#82caba" stroke="#82caba" stroke-width="0.9"/>
<path d="M405.6 993.9L407.6 996.0L405.6 997.8L403.5 995.7Z" fill="#80c8ab" stroke="#80c8ab" stroke-width="0.9"/>
<path d="M376.9 993.1L379.0 995.1L376.9 996.9L374.9 995.0Z" fill="#37b4e5" stroke="#37b4e5" stroke-width="0.9"/>
<path d="M381.0 993.2L383.0 995.1L381.0 997.0L379.0 995.1Z" fill="#48b9e2" stroke="#48b9e2" stroke-width="0.9"/>
<path d="M385.1 993.2L387.1 995.1L385.1 997.0L383.0 995.1Z" fill="#59bfe0" stroke="#59bfe0" stroke-width="0.9"/>
<path d="M358.5 993.9L360.5 996.0L358.5 997.9L356.4 995.8Z" fill="#3c91d3" stroke="#3c91d3" stroke-width="0.9"/>
<path d="M362.6 994.2L364.6 996.3L362.6 998.1L360.5 996.0Z" fill="#3a98d8" stroke="#3a98d8" stroke-width="0.9"/>
<path d="M366.7 994.5L368.7 996.6L366.7 998.4L364.6 996.3Z" fill="#34a3de" stroke="#34a3de" stroke-width="0.9"/>
<path d="M370.8 994.7L372.8 996.8L370.8 998.6L368.7 996.6Z" fill="#2dafe5" stroke="#2dafe5" stroke-width="0.9"/>
<path d="M391.2 995.1L393.3 997.1L391.2 998.9L389.2 997.0Z" fill="#75c9d7" stroke="#75c9d7" stroke-width="0.9"/>
<path d="M395.3 995.2L397.4 997.2L395.3 999.0L393.3 997.1Z" fill="#82ccca" stroke="#82ccca" stroke-width="0.9"/>
<path d="M399.4 995.4L401.5 997.5L399.4 999.2L397.4 997.2Z" fill="#83cbbf" stroke="#83cbbf" stroke-width="0.9"/>
<path d="M403.5 995.7L405.6 997.8L403.5 999.5L401.5 997.5Z" fill="#81c9af" stroke="#81c9af" stroke-width="0.9"/>
<path d="M374.9 995.0L376.9 996.9L374.9 998.8L372.8 996.8Z" fill="#3ab5e4" stroke="#3ab5e4" stroke-width="0.9"/>
<path d="M379.0 995.1L381.0 997.0L379.0 998.9L376.9 996.9Z" fill="#4bbae2" stroke="#4bbae2" stroke-width="0.9"/>
<path d="M383.0 995.1L385.1 997.0L383.0 999.0L381.0 997.0Z" fill="#5bc0e0" stroke="#5bc0e0" stroke-width="0.9"/>
<path d="M387.1 995.1L389.2 997.0L387.1 999.0L385.1 997.0Z" fill="#68c5de" stroke="#68c5de" stroke-width="0.9"/>
<path d="M360.5 996.0L362.6 998.1L360.5 1000.0L358.5 997.9Z" fill="#389cda" stroke="#389cda" stroke-width="0.9"/>
<path d="M364.6 996.3L366.7 998.4L364.6 1000.2L362.6 998.1Z" fill="#31a7e1" stroke="#31a7e1" stroke-width="0.9"/>
<path d="M368.7 996.6L370.8 998.6L368.7 1000.5L366.7 998.4Z" fill="#2fb1e6" stroke="#2fb1e6" stroke-width="0.9"/>
<path d="M393.3 997.1L395.3 999.0L393.3 1000.8L391.2 998.9Z" fill="#7ecbce" stroke="#7ecbce" stroke-width="0.9"/>
<path d="M397.4 997.2L399.4 999.2L397.4 1001.0L395.3 999.0Z" fill="#83cbc2" stroke="#83cbc2" stroke-width="0.9"/>
<path d="M401.5 997.5L403.5 999.5L401.5 1001.2L399.4 999.2Z" fill="#81c9b3" stroke="#81c9b3" stroke-width="0.9"/>
<path d="M372.8 996.8L374.9 998.8L372.8 1000.7L370.8 998.6Z" fill="#3db6e4" stroke="#3db6e4" stroke-width="0.9"/>
<path d="M376.9 996.9L379.0 998.9L376.9 1000.9L374.9 998.8Z" fill="#4ebbe2" stroke="#4ebbe2" stroke-width="0.9"/>
<path d="M381.0 997.0L383.0 999.0L381.0 1000.9L379.0 998.9Z" fill="#5ec1e0" stroke="#5ec1e0" stroke-width="0.9"/>
<path d="M385.1 997.0L387.1 999.0L385.1 1001.0L383.0 999.0Z" fill="#6ac6dd" stroke="#6ac6dd" stroke-width="0.9"/>
<path d="M389.2 997.0L391.2 998.9L389.2 1000.9L387.1 999.0Z" fill="#73c9d9" stroke="#73c9d9" stroke-width="0.9"/>
<path d="M362.6 998.1L364.6 1000.2L362.6 1002.1L360.5 1000.0Z" fill="#2faae3" stroke="#2faae3" stroke-width="0.9"/>
<path d="M366.7 998.4L368.7 1000.5L366.7 1002.4L364.6 1000.2Z" fill="#32b2e5" stroke="#32b2e5" stroke-width="0.9"/>
<path d="M395.3 999.0L397.4 1001.0L395.3 1002.7L393.3 1000.8Z" fill="#84ccc6" stroke="#84ccc6" stroke-width="0.9"/>
<path d="M399.4 999.2L401.5 1001.2L399.4 1002.9L397.4 1001.0Z" fill="#82cab7" stroke="#82cab7" stroke-width="0.9"/>
<path d="M370.8 998.6L372.8 1000.7L370.8 1002.6L368.7 1000.5Z" fill="#40b7e4" stroke="#40b7e4" stroke-width="0.9"/>
<path d="M374.9 998.8L376.9 1000.9L374.9 1002.8L372.8 1000.7Z" fill="#51bce1" stroke="#51bce1" stroke-width="0.9"/>
<path d="M379.0 998.9L381.0 1000.9L379.0 1002.9L376.9 1000.9Z" fill="#60c2df" stroke="#60c2df" stroke-width="0.9"/>
<path d="M383.0 999.0L385.1 1001.0L383.0 1002.9L381.0 1000.9Z" fill="#6cc7dd" stroke="#6cc7dd" stroke-width="0.9"/>
<path d="M387.1 999.0L389.2 1000.9L387.1 1002.9L385.1 1001.0Z" fill="#75c9d7" stroke="#75c9d7" stroke-width="0.9"/>
<path d="M391.2 998.9L393.3 1000.8L391.2 1002.8L389.2 1000.9Z" fill="#7dcbcf" stroke="#7dcbcf" stroke-width="0.9"/>
<path d="M364.6 1000.2L366.7 1002.4L364.6 1004.2L362.6 1002.1Z" fill="#35b3e5" stroke="#35b3e5" stroke-width="0.9"/>
<path d="M397.4 1001.0L399.4 1002.9L397.4 1004.6L395.3 1002.7Z" fill="#82cabc" stroke="#82cabc" stroke-width="0.9"/>
<path d="M368.7 1000.5L370.8 1002.6L368.7 1004.5L366.7 1002.4Z" fill="#42b7e3" stroke="#42b7e3" stroke-width="0.9"/>
<path d="M372.8 1000.7L374.9 1002.8L372.8 1004.7L370.8 1002.6Z" fill="#53bde1" stroke="#53bde1" stroke-width="0.9"/>
<path d="M376.9 1000.9L379.0 1002.9L376.9 1004.8L374.9 1002.8Z" fill="#62c2df" stroke="#62c2df" stroke-width="0.9"/>
<path d="M381.0 1000.9L383.0 1002.9L381.0 1004.9L379.0 1002.9Z" fill="#6ec7dc" stroke="#6ec7dc" stroke-width="0.9"/>
<path d="M385.1 1001.0L387.1 1002.9L385.1 1004.9L383.0 1002.9Z" fill="#76c9d6" stroke="#76c9d6" stroke-width="0.9"/>
<path d="M389.2 1000.9L391.2 1002.8L389.2 1004.9L387.1 1002.9Z" fill="#7ecbce" stroke="#7ecbce" stroke-width="0.9"/>
<path d="M393.3 1000.8L395.3 1002.7L393.3 1004.8L391.2 1002.8Z" fill="#84ccc6" stroke="#84ccc6" stroke-width="0.9"/>
<path d="M366.7 1002.4L368.7 1004.5L366.7 1006.4L364.6 1004.2Z" fill="#45b8e3" stroke="#45b8e3" stroke-width="0.9"/>
<path d="M370.8 1002.6L372.8 1004.7L370.8 1006.6L368.7 1004.5Z" fill="#56bee1" stroke="#56bee1" stroke-width="0.9"/>
<path d="M374.9 1002.8L376.9 1004.8L374.9 1006.8L372.8 1004.7Z" fill="#64c3de" stroke="#64c3de" stroke-width="0.9"/>
<path d="M379.0 1002.9L381.0 1004.9L379.0 1006.9L376.9 1004.8Z" fill="#70c8dc" stroke="#70c8dc" stroke-width="0.9"/>
<path d="M383.0 1002.9L385.1 1004.9L383.0 1007.0L381.0 1004.9Z" fill="#78cad4" stroke="#78cad4" stroke-width="0.9"/>
<path d="M387.1 1002.9L389.2 1004.9L387.1 1006.9L385.1 1004.9Z" fill="#80cbcc" stroke="#80cbcc" stroke-width="0.9"/>
<path d="M391.2 1002.8L393.3 1004.8L391.2 1006.9L389.2 1004.9Z" fill="#84ccc5" stroke="#84ccc5" stroke-width="0.9"/>
<path d="M395.3 1002.7L397.4 1004.6L395.3 1006.7L393.3 1004.8Z" fill="#83cbbc" stroke="#83cbbc" stroke-width="0.9"/>
<path d="M368.7 1004.5L370.8 1006.6L368.7 1008.5L366.7 1006.4Z" fill="#59bfe0" stroke="#59bfe0" stroke-width="0.9"/>
<path d="M372.8 1004.7L374.9 1006.8L372.8 1008.7L370.8 1006.6Z" fill="#66c4de" stroke="#66c4de" stroke-width="0.9"/>
<path d="M376.9 1004.8L379.0 1006.9L376.9 1008.9L374.9 1006.8Z" fill="#71c8db" stroke="#71c8db" stroke-width="0.9"/>
<path d="M381.0 1004.9L383.0 1007.0L381.0 1009.0L379.0 1006.9Z" fill="#79cad3" stroke="#79cad3" stroke-width="0.9"/>
<path d="M385.1 1004.9L387.1 1006.9L385.1 1009.0L383.0 1007.0Z" fill="#81cbcb" stroke="#81cbcb" stroke-width="0.9"/>
<path d="M389.2 1004.9L391.2 1006.9L389.2 1008.9L387.1 1006.9Z" fill="#83cbc4" stroke="#83cbc4" stroke-width="0.9"/>
<path d="M393.3 1004.8L395.3 1006.7L393.3 1008.8L391.2 1006.9Z" fill="#82caba" stroke="#82caba" stroke-width="0.9"/>
<path d="M370.8 1006.6L372.8 1008.7L370.8 1010.7L368.7 1008.5Z" fill="#69c5dd" stroke="#69c5dd" stroke-width="0.9"/>
<path d="M374.9 1006.8L376.9 1008.9L374.9 1010.9L372.8 1008.7Z" fill="#73c9d9" stroke="#73c9d9" stroke-width="0.9"/>
<path d="M379.0 1006.9L381.0 1009.0L379.0 1011.0L376.9 1008.9Z" fill="#7bcad1" stroke="#7bcad1" stroke-width="0.9"/>
<path d="M383.0 1007.0L385.1 1009.0L383.0 1011.0L381.0 1009.0Z" fill="#82ccca" stroke="#82ccca" stroke-width="0.9"/>
<path d="M387.1 1006.9L389.2 1008.9L387.1 1011.0L385.1 1009.0Z" fill="#83cbc2" stroke="#83cbc2" stroke-width="0.9"/>
<path d="M391.2 1006.9L393.3 1008.8L391.2 1010.9L389.2 1008.9Z" fill="#82cab8" stroke="#82cab8" stroke-width="0.9"/>
<path d="M372.8 1008.7L374.9 1010.9L372.8 1012.9L370.8 1010.7Z" fill="#74c9d8" stroke="#74c9d8" stroke-width="0.9"/>
<path d="M376.9 1008.9L379.0 1011.0L376.9 1013.0L374.9 1010.9Z" fill="#7ccad0" stroke="#7ccad0" stroke-width="0.9"/>
<path d="M381.0 1009.0L383.0 1011.0L381.0 1013.1L379.0 1011.0Z" fill="#84ccc8" stroke="#84ccc8" stroke-width="0.9"/>
<path d="M385.1 1009.0L387.1 1011.0L385.1 1013.1L383.0 1011.0Z" fill="#83cbc1" stroke="#83cbc1" stroke-width="0.9"/>
<path d="M389.2 1008.9L391.2 1010.9L389.2 1013.0L387.1 1011.0Z" fill="#82cab5" stroke="#82cab5" stroke-width="0.9"/>
<path d="M374.9 1010.9L376.9 1013.0L374.9 1015.0L372.8 1012.9Z" fill="#7dcbcf" stroke="#7dcbcf" stroke-width="0.9"/>
<path d="M379.0 1011.0L381.0 1013.1L379.0 1015.1L376.9 1013.0Z" fill="#84ccc7" stroke="#84ccc7" stroke-width="0.9"/>
<path d="M383.0 1011.0L385.1 1013.1L383.0 1015.2L381.0 1013.1Z" fill="#83cbbf" stroke="#83cbbf" stroke-width="0.9"/>
<path d="M387.1 1011.0L389.2 1013.0L387.1 1015.2L385.1 1013.1Z" fill="#81c9b3" stroke="#81c9b3" stroke-width="0.9"/>
<path d="M376.9 1013.0L379.0 1015.1L376.9 1017.2L374.9 1015.0Z" fill="#84ccc5" stroke="#84ccc5" stroke-width="0.9"/>
<path d="M381.0 1013.1L383.0 1015.2L381.0 1017.3L379.0 1015.1Z" fill="#83cbbc" stroke="#83cbbc" stroke-width="0.9"/>
<path d="M385.1 1013.1L387.1 1015.2L385.1 1017.3L383.0 1015.2Z" fill="#81c9b0" stroke="#81c9b0" stroke-width="0.9"/>
<path d="M379.0 1015.1L381.0 1017.3L379.0 1019.3L376.9 1017.2Z" fill="#82caba" stroke="#82caba" stroke-width="0.9"/>
<path d="M383.0 1015.2L385.1 1017.3L383.0 1019.4L381.0 1017.3Z" fill="#81c9ae" stroke="#81c9ae" stroke-width="0.9"/>
<path d="M381.0 1017.3L383.0 1019.4L381.0 1021.5L379.0 1019.3Z" fill="#80c8ac" stroke="#80c8ac" stroke-width="0.9"/>
<path d="M381.0 872.8L364.6 908.4L348.3 914.3L331.9 933.8M397.4 924.9L381.0 956.0L364.6 972.9L348.3 987.3M413.7 950.7L397.4 973.3L381.0 989.4L364.6 1004.2M430.1 973.5L413.7 990.9L397.4 1004.6L381.0 1021.5M381.0 872.8L397.4 924.9L413.7 950.7L430.1 973.5M364.6 908.4L381.0 956.0L397.4 973.3L413.7 990.9M348.3 914.3L364.6 972.9L381.0 989.4L397.4 1004.6M331.9 933.8L348.3 987.3L364.6 1004.2L381.0 1021.5" stroke="#ffffff" stroke-opacity="0.3" stroke-width="0.8" fill="none"/>
<circle cx="381.0" cy="872.8" r="1.3" fill="#1a1a1a"/>
<circle cx="364.6" cy="908.4" r="1.3" fill="#1a1a1a"/>
<circle cx="348.3" cy="914.3" r="1.3" fill="#1a1a1a"/>
<circle cx="331.9" cy="933.8" r="1.3" fill="#1a1a1a"/>
<circle cx="397.4" cy="924.9" r="1.3" fill="#1a1a1a"/>
<circle cx="348.3" cy="987.3" r="1.3" fill="#1a1a1a"/>
<circle cx="413.7" cy="950.7" r="1.3" fill="#1a1a1a"/>
<circle cx="397.4" cy="973.3" r="1.3" fill="#1a1a1a"/>
<circle cx="381.0" cy="989.4" r="1.3" fill="#1a1a1a"/>
<circle cx="364.6" cy="1004.2" r="1.3" fill="#1a1a1a"/>
<circle cx="430.1" cy="973.5" r="1.3" fill="#1a1a1a"/>
<circle cx="413.7" cy="990.9" r="1.3" fill="#1a1a1a"/>
<circle cx="397.4" cy="1004.6" r="1.3" fill="#1a1a1a"/>
<circle cx="381.0" cy="1021.5" r="1.3" fill="#1a1a1a"/>
<path d="M331.9 914.8V977.9" stroke="#a8a8a8" stroke-width="1" fill="none"/>
<path d="M331.9 977.9L381.0 1022.9L430.1 977.9" stroke="#a8a8a8" stroke-width="1.1" fill="none"/>
<text x="326.2" y="912.9" font-size="12.8" text-anchor="end" fill="#1a1a1a">100</text>
<text x="326.2" y="945.6" font-size="12.8" text-anchor="end" fill="#1a1a1a">50</text>
<text x="326.2" y="978.8" font-size="12.8" text-anchor="end" fill="#1a1a1a">0</text>
<text x="324.9" y="989.6" font-size="12.8" text-anchor="middle" fill="#1a1a1a">0</text>
<text x="337" y="1005.2" font-size="12.8" text-anchor="middle" fill="#1a1a1a">0.8</text>
<text x="354.3" y="1018.3" font-size="12.8" text-anchor="middle" fill="#1a1a1a">1</text>
<text x="370.6" y="1034.9" font-size="12.8" text-anchor="middle" fill="#1a1a1a">1.4</text>
<text x="435" y="989.6" font-size="12.8" text-anchor="middle" fill="#1a1a1a">0</text>
<text x="423" y="1005.2" font-size="12.8" text-anchor="middle" fill="#1a1a1a">0.6</text>
<text x="408.9" y="1018.3" font-size="12.8" text-anchor="middle" fill="#1a1a1a">1.8</text>
<text x="392.5" y="1034.9" font-size="12.8" text-anchor="middle" fill="#1a1a1a">5.4</text>
<text x="260" y="1052.1" font-size="12.4" fill="#1a1a1a" textLength="106.2" lengthAdjust="spacingAndGlyphs">RUG 2 FK866 [nM]</text>
<text x="397" y="1052.1" font-size="12.4" fill="#1a1a1a" textLength="108" lengthAdjust="spacingAndGlyphs">DRUG 1 IACS [uM]</text>
<text transform="translate(296.9,928.3) rotate(-90)" font-size="17.4" class="c" text-anchor="middle" fill="#1a1a1a" textLength="50.8" lengthAdjust="spacingAndGlyphs">% Control</text>
<rect x="448.6" y="871.8" width="12.4" height="150.5" fill="url(#cbg)"/>
<text transform="translate(477.8,920.4) rotate(-90)" font-size="12.4" fill="#1a1a1a" textLength="44.2" lengthAdjust="spacingAndGlyphs">Synergy</text>
<text transform="translate(477.8,1008.8) rotate(-90)" font-size="12.4" fill="#1a1a1a" textLength="64.8" lengthAdjust="spacingAndGlyphs">Antagonism</text>
<rect x="0.5" y="0.5" width="519" height="1068" fill="none" stroke="#111" stroke-width="1.2"/>
</svg></body></html>
